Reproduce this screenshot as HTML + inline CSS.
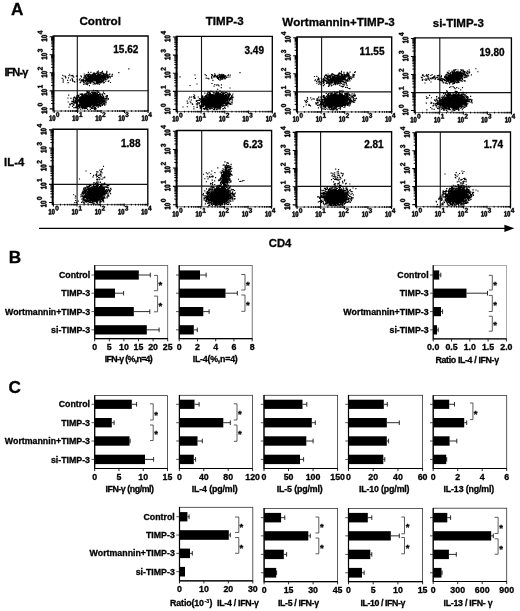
<!DOCTYPE html>
<html>
<head>
<meta charset="utf-8">
<title>Figure</title>
<style>
html,body{margin:0;padding:0;background:#fff;}
body{width:520px;height:611px;overflow:hidden;font-family:"Liberation Sans",sans-serif;}
svg{display:block;filter:blur(0.3px);}
svg text{font-family:"Liberation Sans",sans-serif;font-weight:bold;fill:#000;stroke:#000;stroke-width:0.3px;font-kerning:none;}
</style>
</head>
<body>
<svg width="520" height="611" viewBox="0 0 520 611">
<rect x="0" y="0" width="520" height="611" fill="#fff"/>
<defs>
<g id="T"><path d="M129 0V209H478V1170L140 959V1180L493 1409H759V209H1082V0Z"/><path transform="translate(1139 0)" d="M1055 705Q1055 348 932 164Q810 -20 565 -20Q81 -20 81 705Q81 958 134 1118Q187 1278 293 1354Q399 1430 573 1430Q823 1430 939 1249Q1055 1068 1055 705ZM773 705Q773 900 754 1008Q735 1116 693 1163Q651 1210 571 1210Q486 1210 442 1162Q399 1115 380 1007Q362 900 362 705Q362 512 381 403Q401 295 443 248Q486 201 567 201Q647 201 690 250Q734 300 753 409Q773 518 773 705Z"/></g>
<path id="d0" d="M1055 705Q1055 348 932 164Q810 -20 565 -20Q81 -20 81 705Q81 958 134 1118Q187 1278 293 1354Q399 1430 573 1430Q823 1430 939 1249Q1055 1068 1055 705ZM773 705Q773 900 754 1008Q735 1116 693 1163Q651 1210 571 1210Q486 1210 442 1162Q399 1115 380 1007Q362 900 362 705Q362 512 381 403Q401 295 443 248Q486 201 567 201Q647 201 690 250Q734 300 753 409Q773 518 773 705Z"/>
<path id="d1" d="M129 0V209H478V1170L140 959V1180L493 1409H759V209H1082V0Z"/>
<path id="d2" d="M71 0V195Q126 316 227 431Q329 546 483 671Q631 791 690 869Q750 947 750 1022Q750 1206 565 1206Q475 1206 427 1157Q380 1109 366 1012L83 1028Q107 1224 229 1327Q352 1430 563 1430Q791 1430 913 1326Q1035 1222 1035 1034Q1035 935 996 855Q957 775 896 707Q835 640 760 581Q686 522 616 466Q546 410 488 353Q431 296 403 231H1057V0Z"/>
<path id="d3" d="M1065 391Q1065 193 935 85Q805 -23 565 -23Q338 -23 204 81Q70 186 47 383L333 408Q360 205 564 205Q665 205 721 255Q777 305 777 408Q777 502 709 552Q641 602 507 602H409V829H501Q622 829 683 878Q744 928 744 1020Q744 1107 695 1156Q647 1206 554 1206Q467 1206 413 1158Q360 1110 352 1022L71 1042Q93 1224 222 1327Q351 1430 559 1430Q780 1430 904 1330Q1029 1231 1029 1055Q1029 923 951 838Q874 753 728 725V721Q890 702 977 614Q1065 527 1065 391Z"/>
<path id="d4" d="M940 287V0H672V287H31V498L626 1409H940V496H1128V287ZM672 957Q672 1011 675 1074Q679 1137 681 1155Q655 1099 587 993L260 496H672Z"/>
</defs>
<text x="10.9" y="14.8" font-size="17.2" text-anchor="start" >A</text>
<text x="8.7" y="262.9" font-size="17.2" text-anchor="start" >B</text>
<text x="8.4" y="393" font-size="17.2" text-anchor="start" >C</text>
<text x="100.2" y="25.4" font-size="11.7" text-anchor="middle" >Control</text>
<text x="224.7" y="25.2" font-size="11.5" text-anchor="middle" >TIMP-3</text>
<text x="338.5" y="25.5" font-size="11.6" text-anchor="middle" >Wortmannin+TIMP-3</text>
<text x="458.3" y="26.5" font-size="11.5" text-anchor="middle" >si-TIMP-3</text>
<text x="4.4" y="75.6" font-size="11" text-anchor="start" letter-spacing="-0.9">IFN-γ</text>
<text x="4.1" y="166.4" font-size="11.3" text-anchor="start" >IL-4</text>
<g>
<path d="M53.8 36H148.1V111" fill="none" stroke="#000" stroke-width="1.35"/>
<path d="M53.8 111H148.1" fill="none" stroke="#333" stroke-width="0.8"/>
<path d="M53.4 35.4V111.5" fill="none" stroke="#000" stroke-width="2"/>
<path d="M77.3 36V110.6M54.3 90.7H148.1" fill="none" stroke="#111" stroke-width="1.1"/>
<path d="M54.3 108.9h-4.6M54.1 110v2.9M54.3 90.85h-4.6M77.6 110v2.9M54.3 72.8h-4.6M101.1 110v2.9M54.3 54.75h-4.6M124.6 110v2.9M54.3 36.7h-4.6M148.1 110v2.9" stroke="#000" stroke-width="1.1" fill="none"/>
<path d="M54.3 103.47h-3.2M61.17 110.2v1.7M54.3 100.29h-3.2M65.31 110.2v1.7M54.3 98.03h-3.2M68.25 110.2v1.7M54.3 96.28h-3.2M70.53 110.2v1.7M54.3 94.85h-3.2M72.39 110.2v1.7M54.3 93.65h-3.2M73.96 110.2v1.7M54.3 92.6h-3.2M75.32 110.2v1.7M54.3 91.68h-3.2M76.52 110.2v1.7M54.3 85.42h-3.2M84.67 110.2v1.7M54.3 82.24h-3.2M88.81 110.2v1.7M54.3 79.98h-3.2M91.75 110.2v1.7M54.3 78.23h-3.2M94.03 110.2v1.7M54.3 76.8h-3.2M95.89 110.2v1.7M54.3 75.6h-3.2M97.46 110.2v1.7M54.3 74.55h-3.2M98.82 110.2v1.7M54.3 73.63h-3.2M100.02 110.2v1.7M54.3 67.37h-3.2M108.17 110.2v1.7M54.3 64.19h-3.2M112.31 110.2v1.7M54.3 61.93h-3.2M115.25 110.2v1.7M54.3 60.18h-3.2M117.53 110.2v1.7M54.3 58.75h-3.2M119.39 110.2v1.7M54.3 57.55h-3.2M120.96 110.2v1.7M54.3 56.5h-3.2M122.32 110.2v1.7M54.3 55.58h-3.2M123.52 110.2v1.7M54.3 49.32h-3.2M131.67 110.2v1.7M54.3 46.14h-3.2M135.81 110.2v1.7M54.3 43.88h-3.2M138.75 110.2v1.7M54.3 42.13h-3.2M141.03 110.2v1.7M54.3 40.7h-3.2M142.89 110.2v1.7M54.3 39.5h-3.2M144.46 110.2v1.7M54.3 38.45h-3.2M145.82 110.2v1.7M54.3 37.53h-3.2M147.02 110.2v1.7" stroke="#000" stroke-width="1" fill="none"/>
<use href="#T" transform="translate(49.1 120.8) scale(0.00282 -0.00381)" stroke="#000" stroke-width="150" stroke-linejoin="round"/>
<use href="#d0" transform="translate(55.9 116.9) scale(0.00315 -0.00332)" stroke="#000" stroke-width="130" stroke-linejoin="round"/>
<g transform="translate(47.1 113.6) rotate(-90)">
<use href="#T" transform="translate(-0.2 0) scale(0.00296 -0.00400)" stroke="#000" stroke-width="150" stroke-linejoin="round"/>
<use href="#d0" transform="translate(7.1 -4.6) scale(0.00325 -0.00342)" stroke="#000" stroke-width="130" stroke-linejoin="round"/>
</g>
<use href="#T" transform="translate(72.2 120.8) scale(0.00282 -0.00381)" stroke="#000" stroke-width="150" stroke-linejoin="round"/>
<use href="#d1" transform="translate(79 116.9) scale(0.00315 -0.00332)" stroke="#000" stroke-width="130" stroke-linejoin="round"/>
<g transform="translate(47.1 95.55) rotate(-90)">
<use href="#T" transform="translate(-0.2 0) scale(0.00296 -0.00400)" stroke="#000" stroke-width="150" stroke-linejoin="round"/>
<use href="#d1" transform="translate(7.1 -4.6) scale(0.00325 -0.00342)" stroke="#000" stroke-width="130" stroke-linejoin="round"/>
</g>
<use href="#T" transform="translate(95.3 120.8) scale(0.00282 -0.00381)" stroke="#000" stroke-width="150" stroke-linejoin="round"/>
<use href="#d2" transform="translate(102.1 116.9) scale(0.00315 -0.00332)" stroke="#000" stroke-width="130" stroke-linejoin="round"/>
<g transform="translate(47.1 77.5) rotate(-90)">
<use href="#T" transform="translate(-0.2 0) scale(0.00296 -0.00400)" stroke="#000" stroke-width="150" stroke-linejoin="round"/>
<use href="#d2" transform="translate(7.1 -4.6) scale(0.00325 -0.00342)" stroke="#000" stroke-width="130" stroke-linejoin="round"/>
</g>
<use href="#T" transform="translate(118.4 120.8) scale(0.00282 -0.00381)" stroke="#000" stroke-width="150" stroke-linejoin="round"/>
<use href="#d3" transform="translate(125.2 116.9) scale(0.00315 -0.00332)" stroke="#000" stroke-width="130" stroke-linejoin="round"/>
<g transform="translate(47.1 59.45) rotate(-90)">
<use href="#T" transform="translate(-0.2 0) scale(0.00296 -0.00400)" stroke="#000" stroke-width="150" stroke-linejoin="round"/>
<use href="#d3" transform="translate(7.1 -4.6) scale(0.00325 -0.00342)" stroke="#000" stroke-width="130" stroke-linejoin="round"/>
</g>
<use href="#T" transform="translate(141.5 120.8) scale(0.00282 -0.00381)" stroke="#000" stroke-width="150" stroke-linejoin="round"/>
<use href="#d4" transform="translate(148.3 116.9) scale(0.00315 -0.00332)" stroke="#000" stroke-width="130" stroke-linejoin="round"/>
<g transform="translate(47.1 41.4) rotate(-90)">
<use href="#T" transform="translate(-0.2 0) scale(0.00296 -0.00400)" stroke="#000" stroke-width="150" stroke-linejoin="round"/>
<use href="#d4" transform="translate(7.1 -4.6) scale(0.00325 -0.00342)" stroke="#000" stroke-width="130" stroke-linejoin="round"/>
</g>
<clipPath id="c0"><rect x="54.3" y="36" width="93.8" height="74.3"/></clipPath>
<g clip-path="url(#c0)">
<path d="M78.4 105.3h0M76.9 95.9h0M86.2 107.5h0M92.6 94.6h0M75.3 101.4h0M79.9 105h0M100.9 100.3h0M98.6 91.7h0M79.6 102.9h0M101.1 101.1h0M82.5 105.2h0M102.2 101.1h0M79.4 106.8h0M75.4 100.2h0M95.4 93h0M81.4 107.7h0M100.7 97.4h0M80 101.4h0M100 95.3h0M98.8 94.6h0M98.9 102.5h0M105.1 99.6h0M108.2 99.3h0M97 95.2h0M97.2 105.1h0M77.6 101h0M97.4 94.1h0M94.4 94.3h0M90.3 106.2h0M78.2 96.5h0M81.9 96.2h0M99.9 101.9h0M100.5 95.5h0M96.6 105.5h0M84.5 107.1h0M76.5 107.7h0M100.7 95.2h0M99.3 104.8h0M100.7 98.3h0M100.5 98.1h0M73.2 101.4h0M77 105.4h0M102 104.9h0M75.9 98.5h0M76.4 106.4h0M103.3 98.8h0M77.8 100h0M78.4 99.8h0M78.9 101.6h0M73.1 104.1h0M84.5 94h0M73.4 99.6h0M100.3 101.5h0M92.4 92.4h0M97.4 104.4h0M103.5 92.1h0M94.9 108.9h0M104 98.1h0M93.5 90.3h0M102.8 100.3h0M76.5 106.3h0M100.8 105.8h0M79.6 99.5h0M106.3 102.1h0M80.8 96.8h0M103.2 102.4h0M104 101.6h0M74 100h0M76.3 102.7h0M83.4 107.4h0M86.7 95.9h0M101.4 101.6h0M102.8 102.4h0M97.1 95.5h0M89.5 95.1h0M86 93.6h0M87.8 95.5h0M103.9 100.5h0M97.8 96.1h0M87.9 94h0M76.3 102.3h0M93.9 93.4h0M76.3 98.5h0M84.9 96h0M101.8 103.2h0M80.3 100h0M81.9 97.6h0M93 94.2h0M79.3 102.8h0M90.6 95.3h0M84.2 96.3h0M107.1 96.9h0M97.2 90.6h0M95.8 108.4h0M98.3 95.6h0M93.1 108h0M85.4 107.7h0M102.4 98.9h0M100.2 96.5h0M101.9 103.1h0M87.6 109.4h0M78.3 108.8h0M99.6 94.6h0M78.3 96.1h0M89.6 95.2h0M87.5 106.7h0M95.4 107.6h0M75.9 99.2h0M79.9 101.8h0M103.6 96.5h0M101.6 100.1h0M77.9 107.6h0M95.9 93.2h0M79.1 101.3h0M100.8 96.9h0M82 96.6h0M102.8 100.3h0M93.1 108.4h0M82.2 97.3h0M100.2 97.7h0M101.1 97.5h0M79.2 102.1h0M80.9 94.4h0M92.9 94.3h0M93.3 106.3h0M80.1 94.1h0M101.8 94.2h0M98.1 107.4h0M82.5 107h0M79.6 108h0M79.4 105.7h0M88.8 92.7h0M99.8 97.8h0M90.1 106.4h0M102.5 98.9h0M98.8 96.6h0M107.4 95.6h0M93.3 94.3h0M95 94.1h0M95 105.7h0M81.7 97.9h0M89 93.4h0M99.8 105.5h0M93.3 95h0M77 103.5h0M98 92.4h0M90.3 107h0M81.4 98.8h0M90.6 105.5h0M96.7 104.5h0M106 98.6h0M78.6 105.3h0M78.2 106.5h0M79.1 95.7h0M99.2 102h0M73.5 101.7h0M95.4 90.6h0M98.2 96.4h0M79.1 106.2h0M86.7 93.1h0M80.9 104.3h0M100.4 99.8h0M90.4 94h0M88 94.4h0M87.7 94h0M71.9 103.5h0M93.1 91.7h0M73.7 102.7h0M100.3 106.5h0M82.6 94.4h0M97.3 105.2h0M76.4 98.7h0M82.9 106.4h0M80.5 99h0M74.6 102.1h0M102.5 105.3h0M99.2 102.2h0M98.4 94.6h0M100.8 99.4h0M100.9 96.7h0M91.5 108.4h0M102.4 101.1h0M94 104.8h0M79.7 101.7h0M105.2 100.7h0M91.8 94.5h0M104.4 98.8h0M84.7 106.6h0M84.5 94.5h0M89.9 105.9h0M88.3 91.8h0M92.4 108.3h0M81.9 97.5h0M76.6 103.8h0M84.6 94.3h0M79.7 104.3h0M93.3 105.1h0M105 102.3h0M104.1 103.9h0M85.9 96.2h0M85.5 95.4h0M82.1 106.9h0M95.8 92.6h0M104.1 101.6h0M104.7 93.9h0M97.1 93.9h0M80.4 96.7h0M88.6 106.5h0M95.7 95.6h0M78.9 104.6h0M84.3 106.1h0M77.2 102.7h0M83.1 107.3h0M90.3 109.4h0M98.7 102.7h0M101.9 102.1h0M85.1 95h0M79.9 107.3h0M78 101h0M89.7 95.2h0M98.9 105.2h0M83.2 96.3h0M85.2 94.3h0M101.8 97.9h0M106 104h0M103.1 98h0M94.4 104.9h0M80.3 105.8h0M97 103.5h0M80.7 105.3h0M78.9 99.3h0M86.5 93.4h0M91.1 94.6h0M96.2 95.1h0M86.9 105.8h0M91.7 94.5h0M81.5 94h0M95.2 104.8h0M97.8 105h0M78.7 100.6h0M79.7 101.6h0M75.8 107.4h0M93.7 105.5h0M81 105.7h0M80.6 104.6h0M93 106.2h0M93.7 106.6h0M99.6 103.9h0M93.3 95.1h0M94.4 109.4h0M84.5 105.6h0M95 93.6h0M101.9 99h0M81.1 104.1h0M102.7 95.6h0M103.4 101.1h0M100.3 95.4h0M99.7 104.6h0M108.3 98.6h0M92.4 106.6h0M100.4 95.3h0M98.8 106.1h0M79.7 97.9h0M81.6 94.8h0M92.6 93.2h0M94.6 105.3h0M78.2 101h0M76.5 105.3h0M75.8 100.7h0M104.3 98.8h0M82.2 95.5h0M82.9 97.5h0M100.2 100h0M82.1 93.7h0M87.5 95.8h0M83.4 107.8h0M77.6 101.2h0M82.1 96.2h0M81 96.9h0M101.8 100.4h0M98.7 96.9h0M82.4 96.1h0M98.3 96.6h0M82.1 98.1h0M91.6 92.1h0M95.1 93.9h0M78.5 95.4h0M75.1 97.8h0M101.3 99.1h0M104.9 105.2h0M103.3 102.6h0M102.5 100.8h0M85.9 93.9h0M81.7 97.5h0M74 104.9h0M100.9 99.5h0M86.5 106.6h0M98.4 105.8h0M80.3 104h0M99 104.5h0M83.9 105.5h0M81.1 106.1h0M102 96.6h0M85.3 94.5h0M85.9 105.5h0M103.7 97.6h0M76.8 105.8h0M82.8 105.5h0M77 97.6h0M95.4 92.6h0M103.8 100.4h0M94.8 92.9h0M97.3 94h0M82.7 94h0M77.5 100.1h0M94.8 105.8h0M81.1 98.3h0M90.7 106.7h0M102 102.4h0M76 98.7h0M95.7 105h0M98.8 102.6h0M101.7 96.8h0M96.9 90.8h0M76 99.8h0M73.4 105.2h0M104.6 104.9h0M77.6 95h0M102.6 94.1h0M92 94.5h0M89.5 91.8h0M79.4 98.6h0M106.8 100.1h0M94.5 108.5h0M99.7 93.4h0M104.7 103.4h0M95.2 95.4h0M100.1 105.1h0M84.6 108.6h0M105.2 101.2h0M106.9 98.1h0M96.3 105.4h0M80.9 98h0M97.3 93.2h0M96.5 106.1h0M99.2 103.3h0M95.2 93h0M86 106.4h0M81.8 105.9h0M104.4 101.4h0M91.1 107.3h0M100.1 99.7h0M97.5 95.1h0M77.4 98.2h0M97.1 91.7h0M77.1 107.8h0M94.6 92.1h0M94.9 93.2h0M106.4 95.9h0M102.5 97.5h0M99.5 97.2h0M94.7 92.6h0M73.8 100.6h0M87.3 106h0M95 95.5h0M80.3 99.6h0M94.5 105.5h0M87.5 107h0M79.4 104.3h0M101.6 97.3h0M84.2 105.8h0M78.9 97.2h0M88.5 94.6h0M91.9 94.5h0M71.4 103.3h0M92.3 92.8h0M92.5 93.1h0M97.1 93.6h0M76.3 106.1h0M100.9 95.9h0M80.6 109.2h0M76.2 99h0M80.9 103.7h0M76.8 101.1h0M103.6 97.7h0M98.6 95.8h0M82.9 97.8h0M79.7 105.4h0M87 106.3h0M89.9 105.9h0M76.6 101.4h0M79.5 97.6h0M103.7 103.3h0M105.1 101.1h0M73.4 98.2h0M81 103.7h0M102.8 95.6h0M85 108.6h0M74.5 97h0M72.3 103.3h0M85.7 108.2h0M77.4 103h0M100.7 103.9h0M97.3 104.4h0M77.5 104.8h0M83.8 106.2h0M77.9 108.8h0M96.1 108.5h0M89.5 107h0M82.7 105.2h0M97.4 106h0M86.2 106h0M99 103.5h0M100.4 95.6h0M100.3 94.1h0M101.2 100h0M81.4 104.6h0M103.1 104.2h0M88.2 94.9h0M80.3 104.1h0M95.8 94.1h0M95.7 95.7h0M100.7 103.3h0M95.3 107.8h0M89 93.6h0M100 96.7h0M88.2 93.8h0M101.2 100.9h0M85.4 94.7h0M100.3 98.1h0M86.5 95.6h0M86.6 108.4h0M84.3 107.3h0M78.1 100.3h0M96.1 104.5h0M90.6 93.4h0M94.7 105.4h0M102.4 98.5h0M100.7 102h0M99.1 96.7h0M77.4 96h0M102.8 99.8h0M95 104.7h0M98.7 92.3h0M97.3 105.2h0M95.3 94.4h0M81.5 106.9h0M80.5 99.7h0M94.3 94.6h0M104.1 93.5h0M72.5 106.4h0M97.1 93.3h0M88.7 106.1h0M82.5 95.5h0M105.8 96.8h0M99.9 97.9h0M85.1 96.6h0M82.6 108h0M99.9 101.9h0M102 103.7h0M77 105.1h0M78.9 100.2h0M101.9 98.5h0M101.8 103.1h0M97.5 96.1h0M102.6 95h0M96.9 104.9h0M84.2 106.7h0M83.5 95.1h0M87.5 91.8h0M77.3 100.3h0M103.6 104.2h0M100.9 103.3h0M88.2 106.3h0M84.4 95h0M75.3 102.5h0M96.7 105.9h0M96.7 95.9h0M94.5 107.6h0M71.9 101.4h0M78.2 99.8h0M98.4 94.7h0M82.7 97.6h0M93.4 92.8h0M100.2 97h0M86.9 106.9h0M105.1 98.8h0M83 106.6h0M77.4 105.6h0M77.9 97.7h0M87 91.4h0M94.7 92.8h0M97.1 95.8h0M85.3 106.7h0M100.3 100.6h0M80.8 97.9h0M79.9 100.1h0M86.4 94.9h0M72.8 101.7h0M79.7 102.8h0M87.8 92.4h0M84.1 108.6h0M100 102.9h0M100.2 101.2h0M78.9 106.4h0M76.9 106.9h0M99.6 97.4h0M90.1 95.2h0M99.1 105.5h0M89.4 93.7h0M74.9 103.4h0M96.7 104.4h0M76.4 98.8h0M95 107.3h0M82.7 106.5h0M106.4 98.7h0M97.9 104.4h0M82.4 108.7h0M86 93.5h0M92.4 106.8h0M85.1 108.2h0M95.7 104.9h0M98.1 104.3h0M95.7 109.3h0M98.5 95.3h0M85.5 96.1h0M97.8 95.2h0M73.7 107.7h0M76.4 97.1h0M90.6 105.6h0M101.8 73.2h0M90.3 76h0M89.5 85.6h0M107 76.5h0M100.3 74.8h0M97.3 81.6h0M95.2 75.4h0M93.8 75.6h0M86.6 78.7h0M89.6 76.4h0M97.9 81.4h0M95.2 84h0M85.3 80.2h0M88.2 78.6h0M103 75.5h0M87.6 78.7h0M102.3 81.6h0M86.6 80.3h0M101.8 72.1h0M86.9 82.7h0M101.1 78.8h0M98.1 74.6h0M92.9 75.6h0M84 80.3h0M92.7 76.1h0M91.8 80.4h0M98.9 80.9h0M86.5 75.2h0M98.3 80.4h0M97.8 74.1h0M89.9 79.8h0M87.9 81.3h0M97.8 75.4h0M89.5 81.3h0M106.1 75.8h0M89.3 81.8h0M95.7 75.4h0M87.9 78.6h0M104.7 74.1h0M104.8 77.3h0M88.6 79.7h0M99.2 75.1h0M82 80.9h0M88.7 80.2h0M83.2 79.4h0M90 74.9h0M91.7 75.4h0M96.6 73.3h0M107.1 78.8h0M95.5 74.5h0M105.6 78h0M93.5 75.3h0M105.7 78h0M88.3 80.8h0M108.2 76.2h0M92.1 81.4h0M100.8 74.6h0M88.8 78.8h0M103.4 73.3h0M89.4 78.3h0M88.3 79.8h0M90.1 77.5h0M103.1 75.3h0M89 78.4h0M94.7 83h0M93.6 82.5h0M98.2 74.2h0M80.9 81.9h0M83.1 81.7h0M102.7 78.1h0M103.2 75.3h0M97.9 74.7h0M90.7 75.1h0M98.4 71.1h0M87.6 81.2h0M95.9 83.9h0M105.7 78.1h0M108.4 77.6h0M89.1 81.6h0M97.7 81.1h0M102.3 78.8h0M94.4 75.3h0M103.3 75.7h0M94.6 80.6h0M95.4 74.9h0M82.5 80.4h0M88.7 77h0M94.7 83.9h0M80.9 75.9h0M87.5 84.6h0M92.5 81h0M96.6 82.4h0M101.5 81.5h0M84.3 78.1h0M89.4 77.2h0M103.8 77.6h0M104.1 79.1h0M102.1 79.8h0M92.2 80.6h0M104.3 82.5h0M90.1 83.4h0M100.9 75.1h0M87.5 79.3h0M101.7 79.2h0M100.5 80.2h0M89.4 78.8h0M98.4 80.3h0M97.4 83.3h0M81.6 79.9h0M111.9 76.4h0M84 80h0M86.3 77.6h0M97.9 82.2h0M102.5 77.6h0M85.7 76.7h0M96.6 81.6h0M87.8 76.3h0M97.9 75.4h0M98.2 74.8h0M102.1 76.1h0M96.8 82.3h0M107.7 76.2h0M88 79.5h0M97.7 71.9h0M95.4 74.2h0M99.3 81.1h0M102 73.2h0M105.1 79.1h0M105.5 75.8h0M102.5 71.4h0M104.6 74.2h0M101.2 73h0M89.5 77.3h0M100.6 73.1h0M103.7 76.1h0M107.3 75.4h0M96.4 83.1h0M81.1 80.3h0M91.1 74.7h0M87 82.2h0M98 73.7h0M107.3 74.6h0M87.8 74.9h0M91.4 81.7h0M101.4 73.1h0M103.6 77h0M98.1 75h0M89.7 77h0M88.5 83.2h0M93.2 75.6h0M88.7 74.8h0M103.6 79.7h0M108.1 77.6h0M101.9 76.5h0M98.9 83.2h0M84.3 75.9h0M89.8 80.8h0M103.4 76h0M103.9 82.7h0M84.2 81h0M96.1 80.5h0M103 79h0M100.7 74.8h0M85.3 83.9h0M103.3 74.4h0M104.4 78.5h0M80.2 82.6h0M89.8 81.9h0M91.1 76.7h0M85.7 78.9h0M102.2 75.3h0M108 78.1h0M91.9 75.4h0M85.4 80.9h0M103.8 74.1h0M109.1 74.5h0M101.7 80h0M87.5 82h0M88.9 78.2h0M105.4 76.1h0M98.7 73.7h0M83.8 84.5h0M92.7 74.4h0M84.3 77.3h0M97.2 75.4h0M101.3 79.8h0M94.2 80.8h0M112.5 74.2h0M93 81h0M90.8 80.4h0M100.8 83h0M83.8 81.3h0M87.7 75.5h0M95.7 74.9h0M86.2 77.9h0M86.7 83.9h0M99.4 74.4h0M86.8 84.4h0M103.7 78.4h0M95.5 73.9h0M85.7 82h0M84.2 74h0M88.5 75.9h0M96.5 75.2h0M105.9 74.9h0M92.4 80.8h0M97.6 75.4h0M101.9 82.2h0M87.7 78.5h0M88.1 74h0M100.1 79.2h0M102.3 78.2h0M82.6 79.8h0M91 75.6h0M88.8 81h0M94.6 83.4h0M98.2 72.6h0M102.1 80.4h0M95.6 74.8h0M106.9 73h0M94.6 73.1h0M87 74.7h0M103.4 80.1h0M92.6 74.8h0M85.4 76.4h0M97.5 75.3h0M105.3 76.7h0M102.8 78.1h0M84.1 78h0M108.2 77.5h0M91.3 76.8h0M92 81.6h0M98.9 82.3h0M99.8 82.5h0M98.4 74.5h0M107.4 77.3h0M103.7 77.5h0M88 75.9h0M89.7 77.4h0M86.8 79h0M98.6 83h0M107.9 76.2h0M86.2 80.5h0M93.5 75.4h0M100.2 81.6h0M88.6 78.7h0M99.7 81.5h0M85.9 77.8h0M106.7 75.7h0M109.9 74.1h0M93.4 74.1h0M109.3 76.6h0M93.6 74.5h0M95.6 80.6h0M101.2 80.5h0M87.6 83.8h0M97.9 74.9h0M103 80.9h0M105.6 74.1h0M83.5 80.5h0M88.2 77.8h0M110.5 76.7h0M90.9 72.3h0M102.9 76.6h0M94.7 75.5h0M100 72.6h0M98.3 81.2h0M100.9 73.1h0M101.9 75h0M85.3 75.5h0M86.3 79.7h0M101.1 75.8h0M103.3 79.2h0M87.3 80.2h0M88.4 75.8h0M89.2 79.4h0M90.3 75h0M97 81.8h0M92.7 75.6h0M105.7 81.2h0M97.1 80.5h0M98.1 72.7h0M88 75.8h0M107.7 75.6h0M97.6 84h0M98.3 81.7h0M104.3 75.2h0M106.1 75.8h0M101.1 81.8h0M100.4 80.1h0M105.5 79.6h0M106.8 72.6h0M109 76.2h0M83.8 77.9h0M86.4 79.3h0M85.4 76.7h0M101.1 72.9h0M104.1 76.3h0M93.4 73.1h0M92.1 75.1h0M88.4 78.7h0M88.4 81.1h0M86.2 74.5h0M93.8 73.4h0M106.4 73.8h0M89.6 74.1h0M83.6 82.1h0M103.5 82.8h0M86.2 80.9h0M102.1 78.8h0M105.5 76.2h0M105.9 74.7h0M96.2 80.8h0M106.7 72.4h0M90.9 82.8h0M97.2 72.1h0M97.7 74.5h0M106.2 79.7h0M92.6 82h0M90.5 81.2h0M86.1 78.6h0M80.2 78.7h0M83.8 83h0M88.4 72.4h0M93.2 84.1h0M99.4 80.1h0M91.3 74.8h0M94.9 73.6h0M106.1 77.3h0M105.1 75.8h0M87.2 77h0M87 76.8h0M102 79.2h0M105.8 75.8h0M94.7 82.8h0M93.9 80.9h0M92.7 75.7h0M101.3 76.2h0M102.7 73.1h0M90.5 75.7h0M102.3 76.8h0M90.4 75.9h0M109 76.6h0M108.3 81.3h0M89.2 82.2h0M104 80.5h0M96.1 80.6h0M96.6 82.7h0M94.7 80.8h0M91.2 80.4h0M90.7 76.3h0M88.6 74.6h0M85.7 80.5h0M97.1 80.7h0M91.3 81h0M103.5 75.6h0M95 74.6h0M106.9 71.4h0M103.3 75.8h0M102.3 75.7h0M99.1 81.4h0M103.4 76.6h0M90.8 76h0M103.4 77.4h0M94.8 74.8h0M97 81h0M87.7 76.7h0M103.8 80.8h0M106 75.1h0M99.5 75.4h0M97.6 81.4h0M100.4 81.6h0M81.5 76.8h0M87.8 81.5h0M112.2 76.2h0M97 80.9h0M79.4 79.8h0M103.2 76.9h0M99.3 84.4h0M93.1 80.9h0M90.7 82.1h0M102.3 77.5h0M103 81.3h0M105 76.7h0M95.8 81h0M85.7 77.8h0M108.9 80.9h0M86.9 78.7h0M89.2 77.4h0M84.4 82.7h0M88.1 74.5h0M102.1 76.1h0M110.2 77.9h0M109 75h0M88.8 80.6h0M102.4 73.1h0M90.8 76h0M72.5 79.3h0M74.8 82.1h0M77.4 75.7h0M63.2 82.1h0M71.1 75.6h0M73.1 76.3h0M65.8 77.3h0M70.4 80.1h0M63.2 80.7h0M72 78.2h0M72.8 81.2h0M62.2 78.3h0M72.8 80.4h0M72.4 75.6h0M77.3 81.1h0M65.7 77.9h0M77.3 75.9h0M68.5 82.7h0M76.4 76.1h0M73.8 77.2h0M72.6 80.9h0M64 76h0M65.4 76.4h0M62.6 75.2h0M68.5 77.8h0M63.2 79.2h0M77.1 79.2h0M67.7 80.3h0M69 75.6h0M69.7 74.2h0M72.8 75.4h0M67.9 82.7h0M74.3 81.5h0M72.3 79.7h0M75 107.6h0M70 105h0M71 98.3h0M76.2 102.8h0M76.5 106.4h0M73.9 97.6h0M68.2 102h0M75.3 98.5h0M68.7 95.1h0M69.7 104h0M68 98h0M70.7 104.2h0M77.9 95.3h0M69.1 107.1h0M118.8 72.6h0M128.8 68.8h0M112 75h0M110.5 82.5h0" stroke="#000" stroke-width="1.15" stroke-linecap="square" fill="none"/>
<ellipse cx="90.2" cy="100.5" rx="11.1" ry="5.55" transform="rotate(-8 90.2 100.5)" fill="#000"/>
<ellipse cx="95.8" cy="78" rx="6.8" ry="2.7" transform="rotate(-8 95.8 78)" fill="#000"/>
</g>
<text x="138.3" y="52.8" font-size="10" text-anchor="end" >15.62</text>
</g>
<g>
<path d="M177 36.3H272.3V111.6" fill="none" stroke="#000" stroke-width="1.35"/>
<path d="M177 111.6H272.3" fill="none" stroke="#333" stroke-width="0.8"/>
<path d="M176.6 35.7V112.1" fill="none" stroke="#000" stroke-width="2"/>
<path d="M201.5 36.3V111.2M177.5 91.3H272.3" fill="none" stroke="#111" stroke-width="1.1"/>
<path d="M177.5 109.5h-4.6M177.3 110.6v2.9M177.5 91.38h-4.6M201.05 110.6v2.9M177.5 73.25h-4.6M224.8 110.6v2.9M177.5 55.12h-4.6M248.55 110.6v2.9M177.5 37h-4.6M272.3 110.6v2.9" stroke="#000" stroke-width="1.1" fill="none"/>
<path d="M177.5 104.04h-3.2M184.45 110.8v1.7M177.5 100.85h-3.2M188.63 110.8v1.7M177.5 98.59h-3.2M191.6 110.8v1.7M177.5 96.83h-3.2M193.9 110.8v1.7M177.5 95.4h-3.2M195.78 110.8v1.7M177.5 94.18h-3.2M197.37 110.8v1.7M177.5 93.13h-3.2M198.75 110.8v1.7M177.5 92.2h-3.2M199.96 110.8v1.7M177.5 85.92h-3.2M208.2 110.8v1.7M177.5 82.73h-3.2M212.38 110.8v1.7M177.5 80.46h-3.2M215.35 110.8v1.7M177.5 78.71h-3.2M217.65 110.8v1.7M177.5 77.27h-3.2M219.53 110.8v1.7M177.5 76.06h-3.2M221.12 110.8v1.7M177.5 75.01h-3.2M222.5 110.8v1.7M177.5 74.08h-3.2M223.71 110.8v1.7M177.5 67.79h-3.2M231.95 110.8v1.7M177.5 64.6h-3.2M236.13 110.8v1.7M177.5 62.34h-3.2M239.1 110.8v1.7M177.5 60.58h-3.2M241.4 110.8v1.7M177.5 59.15h-3.2M243.28 110.8v1.7M177.5 57.93h-3.2M244.87 110.8v1.7M177.5 56.88h-3.2M246.25 110.8v1.7M177.5 55.95h-3.2M247.46 110.8v1.7M177.5 49.67h-3.2M255.7 110.8v1.7M177.5 46.48h-3.2M259.88 110.8v1.7M177.5 44.21h-3.2M262.85 110.8v1.7M177.5 42.46h-3.2M265.15 110.8v1.7M177.5 41.02h-3.2M267.03 110.8v1.7M177.5 39.81h-3.2M268.62 110.8v1.7M177.5 38.76h-3.2M270 110.8v1.7M177.5 37.83h-3.2M271.21 110.8v1.7" stroke="#000" stroke-width="1" fill="none"/>
<use href="#T" transform="translate(172.3 121.4) scale(0.00282 -0.00381)" stroke="#000" stroke-width="150" stroke-linejoin="round"/>
<use href="#d0" transform="translate(179.1 117.5) scale(0.00315 -0.00332)" stroke="#000" stroke-width="130" stroke-linejoin="round"/>
<g transform="translate(170.3 114.2) rotate(-90)">
<use href="#T" transform="translate(-0.2 0) scale(0.00296 -0.00400)" stroke="#000" stroke-width="150" stroke-linejoin="round"/>
<use href="#d0" transform="translate(7.1 -4.6) scale(0.00325 -0.00342)" stroke="#000" stroke-width="130" stroke-linejoin="round"/>
</g>
<use href="#T" transform="translate(195.65 121.4) scale(0.00282 -0.00381)" stroke="#000" stroke-width="150" stroke-linejoin="round"/>
<use href="#d1" transform="translate(202.45 117.5) scale(0.00315 -0.00332)" stroke="#000" stroke-width="130" stroke-linejoin="round"/>
<g transform="translate(170.3 96.08) rotate(-90)">
<use href="#T" transform="translate(-0.2 0) scale(0.00296 -0.00400)" stroke="#000" stroke-width="150" stroke-linejoin="round"/>
<use href="#d1" transform="translate(7.1 -4.6) scale(0.00325 -0.00342)" stroke="#000" stroke-width="130" stroke-linejoin="round"/>
</g>
<use href="#T" transform="translate(219 121.4) scale(0.00282 -0.00381)" stroke="#000" stroke-width="150" stroke-linejoin="round"/>
<use href="#d2" transform="translate(225.8 117.5) scale(0.00315 -0.00332)" stroke="#000" stroke-width="130" stroke-linejoin="round"/>
<g transform="translate(170.3 77.95) rotate(-90)">
<use href="#T" transform="translate(-0.2 0) scale(0.00296 -0.00400)" stroke="#000" stroke-width="150" stroke-linejoin="round"/>
<use href="#d2" transform="translate(7.1 -4.6) scale(0.00325 -0.00342)" stroke="#000" stroke-width="130" stroke-linejoin="round"/>
</g>
<use href="#T" transform="translate(242.35 121.4) scale(0.00282 -0.00381)" stroke="#000" stroke-width="150" stroke-linejoin="round"/>
<use href="#d3" transform="translate(249.15 117.5) scale(0.00315 -0.00332)" stroke="#000" stroke-width="130" stroke-linejoin="round"/>
<g transform="translate(170.3 59.83) rotate(-90)">
<use href="#T" transform="translate(-0.2 0) scale(0.00296 -0.00400)" stroke="#000" stroke-width="150" stroke-linejoin="round"/>
<use href="#d3" transform="translate(7.1 -4.6) scale(0.00325 -0.00342)" stroke="#000" stroke-width="130" stroke-linejoin="round"/>
</g>
<use href="#T" transform="translate(265.7 121.4) scale(0.00282 -0.00381)" stroke="#000" stroke-width="150" stroke-linejoin="round"/>
<use href="#d4" transform="translate(272.5 117.5) scale(0.00315 -0.00332)" stroke="#000" stroke-width="130" stroke-linejoin="round"/>
<g transform="translate(170.3 41.7) rotate(-90)">
<use href="#T" transform="translate(-0.2 0) scale(0.00296 -0.00400)" stroke="#000" stroke-width="150" stroke-linejoin="round"/>
<use href="#d4" transform="translate(7.1 -4.6) scale(0.00325 -0.00342)" stroke="#000" stroke-width="130" stroke-linejoin="round"/>
</g>
<clipPath id="c1"><rect x="177.5" y="36.3" width="94.8" height="74.6"/></clipPath>
<g clip-path="url(#c1)">
<path d="M206.6 97.7h0M215.2 107.7h0M218.3 93.5h0M220.3 105.8h0M218.8 93.6h0M203.5 101.1h0M227.2 100.3h0M207.4 97.2h0M202.5 96.9h0M216.2 93.3h0M210 91.7h0M211.3 107h0M225.1 101.2h0M228.7 95.5h0M211.4 94.7h0M230.3 94.6h0M205.3 103.6h0M231.3 97.4h0M226.9 101.8h0M231.9 104h0M222 105.7h0M215.5 107.1h0M227.1 93.7h0M197.2 104.9h0M204 103.6h0M223.1 108.9h0M226.6 103.6h0M221.8 105.5h0M203.8 105.9h0M227.9 99.4h0M202.1 97.3h0M222.4 93.8h0M218.8 108.8h0M206.8 104.9h0M224.2 95.2h0M217.1 109.3h0M212.7 94.5h0M222.4 93.3h0M226.3 96.7h0M209.8 96.3h0M230 101h0M209.2 107.4h0M217.2 92.6h0M220 90.8h0M212.2 106.3h0M224.5 95.6h0M210.6 108.8h0M202.9 98.6h0M202.6 106.6h0M226.2 97.6h0M227.8 105.1h0M204.9 104.7h0M201.5 101.6h0M218.3 106.7h0M209.8 92.7h0M210.3 107h0M204.3 102.2h0M227.9 106.7h0M215.1 92.8h0M205.4 108.9h0M199.4 102.8h0M229.5 93h0M198 102.5h0M205.5 96.9h0M206.7 104.4h0M211.9 94.8h0M201.8 97.5h0M212.2 94.7h0M211.7 95.2h0M214.3 108.3h0M217.8 94.7h0M209.6 107.3h0M197.3 107.1h0M197.6 104h0M208.1 91.9h0M224.7 105.8h0M221.6 94.7h0M209.5 105.9h0M204.7 100.2h0M212.3 91.5h0M222.4 94.1h0M205.4 98.9h0M206.8 109.9h0M225.4 95h0M205.9 108.4h0M224.5 97h0M208.1 105.2h0M205.5 108.7h0M209.4 107.9h0M222.1 104.8h0M228.2 101.5h0M213.2 94.7h0M229.8 93.6h0M199 100.2h0M230.3 103.4h0M214 93.1h0M223.3 94.9h0M211.8 95.8h0M220.3 104.9h0M204.8 93h0M208.8 106.8h0M203.5 104.9h0M222.2 96.1h0M228.7 96.1h0M207.4 105.8h0M228.7 99h0M228.6 99.1h0M206.2 105h0M204.1 99.6h0M200.2 108.2h0M231.4 95.9h0M225.6 95.3h0M217.6 93.3h0M226.6 98.8h0M210.9 107.3h0M215.3 106.1h0M224.2 106h0M226.2 96.4h0M223.5 104.9h0M200.3 99h0M213.2 95.3h0M204.7 108.6h0M218.9 94h0M201.3 104.8h0M201.3 108.3h0M216.4 107.8h0M228.2 102.9h0M212.1 94.9h0M206.8 109.5h0M223.4 96.6h0M227.7 97.7h0M229.4 103.8h0M218.4 94.7h0M202.1 104.2h0M231.4 96.3h0M222 104.8h0M203.1 100.2h0M225.7 97.3h0M204.5 109.5h0M221.9 95.3h0M209.4 105.7h0M220.3 95h0M207.3 93.6h0M226.4 98.8h0M202.1 106.9h0M203 98.5h0M222.3 106.4h0M229.9 104.1h0M214.7 108.8h0M225.3 103.5h0M208.7 106h0M225.6 99h0M206.1 108.5h0M203.5 98.6h0M207.6 95.2h0M223.9 97h0M224.8 102.4h0M197.8 102.5h0M224.7 96.1h0M220.8 95.3h0M221.7 104.4h0M213.9 94.7h0M206.6 105.4h0M231.9 97.8h0M227.4 96.1h0M210 95.8h0M226.8 100.8h0M204.5 99.1h0M209.4 106.5h0M208.1 106.3h0M225.8 102.7h0M221.7 95.6h0M224.6 106h0M207.7 105.8h0M207 108.2h0M225.7 95.5h0M225.6 98.2h0M215.9 94.5h0M216.6 109.5h0M210.8 94.3h0M203.4 103.1h0M208.1 106.8h0M217.6 107.2h0M208.3 96.8h0M207.1 97.3h0M204.8 93.2h0M217.9 94.2h0M210.5 93.2h0M223.1 93.2h0M213.3 109.7h0M223.7 92.9h0M227.8 104.7h0M207.3 106.6h0M210.4 106.5h0M226.4 99.9h0M220.8 107.3h0M211.1 106.3h0M205.7 108.5h0M217.3 108.2h0M218.2 93.4h0M214.7 107.6h0M217.5 105.9h0M216.8 93h0M215.4 107.3h0M205.9 107.7h0M220.2 107.8h0M224 103.3h0M209.4 108.2h0M208.9 96.6h0M217.7 107.3h0M202 104.5h0M207.4 106.3h0M226 97.7h0M221 104.9h0M205.2 102.7h0M205.1 97.6h0M202.6 105.1h0M203.6 99.7h0M228.7 97.4h0M232.9 94h0M230.9 99.3h0M202.7 105.2h0M213.5 109.7h0M227.1 94.6h0M227 95.9h0M230.2 103.5h0M205.4 100.3h0M222.7 109h0M213.8 107.3h0M227.7 100.1h0M213.7 92.9h0M209.1 106.8h0M202.2 102.2h0M219.9 106h0M207.9 107.5h0M228.6 98.9h0M216 108h0M205.5 100.4h0M223.1 94.4h0M208.4 95.2h0M205.4 104.4h0M219.1 107.9h0M201.1 102.5h0M232.5 99.2h0M205.3 99.6h0M225.4 101.5h0M203.6 100.3h0M227.3 103.5h0M206.9 106.9h0M210.2 94.9h0M227.7 100.5h0M201.4 107.5h0M232.1 102.6h0M203.9 104.9h0M205.7 108h0M207.4 97.8h0M211.7 95h0M219 105.6h0M208.6 96.8h0M202.1 100.5h0M224.9 103.6h0M231.7 102.2h0M227.2 100h0M206 96.1h0M206.1 106.1h0M203.9 104.7h0M229.5 95.5h0M200.2 105.8h0M212.4 107h0M202.6 98h0M214.4 106.4h0M227.3 102.6h0M203.4 102.2h0M230.7 97.5h0M233 97.6h0M215.7 107.9h0M226 99.1h0M228.8 102.6h0M204.1 103.7h0M224.7 102.7h0M207.9 96.9h0M210.4 95.3h0M223.4 108.5h0M227.7 97.5h0M213.9 94.7h0M227.9 96.1h0M218.6 93h0M220.8 95.1h0M222.7 104.8h0M218.7 107.8h0M209.3 108.3h0M230.1 99.2h0M225.3 102.9h0M230.7 98h0M226.3 104.6h0M227 99.9h0M218.7 94.6h0M202.1 100.3h0M220.3 105.8h0M203.3 99.3h0M207.8 97.9h0M226.8 95.7h0M209.4 92.7h0M208 97.1h0M226.8 96.5h0M223.7 103h0M207.9 94.1h0M203.2 104.7h0M200.3 107.9h0M203.5 106.3h0M211.5 106.1h0M203.3 105.9h0M207.7 92.1h0M225.5 103.1h0M217.7 95.3h0M223.3 103.1h0M222.7 95.6h0M213.7 109.7h0M221.5 92.4h0M215.3 95.3h0M211 91h0M209 92.4h0M206.6 96.3h0M217.9 106.4h0M205.2 101.2h0M227.4 97.1h0M208.5 107.5h0M216.7 91.4h0M197.9 103.5h0M223.6 106h0M225.6 104.2h0M220.3 93.4h0M220.2 109.1h0M230.2 98.7h0M215.7 93.9h0M205.2 96.6h0M222.7 92h0M211.7 106.7h0M208.5 94.6h0M225.8 105.1h0M210.9 95.7h0M225.2 104h0M226.8 102h0M225 102.5h0M206.6 95.1h0M216.9 107.4h0M211.5 94.5h0M203.8 101.1h0M221.7 95.6h0M230.2 94.2h0M202.6 102.4h0M205.5 107.2h0M223.4 103.5h0M213.1 92.1h0M228.4 94.4h0M224.3 96.8h0M222.4 93.7h0M206.2 107.2h0M219 106.6h0M220.6 106.6h0M200.9 98.9h0M224.9 97.5h0M224.7 107.6h0M208.7 107.3h0M209 96.4h0M204 108.3h0M227.3 100.4h0M226.1 98.2h0M204.8 101h0M218.1 107.8h0M223.4 94.5h0M217.4 106.5h0M212.5 107.1h0M208.7 107h0M202.6 99.3h0M219.6 106.8h0M203.2 100.3h0M215.5 106.5h0M215.5 95.1h0M204.3 104.5h0M221.7 105.5h0M225.1 103.7h0M214.5 108.9h0M214.5 94.7h0M232.5 95.2h0M201.4 106.2h0M229.4 99.8h0M216.2 94.3h0M207.1 109.2h0M226.4 105.3h0M228.6 95.1h0M226.8 100.4h0M204.3 102.3h0M219.7 105.2h0M220.6 105.7h0M204 96.8h0M201.2 108.6h0M198 100.5h0M226.7 104.2h0M216.3 94.1h0M216.9 94.3h0M211.4 106.7h0M205.3 105.6h0M232.3 100.8h0M205.9 106.7h0M202.1 103.8h0M228.7 102.5h0M232.8 96.7h0M211.1 95.2h0M203.5 98.3h0M227.5 98.8h0M223.6 96h0M200.6 107.7h0M230.7 104.5h0M221.1 94.5h0M226.6 100.7h0M205.1 103.6h0M200.7 99.2h0M223 95.4h0M212.8 94.5h0M212.3 107.2h0M204.2 98.4h0M220.5 93.6h0M212.4 94.7h0M206.8 96.4h0M224.4 96.7h0M202.9 102.7h0M227.2 99.7h0M226.7 92.5h0M225.7 94.6h0M210.1 94.8h0M217.6 107.4h0M224.1 93.6h0M226.9 98.5h0M226.8 101.5h0M228 101.9h0M227.9 93.2h0M216.6 109.6h0M203 105.1h0M221 105.6h0M207.8 110h0M206.9 104.8h0M212.4 106.2h0M214.2 107.6h0M200.7 106h0M216.6 92.1h0M200.9 106.7h0M204.1 101.3h0M226.4 105.3h0M208.6 106.3h0M210.2 106.5h0M219.6 107.2h0M217.7 93.6h0M209.3 93.8h0M227.5 98.2h0M207.7 97.1h0M225.3 100.7h0M200 106.4h0M207.3 97.6h0M203.7 100.2h0M229.1 100.7h0M222.2 103.9h0M212.3 108.5h0M209.3 95.1h0M208.1 109.7h0M225.4 92.6h0M228.3 103.5h0M210.7 94.6h0M218.6 92.4h0M215.3 94.7h0M224.1 105.6h0M202.4 104.3h0M203 101.9h0M222.7 94.6h0M214.1 109h0M230 103.4h0M209.6 96.5h0M218.5 94.6h0M202.6 101.2h0M224.8 95.6h0M216.8 94.7h0M212.1 107.2h0M202.1 103.1h0M206.1 108.1h0M202.5 99.8h0M196.5 101.5h0M231.2 98.8h0M209.9 106.8h0M226 99h0M226.7 95h0M212.4 106.1h0M226.6 97.4h0M229.2 98.1h0M213.4 95h0M224.2 93.2h0M222.8 93.9h0M214.6 107.2h0M226.9 104h0M207.8 109.1h0M225.2 108.4h0M203 98.5h0M196.8 101.1h0M199.4 98.6h0M229.3 96.1h0M215.7 107.9h0M217.1 106.6h0M228.6 98.7h0M202.8 104.3h0M231.7 96.7h0M213.1 95.2h0M201.5 99.9h0M220.9 107.3h0M215.8 107.8h0M224.3 93.2h0M214.8 95.4h0M224.1 102.8h0M199.8 105.5h0M225.6 103.3h0M222.9 103.5h0M204.3 103.3h0M199.9 100.3h0M206.3 97.2h0M216.3 106.6h0M205.8 95.6h0M214.2 95.3h0M225 96.8h0M215.2 107.5h0M209.7 108.8h0M212.9 106.2h0M229.2 94.5h0M213.4 94.9h0M220 94.9h0M214.7 109.6h0M225.9 95.1h0M225 103.4h0M219.2 93.7h0M222.1 93.6h0M216.1 93.6h0M216.7 91.6h0M205.3 105.5h0M209.7 93.6h0M211 108.4h0M226.8 101h0M213.4 95.6h0M219.4 106.2h0M219.4 95.3h0M225 105.7h0M202.7 95.7h0M199.3 103.9h0M205.6 99.4h0M203.6 98.8h0M228.3 98h0M218 106h0M229.5 99.6h0M220.1 107h0M206.6 97.9h0M207.6 97.8h0M229.5 99.5h0M225.1 92.9h0M227 102.2h0M220.8 107.4h0M220.3 93.2h0M203.4 108.6h0M208 97.4h0M200.8 101.6h0M223 95.9h0M205.8 99.9h0M226.9 102.3h0M212.4 95.6h0M230.2 75.1h0M221.1 75.5h0M217.4 76.1h0M221.9 79.2h0M222.1 78.9h0M217.2 76.9h0M219.3 74.4h0M221.8 75.4h0M218.9 75.2h0M224.6 75.8h0M220.5 76.9h0M216.7 77.2h0M220.4 77.3h0M219.6 76.7h0M222.9 77.9h0M218.6 78.2h0M217.5 76.5h0M221.5 76.8h0M212.1 75.6h0M220.4 78h0M218.6 79h0M214.6 77h0M222.9 76.5h0M222 77.9h0M218.2 77.6h0M224.8 76.1h0M212.7 75.3h0M217.9 75.2h0M222.5 75.3h0M229.9 77h0M216.3 76.4h0M226.5 77.3h0M217.5 78.3h0M219.5 80h0M219.1 77.6h0M223 75.8h0M220.5 78.3h0M222.8 76.4h0M222.7 79.1h0M224.3 77.1h0M222 74.2h0M221.4 75.9h0M223.6 75.6h0M222.5 75h0M224.1 75.4h0M220.9 77.5h0M219.9 76.7h0M224.9 79h0M214.5 75.6h0M223.5 77.9h0M219.3 76.8h0M220.5 80h0M220.2 74.9h0M215.4 75h0M225.6 75.8h0M228 77.2h0M222.4 77.5h0M223.9 77.8h0M217.5 76h0M219.1 76.9h0M220 74.8h0M218.7 79.4h0M228.5 74.9h0M222.3 76.5h0M218 77.8h0M220.9 79.1h0M222.6 76.1h0M211.6 76.9h0M224 75.4h0M224.2 77.4h0M214.7 76.6h0M222.2 77.7h0M221.5 76.5h0M219.7 76.2h0M220.9 75h0M223.3 76h0M222.8 75.8h0M222.5 76.7h0M224.2 77.1h0M224.3 76.2h0M220.8 76.2h0M216.5 76.6h0M224.9 77.5h0M218 77.2h0M223.6 74.5h0M222.3 77h0M223.7 76.8h0M214.7 73.9h0M228 75.6h0M225.6 78.2h0M221.2 74.9h0M225.9 76.3h0M222.9 77.2h0M224.5 77.9h0M211.9 78.4h0M205.1 74.5h0M215.7 75.7h0M207.9 78.4h0M206.2 78.1h0M214.9 77h0M211.7 74.5h0M211.7 77.3h0M213.5 76.8h0M206.3 75.5h0M212.2 74.9h0M206.2 75.6h0M213.8 77h0M208.9 78.8h0M194 96.8h0M193.8 106.7h0M191.4 100h0M193.9 108.8h0M194.7 95.9h0M194 98.1h0M192.7 104.4h0M187.2 101.1h0M190.8 102.6h0M196.8 100.5h0M194.6 97.6h0M190.1 101.2h0M193.4 96.6h0M196.2 101h0M191.3 97.1h0M197 107.4h0M198.3 97h0M187.9 103.1h0M187.3 106.7h0M195.1 98.4h0M192.3 103.9h0M188.9 98.8h0M196.4 103.9h0M194 94.7h0M189.6 97.1h0M187.4 103.2h0M217.7 89.2h0M217.5 89.2h0M216.7 85.2h0M214.8 84.6h0M221.4 84.9h0M212 83.5h0M214 86.2h0M217.1 84.8h0M221.3 87.6h0M212.9 80.3h0M219 86h0M218.5 85h0M180 76.8h0M195 75h0M190 85.5h0M240 72.6h0M197 84h0M230 88h0M183 107h0M195.5 78.5h0" stroke="#000" stroke-width="1.15" stroke-linecap="square" fill="none"/>
<ellipse cx="215.3" cy="100.7" rx="11.25" ry="5.85" transform="rotate(-8 215.3 100.7)" fill="#000"/>
</g>
<text x="264" y="53.8" font-size="10" text-anchor="end" >3.49</text>
</g>
<g>
<path d="M297.3 37H391.7V111.9" fill="none" stroke="#000" stroke-width="1.35"/>
<path d="M297.3 111.9H391.7" fill="none" stroke="#333" stroke-width="0.8"/>
<path d="M296.9 36.4V112.4" fill="none" stroke="#000" stroke-width="2"/>
<path d="M321.6 37V111.5M297.8 91.9H391.7" fill="none" stroke="#111" stroke-width="1.1"/>
<path d="M297.8 109.8h-4.6M297.6 110.9v2.9M297.8 91.78h-4.6M321.12 110.9v2.9M297.8 73.75h-4.6M344.65 110.9v2.9M297.8 55.73h-4.6M368.18 110.9v2.9M297.8 37.7h-4.6M391.7 110.9v2.9" stroke="#000" stroke-width="1.1" fill="none"/>
<path d="M297.8 104.37h-3.2M304.68 111.1v1.7M297.8 101.2h-3.2M308.82 111.1v1.7M297.8 98.95h-3.2M311.76 111.1v1.7M297.8 97.2h-3.2M314.04 111.1v1.7M297.8 95.77h-3.2M315.91 111.1v1.7M297.8 94.57h-3.2M317.48 111.1v1.7M297.8 93.52h-3.2M318.85 111.1v1.7M297.8 92.6h-3.2M320.05 111.1v1.7M297.8 86.35h-3.2M328.21 111.1v1.7M297.8 83.17h-3.2M332.35 111.1v1.7M297.8 80.92h-3.2M335.29 111.1v1.7M297.8 79.18h-3.2M337.57 111.1v1.7M297.8 77.75h-3.2M339.43 111.1v1.7M297.8 76.54h-3.2M341.01 111.1v1.7M297.8 75.5h-3.2M342.37 111.1v1.7M297.8 74.57h-3.2M343.57 111.1v1.7M297.8 68.32h-3.2M351.73 111.1v1.7M297.8 65.15h-3.2M355.87 111.1v1.7M297.8 62.9h-3.2M358.81 111.1v1.7M297.8 61.15h-3.2M361.09 111.1v1.7M297.8 59.72h-3.2M362.96 111.1v1.7M297.8 58.52h-3.2M364.53 111.1v1.7M297.8 57.47h-3.2M365.9 111.1v1.7M297.8 56.55h-3.2M367.1 111.1v1.7M297.8 50.3h-3.2M375.26 111.1v1.7M297.8 47.12h-3.2M379.4 111.1v1.7M297.8 44.87h-3.2M382.34 111.1v1.7M297.8 43.13h-3.2M384.62 111.1v1.7M297.8 41.7h-3.2M386.48 111.1v1.7M297.8 40.49h-3.2M388.06 111.1v1.7M297.8 39.45h-3.2M389.42 111.1v1.7M297.8 38.52h-3.2M390.62 111.1v1.7" stroke="#000" stroke-width="1" fill="none"/>
<use href="#T" transform="translate(292.6 121.7) scale(0.00282 -0.00381)" stroke="#000" stroke-width="150" stroke-linejoin="round"/>
<use href="#d0" transform="translate(299.4 117.8) scale(0.00315 -0.00332)" stroke="#000" stroke-width="130" stroke-linejoin="round"/>
<g transform="translate(290.6 114.5) rotate(-90)">
<use href="#T" transform="translate(-0.2 0) scale(0.00296 -0.00400)" stroke="#000" stroke-width="150" stroke-linejoin="round"/>
<use href="#d0" transform="translate(7.1 -4.6) scale(0.00325 -0.00342)" stroke="#000" stroke-width="130" stroke-linejoin="round"/>
</g>
<use href="#T" transform="translate(315.73 121.7) scale(0.00282 -0.00381)" stroke="#000" stroke-width="150" stroke-linejoin="round"/>
<use href="#d1" transform="translate(322.53 117.8) scale(0.00315 -0.00332)" stroke="#000" stroke-width="130" stroke-linejoin="round"/>
<g transform="translate(290.6 96.48) rotate(-90)">
<use href="#T" transform="translate(-0.2 0) scale(0.00296 -0.00400)" stroke="#000" stroke-width="150" stroke-linejoin="round"/>
<use href="#d1" transform="translate(7.1 -4.6) scale(0.00325 -0.00342)" stroke="#000" stroke-width="130" stroke-linejoin="round"/>
</g>
<use href="#T" transform="translate(338.85 121.7) scale(0.00282 -0.00381)" stroke="#000" stroke-width="150" stroke-linejoin="round"/>
<use href="#d2" transform="translate(345.65 117.8) scale(0.00315 -0.00332)" stroke="#000" stroke-width="130" stroke-linejoin="round"/>
<g transform="translate(290.6 78.45) rotate(-90)">
<use href="#T" transform="translate(-0.2 0) scale(0.00296 -0.00400)" stroke="#000" stroke-width="150" stroke-linejoin="round"/>
<use href="#d2" transform="translate(7.1 -4.6) scale(0.00325 -0.00342)" stroke="#000" stroke-width="130" stroke-linejoin="round"/>
</g>
<use href="#T" transform="translate(361.97 121.7) scale(0.00282 -0.00381)" stroke="#000" stroke-width="150" stroke-linejoin="round"/>
<use href="#d3" transform="translate(368.77 117.8) scale(0.00315 -0.00332)" stroke="#000" stroke-width="130" stroke-linejoin="round"/>
<g transform="translate(290.6 60.43) rotate(-90)">
<use href="#T" transform="translate(-0.2 0) scale(0.00296 -0.00400)" stroke="#000" stroke-width="150" stroke-linejoin="round"/>
<use href="#d3" transform="translate(7.1 -4.6) scale(0.00325 -0.00342)" stroke="#000" stroke-width="130" stroke-linejoin="round"/>
</g>
<use href="#T" transform="translate(385.1 121.7) scale(0.00282 -0.00381)" stroke="#000" stroke-width="150" stroke-linejoin="round"/>
<use href="#d4" transform="translate(391.9 117.8) scale(0.00315 -0.00332)" stroke="#000" stroke-width="130" stroke-linejoin="round"/>
<g transform="translate(290.6 42.4) rotate(-90)">
<use href="#T" transform="translate(-0.2 0) scale(0.00296 -0.00400)" stroke="#000" stroke-width="150" stroke-linejoin="round"/>
<use href="#d4" transform="translate(7.1 -4.6) scale(0.00325 -0.00342)" stroke="#000" stroke-width="130" stroke-linejoin="round"/>
</g>
<clipPath id="c2"><rect x="297.8" y="37" width="93.9" height="74.2"/></clipPath>
<g clip-path="url(#c2)">
<path d="M340.8 95.6h0M342.9 104.7h0M349.3 95.3h0M326.7 96.5h0M346.4 105h0M346.1 97.7h0M329.2 97.1h0M346.4 95.5h0M350.3 102h0M318.2 100.8h0M331.4 106.1h0M335.5 107.1h0M320.6 103.4h0M332.2 96.2h0M324.7 102.8h0M331.4 108h0M345 96.4h0M345.1 105.5h0M334 107.5h0M329.3 97.4h0M335.7 93.5h0M343.8 95.5h0M329.2 106h0M351 95.4h0M316.6 103.2h0M334.2 109.4h0M350.4 100.9h0M346.4 97.5h0M346.3 93.3h0M337.3 95.1h0M351.2 102.1h0M324 100h0M343.9 104.8h0M350 97.3h0M339.5 91.3h0M341.5 93.8h0M327.5 97.8h0M329.9 108h0M353.3 102.4h0M317.5 105.5h0M353.3 101.3h0M347.2 104.9h0M346.9 100.6h0M325 105.1h0M333.6 110h0M333.1 95.7h0M343.8 104h0M339.6 94.9h0M326.8 104.1h0M337.3 93h0M354.7 95.4h0M348.2 92.5h0M343 95.9h0M348 104.2h0M321.4 99.2h0M334.5 107.8h0M339.6 105.3h0M321.8 101.6h0M332.1 107.5h0M338 105.6h0M344 107.5h0M329.4 97.3h0M347.3 98.7h0M339.1 105.9h0M342.2 104.8h0M326.4 98h0M346.7 94.8h0M336.2 95.5h0M335.9 108.8h0M354.3 96.2h0M329.3 107.4h0M328.7 95.2h0M325.7 106.1h0M348.7 102.9h0M350.1 102.7h0M335.5 95h0M317.8 100.2h0M328.6 93.6h0M346.6 94h0M342 105.4h0M332 108.3h0M355.8 98.5h0M345.5 105.3h0M334.9 95.6h0M344.5 96.7h0M331.1 94.8h0M334.6 94.4h0M334.8 105.9h0M324.6 101.1h0M344.1 105.7h0M324.2 109.1h0M355 100.1h0M329.5 106.6h0M316.1 103.8h0M349.7 94.7h0M344.6 95.2h0M354 98.5h0M344.7 96.6h0M349.2 101.8h0M331.3 94.1h0M339 94.8h0M320 104.6h0M334.1 95.3h0M336 107.8h0M342.1 95h0M325.4 99.6h0M336.5 107.5h0M349.7 100h0M339.6 92.9h0M336.4 109.2h0M347.9 103.2h0M337.3 109.8h0M342 94.1h0M325.3 99.3h0M331 106.8h0M335 94.1h0M346.7 98.8h0M336.1 109.9h0M332.2 106.1h0M344.2 95.6h0M324.4 98.4h0M337.2 94.9h0M335.5 105.8h0M348.1 103.6h0M326.2 108.2h0M347.6 103h0M340.1 93.3h0M354.8 100.6h0M340.2 108.2h0M345.6 102.3h0M343.6 103.9h0M343 95.8h0M331.4 96.4h0M351.3 101.4h0M320.4 101.8h0M324.2 101.9h0M337.7 94.8h0M348.6 98.8h0M328.3 105.9h0M321.6 95.8h0M325.5 107.5h0M345.4 104.6h0M324 103.6h0M348.8 93.7h0M344.2 103.5h0M350.7 99.6h0M335.4 93h0M346.8 97.9h0M348.4 97.7h0M340.1 94.3h0M345 106.8h0M342.5 95h0M343.7 104.5h0M336.3 106.9h0M332.9 95.5h0M327.8 97.3h0M350.8 98.9h0M324.8 101.5h0M345.7 96.8h0M322.8 101.8h0M334.6 93h0M321.9 104.5h0M334.6 94.3h0M346.1 97.9h0M323.2 106.8h0M328.5 96.3h0M323.9 99.6h0M331.8 95.4h0M322.9 103h0M324.4 95.9h0M347.8 102.4h0M346.8 99.5h0M326.4 104.7h0M322.2 102.1h0M348.8 104.1h0M330 93h0M317.7 99.8h0M326.2 104.4h0M345.4 102.9h0M317 100.3h0M347.9 98.1h0M323 102.2h0M340 94.4h0M327.6 105.8h0M340 105h0M353.6 95.3h0M324.2 97.5h0M337.4 95.1h0M326.3 98.4h0M343.2 91h0M348.5 94.1h0M331.4 107.7h0M346.8 100.5h0M354.3 95.6h0M341.3 106.1h0M323 103h0M345.2 96.8h0M346.1 101.1h0M323.6 95.9h0M348.3 99.4h0M328.8 107.7h0M340.3 93.8h0M352.8 95.9h0M346.7 102.9h0M335.5 107.2h0M327.9 109.1h0M331.4 108h0M345.7 102.6h0M352.6 101.7h0M340.6 104.9h0M332.2 106.2h0M341.4 95.1h0M350.6 103.7h0M352.6 101.6h0M346.1 96.9h0M345.8 97.6h0M343.1 96h0M334.9 93.9h0M337.8 92.7h0M333.2 106.6h0M329.9 95.5h0M336 93.4h0M347.7 105.3h0M346.4 101.1h0M332.8 95.4h0M324.5 106.7h0M355.6 100h0M321.4 100.9h0M323.5 95.5h0M327.8 94.2h0M347.3 103.6h0M329.7 109.1h0M339.9 90.7h0M322.5 101.5h0M324.5 99.8h0M330.8 105.6h0M328 94.4h0M321.4 103.4h0M327.7 105.2h0M323.5 102.2h0M330.8 105.9h0M335.3 95.5h0M346.1 101.9h0M323.1 103h0M331.5 96.3h0M323.8 108.8h0M327.7 94.9h0M328.5 106.2h0M326.6 104.5h0M343.7 103.3h0M347.2 93.8h0M345.3 96h0M333.9 94.3h0M330.1 107.4h0M332.1 106.7h0M324.2 105.4h0M348.6 97.7h0M331 94.6h0M352.1 93.8h0M328.1 106.8h0M330 96.5h0M341.6 94.3h0M334.1 94.8h0M330 107h0M328.3 105.6h0M324.9 107.7h0M348.1 96.5h0M326.7 104h0M348.4 98.8h0M332.6 94.9h0M344.8 93.3h0M326.4 96.4h0M332.9 94.1h0M323.8 106.1h0M336.4 93h0M342 95.5h0M325.8 103.8h0M334.5 94.6h0M325.3 99.4h0M319.6 100.5h0M356.4 98.3h0M349.1 94.4h0M322.6 99.3h0M346.8 104.4h0M347.2 100.7h0M352.6 101.7h0M347.4 93.3h0M335.5 95.4h0M324.8 106.4h0M326.2 93.3h0M328.4 106.9h0M328.3 97.2h0M347.6 94.2h0M317.9 105.4h0M342 106.6h0M347.5 100.8h0M322.1 102h0M332.9 95h0M347.1 96.7h0M346 102.5h0M322.7 103.7h0M322.7 104.6h0M331.1 94.7h0M350.2 99.3h0M334.4 94.7h0M322.9 96.7h0M342.3 104.3h0M343.2 104.8h0M354.6 102.2h0M346 101.9h0M331.8 93.2h0M347.4 94.6h0M332.4 109.9h0M318.4 107.9h0M333.9 107.8h0M318.2 99.9h0M330.7 95.7h0M330.2 95.6h0M348.4 103.3h0M323.4 97.7h0M347.4 99.8h0M331 96.3h0M339.7 93.6h0M325.2 97.2h0M350.1 105h0M342.1 104.4h0M330.9 109.6h0M317.7 103h0M331.6 108.7h0M350.8 96h0M325.7 106.6h0M342.2 94.5h0M353.4 97.4h0M344.9 103h0M341.1 105.8h0M343.1 91.7h0M328.2 105.9h0M327.9 97.8h0M340.1 105h0M325.6 100.5h0M340.9 95.5h0M348.3 103.3h0M349.1 102.2h0M344.2 103.6h0M348.1 104.7h0M328 106.2h0M337.6 94.7h0M330.4 105.6h0M321.3 101.4h0M345 102.2h0M331.5 107h0M344.3 104.6h0M334.2 91.7h0M337.2 106.1h0M351.6 97.1h0M344.9 105.5h0M328.2 105.6h0M345.3 94.2h0M355.3 95.8h0M344.4 95.9h0M331.4 93.8h0M326.9 104.1h0M333.3 108.5h0M327.3 104.6h0M343.1 96.1h0M331.4 106.4h0M320 99.4h0M328.9 94h0M322.9 103.8h0M345 102.7h0M331 106.3h0M335.3 106.6h0M330.9 93.3h0M338.7 106.4h0M320.8 104.7h0M351.1 101h0M342.1 104.6h0M326 99.7h0M321.2 105.3h0M327.9 105.1h0M347 100.4h0M323.3 106h0M346.2 96.5h0M346.4 96.7h0M340.8 95.3h0M336.9 94.9h0M341.7 94.9h0M322.4 108.7h0M345.1 96.2h0M351.8 100.6h0M322.6 103.9h0M336.7 105.6h0M330.1 105.5h0M328.7 97.4h0M349.9 99.9h0M334.8 106.9h0M340.5 93.8h0M341.9 95.5h0M328.3 95.4h0M325.6 105.6h0M348.5 97.8h0M331.6 95.7h0M320.9 107.6h0M340.6 105.7h0M334.3 95.2h0M348.6 96h0M327.1 96.1h0M347.5 101.2h0M329.9 96.9h0M349.1 105.8h0M336.1 92.7h0M333.9 107.8h0M338.1 106.3h0M343.1 91.6h0M326.4 105.8h0M319.8 101h0M321.5 105.3h0M325 100.8h0M331.1 105.8h0M323.6 105.7h0M324.1 100.2h0M324.9 99.6h0M349.3 99.3h0M345.2 103.5h0M351.3 100.4h0M315.8 102.9h0M324.5 98.6h0M350.7 100h0M336.2 94.6h0M343 103.7h0M345.8 96.6h0M339.6 106h0M330.6 95.4h0M352.3 96.5h0M320.3 106.2h0M337.8 106.4h0M346.6 99.7h0M326.3 105.2h0M332.1 109.5h0M345.5 94.3h0M342.1 92.2h0M344.2 103.4h0M345.2 104.3h0M342.4 105.8h0M344.2 103.9h0M343.6 105h0M323.2 100h0M353.5 99.8h0M330.8 94.6h0M347.3 94.9h0M323.5 105.7h0M336.1 105.9h0M343.1 105.4h0M332.1 92.9h0M323.9 96.8h0M325.1 98.1h0M348.4 103.9h0M324 103h0M339.4 92.5h0M317.4 102.2h0M348.3 99.8h0M342.4 106.5h0M322.7 101.6h0M340.4 109.2h0M325.9 98.9h0M321.3 97.6h0M333.5 109h0M341 105.3h0M350 100.6h0M318.6 97.1h0M331.9 93h0M325.6 109.5h0M337.2 92.2h0M334.6 108.3h0M335.9 108.5h0M347.3 103.7h0M354.8 95.5h0M333.8 109.5h0M347.5 95.2h0M340.4 107.4h0M340.1 107h0M349.8 97.5h0M354.2 93.9h0M324.8 105.6h0M325.5 101.5h0M320.3 97h0M330.7 105.9h0M333.8 95.3h0M322.2 100.5h0M346.3 103.3h0M325.9 103.6h0M323.9 105.1h0M337 109.1h0M325.7 104.4h0M335.4 105.8h0M335.2 108.5h0M338.9 105.3h0M325.7 98.2h0M330.9 105.8h0M319.1 105.1h0M324.6 102.5h0M349.8 97.6h0M328.7 96.7h0M326.7 99.2h0M318.4 102.7h0M327.3 96.8h0M334.7 106.5h0M344.8 95.6h0M353.4 99.5h0M346.9 96.6h0M345.1 93.4h0M350.5 101.6h0M320.8 104.2h0M343.3 103.7h0M338.9 108.3h0M340.7 91.3h0M355.2 95.1h0M352.8 97.9h0M324.7 102.5h0M347.6 95.7h0M349.9 103.7h0M350.3 98.5h0M323.2 102.2h0M329.5 105.8h0M344.9 94.7h0M347.9 96.3h0M342.2 93.9h0M337.4 106.6h0M334.4 94.4h0M324.2 104.8h0M340.8 94.9h0M341.9 90.7h0M354.2 100.3h0M323.5 104.3h0M339.4 95.2h0M333 106.9h0M342.3 105.9h0M325 98.3h0M339.4 93.5h0M347.3 97.8h0M332.2 95.9h0M347.7 96.8h0M349.2 100.6h0M334.6 94.5h0M336.8 106.1h0M317.9 98.2h0M344.6 96.5h0M330.5 105.9h0M348 97.9h0M325.2 103h0M343.9 79.4h0M342.2 81.1h0M331.4 83h0M338.1 76h0M340.1 81.8h0M353 75.1h0M331.3 82.3h0M329.7 83.2h0M329.2 80.5h0M342 80.7h0M333.8 76.3h0M326 80.8h0M326.4 79h0M331.8 81.5h0M339.9 73.2h0M335.8 82.4h0M335.5 75.8h0M353.1 75.6h0M347.9 79.9h0M346.2 79.7h0M342.8 81.5h0M342.6 75.5h0M318.6 84.2h0M334.6 76.7h0M341.7 76.1h0M324.2 79.3h0M353.1 74.2h0M341.6 74.7h0M344.1 78h0M333.5 76.3h0M349.1 75.2h0M328.9 85h0M350.2 76.5h0M344.7 79.1h0M327.9 76.9h0M337.6 75.5h0M335.5 81.9h0M346.6 74h0M329.2 82.8h0M330.2 82.7h0M327.2 78.7h0M335.5 82.2h0M332.7 82.6h0M345.4 79.7h0M353.7 75.9h0M339.9 81.5h0M340.5 80.8h0M336.7 82.6h0M338.8 73.5h0M345 76.9h0M330.3 79.2h0M335.4 82.1h0M334.8 76.2h0M334.5 81.9h0M328.6 82.6h0M353.9 77.2h0M343.2 84.2h0M328.3 81.8h0M324.7 80.8h0M339.2 74.2h0M329.9 81.8h0M349.4 77.8h0M345 79.4h0M346.6 76h0M335.3 75.5h0M322.9 79.2h0M343.8 78.6h0M339.5 81.8h0M324.5 84.7h0M346.9 75h0M330.7 81h0M349.1 74h0M348.3 74.3h0M334.3 83.9h0M333.7 76.9h0M346.7 81.1h0M327.3 82.3h0M319 80.9h0M343.8 77.1h0M345.6 74.9h0M351.6 78.8h0M348.4 81h0M328.1 80.1h0M341 80.9h0M337 75.4h0M346 76.8h0M335.6 75.5h0M341.7 76.4h0M324 82.2h0M337.2 81.3h0M342.5 74.7h0M337.2 76h0M338 81.2h0M346.9 80.9h0M341.5 71.4h0M343.8 77.6h0M336 82.6h0M350.9 78.5h0M344.6 79.4h0M332.3 82.1h0M342.7 79.4h0M322.8 81.3h0M330.2 75.8h0M327.9 81.5h0M330.9 84.1h0M326.3 81.1h0M344.8 78.4h0M344.7 75.7h0M327.3 77.4h0M324.5 76.1h0M348.4 75.6h0M336.6 83h0M323.7 78.6h0M342.7 81.2h0M344 79.6h0M336.2 81.6h0M330.5 76.9h0M345.6 74.7h0M345.1 75.4h0M326.9 76.2h0M336.1 75.2h0M333.2 74.5h0M324.1 82.9h0M342.5 76.1h0M340.1 80.8h0M347.4 81.1h0M344.7 77.8h0M341.5 75.9h0M347.6 72.8h0M343.9 74.3h0M328.7 79h0M334.3 75.8h0M346.5 74.5h0M323.9 82.9h0M335.8 81.6h0M319.1 78.7h0M338.5 83.6h0M327 75.6h0M334.3 83h0M348.1 73.3h0M331.7 75h0M330.3 77.5h0M340.7 81.1h0M354.5 74.8h0M338.8 83.5h0M342.9 81.8h0M339.6 80.6h0M346.5 75.7h0M347.1 74.8h0M348.6 78.4h0M345 74.9h0M343.4 81.5h0M335.4 83.7h0M335.4 75.3h0M344 72.3h0M335.8 82.2h0M349.9 77.5h0M352.7 77.1h0M340.9 73.9h0M342.6 84.2h0M348.3 76.3h0M344.1 82.6h0M328 78.2h0M338.3 75.8h0M339.3 72.7h0M329 83.7h0M329.3 85.6h0M332.2 82.8h0M337.3 83h0M335.9 81.7h0M333.8 74.5h0M340.7 82.5h0M331 76.1h0M331.5 82.6h0M336.9 83.5h0M339.3 81.2h0M332.8 77.3h0M328.4 76.3h0M329.9 75.3h0M329.8 76.1h0M341.7 74.9h0M342.9 79.4h0M335.1 82.4h0M347.5 73.9h0M341.1 81.4h0M341.4 73.1h0M351.6 77h0M332.5 81.3h0M333.7 76.3h0M346.2 79.9h0M339 81.6h0M336.6 81.9h0M343 79.6h0M323.7 80h0M330.7 78.9h0M348.3 74.8h0M329 80.5h0M342 74.8h0M328.4 79.3h0M342.1 76.3h0M346.2 76.7h0M338.9 75.7h0M342.7 76.1h0M327.3 82.9h0M329.4 80.5h0M340.2 75.8h0M340 81.2h0M337.6 76.3h0M347.2 80h0M338.1 74.5h0M323 81.2h0M338.5 75.1h0M350.7 78.1h0M328.1 82.8h0M331.3 74.8h0M346.2 76.3h0M326.1 78.9h0M329.5 79.9h0M330.5 80.8h0M334.9 75.5h0M332.4 76.1h0M344.5 75.8h0M326.4 83.3h0M344.5 80h0M335 81.7h0M332 77.6h0M341.5 75.8h0M338.5 76h0M337.2 84.4h0M328.7 77.1h0M325.4 80.3h0M348.5 75.6h0M343.6 77.2h0M333.4 84.7h0M344 72.8h0M330.2 81.1h0M334.9 81.8h0M331.3 81.8h0M343.7 78.2h0M321.2 82.3h0M325.9 75.5h0M342.1 75.5h0M324 78.8h0M337 75.5h0M327.7 79.3h0M332.1 74.1h0M349.8 78.8h0M334.1 81.8h0M330.2 84h0M331.4 81.8h0M344.2 75.6h0M346.1 76.8h0M347.7 75.8h0M345.5 81h0M343 81h0M346.1 77.1h0M331.9 73.8h0M338.6 81.2h0M338.5 82.4h0M348.1 77h0M345.2 78.3h0M344.4 75.2h0M334.8 81.7h0M325.6 80.5h0M324.9 81h0M338 75.8h0M334.1 76.9h0M344.5 82.5h0M323.1 82.2h0M340.2 83.7h0M338.4 82.1h0M344.4 76.3h0M321 84.6h0M347.2 72.4h0M344.9 75.9h0M350 72.1h0M339.8 85.3h0M343.2 76.8h0M323.4 81.7h0M341.3 72.7h0M319.7 81.3h0M325.1 77.4h0M340.4 81.2h0M345 75.7h0M339.9 73.7h0M326.7 82h0M333.7 76.7h0M323.5 80.6h0M330 83h0M323 79.6h0M338 81.6h0M337.3 83.5h0M325.9 78.3h0M327.9 78.5h0M339.4 76h0M334.3 76h0M329.1 75.6h0M340.1 80.7h0M332.7 73.8h0M335.8 82.4h0M335.4 84.6h0M329.7 77.5h0M325.6 75.4h0M349.8 77.5h0M340.5 80.7h0M330 76.8h0M335 83h0M343.8 76.1h0M328.5 82.7h0M344.4 74.6h0M348.2 74.8h0M342.3 79.5h0M331.9 85.3h0M349.3 76.1h0M329.4 84.1h0M343.3 78.6h0M338.7 83.7h0M323.7 82.8h0M329.9 80.2h0M319.9 83.6h0M353.7 74.8h0M343.8 79.2h0M347.8 79.1h0M348.1 78.1h0M341.8 81.5h0M341.2 80.5h0M327.9 80.7h0M328.5 86.4h0M330 76.9h0M328.1 74h0M349.4 79.3h0M328.2 76.1h0M344.8 77.9h0M321.2 78.2h0M327.8 81.1h0M331.6 74.8h0M343.4 77.2h0M345.2 82.6h0M324.4 77.7h0M345.5 81h0M342.4 79.6h0M328 82.3h0M344.1 76.5h0M330.1 78.7h0M334 74.7h0M333.4 76.8h0M330.4 78.6h0M328.5 79.6h0M335.4 81.7h0M323.1 83.6h0M329.2 80.9h0M328.6 80.3h0M334.3 81.5h0M345.3 79.5h0M339.3 81.6h0M326.5 80.7h0M345.5 74.8h0M342.1 74.6h0M340 83h0M336.8 75.8h0M342.6 76.5h0M324.1 79.8h0M341.8 80.6h0M344.8 76.1h0M326.8 78.4h0M328 78.8h0M331.3 85.9h0M326.1 74.6h0M344.5 76.5h0M327.1 78.9h0M325.1 77.2h0M347.9 76.7h0M323.4 85.6h0M346.7 80h0M330.5 77.5h0M349.9 80.9h0M327.6 78.8h0M340.1 81.2h0M327.8 83.2h0M325.8 80.2h0M307.7 99.1h0M304.9 100.6h0M308.7 105h0M306.6 100.4h0M314.2 99.1h0M303.6 106.7h0M316.7 100.2h0M307.3 101.6h0M306.2 104.9h0M316.3 104.1h0M309 105.4h0M317 98.8h0M313 98.7h0M317.8 105h0M309.1 104.4h0M307.4 97.6h0M310.7 97.8h0M309.9 105.5h0M311.7 99.7h0M306.2 102.6h0M310.6 106h0M305.6 101.7h0M317.6 79.8h0M315.5 79.8h0M318.3 77.9h0M316.6 81.3h0M321.5 80.8h0M316.8 76.3h0M318.1 79.4h0M314.9 80.7h0M318.9 79.5h0M319.9 82.3h0M314.5 76.5h0M318.2 82.1h0M318.5 78.3h0M316.8 83.2h0M344 85.7h0M342.3 86.4h0M344.8 82h0M347.5 87.6h0M349.9 88.6h0M347 85.3h0M342.7 86.9h0M344.2 84.3h0M341.2 86.2h0M347.1 87.4h0M341.5 83.4h0M346.4 82.9h0M348.9 88.5h0M346.3 83.8h0M345.6 87.4h0M343.4 86.5h0M354.5 72.3h0M355.5 71.8h0" stroke="#000" stroke-width="1.15" stroke-linecap="square" fill="none"/>
<ellipse cx="336" cy="100.6" rx="11.7" ry="5.55" transform="rotate(-8 336 100.6)" fill="#000"/>
<ellipse cx="337" cy="78.8" rx="7.5" ry="2.6" transform="rotate(-10 337 78.8)" fill="#000"/>
</g>
<text x="384.5" y="54.6" font-size="10" text-anchor="end" >11.55</text>
</g>
<g>
<path d="M415 37.8H511.4V112.6" fill="none" stroke="#000" stroke-width="1.35"/>
<path d="M415 112.6H511.4" fill="none" stroke="#333" stroke-width="0.8"/>
<path d="M414.6 37.2V113.1" fill="none" stroke="#000" stroke-width="2"/>
<path d="M439.8 37.8V112.2M415.5 92.6H511.4" fill="none" stroke="#111" stroke-width="1.1"/>
<path d="M415.5 110.5h-4.6M415.3 111.6v2.9M415.5 92.5h-4.6M439.32 111.6v2.9M415.5 74.5h-4.6M463.35 111.6v2.9M415.5 56.5h-4.6M487.38 111.6v2.9M415.5 38.5h-4.6M511.4 111.6v2.9" stroke="#000" stroke-width="1.1" fill="none"/>
<path d="M415.5 105.08h-3.2M422.53 111.8v1.7M415.5 101.91h-3.2M426.76 111.8v1.7M415.5 99.66h-3.2M429.76 111.8v1.7M415.5 97.92h-3.2M432.09 111.8v1.7M415.5 96.49h-3.2M434 111.8v1.7M415.5 95.29h-3.2M435.6 111.8v1.7M415.5 94.24h-3.2M437 111.8v1.7M415.5 93.32h-3.2M438.23 111.8v1.7M415.5 87.08h-3.2M446.56 111.8v1.7M415.5 83.91h-3.2M450.79 111.8v1.7M415.5 81.66h-3.2M453.79 111.8v1.7M415.5 79.92h-3.2M456.12 111.8v1.7M415.5 78.49h-3.2M458.02 111.8v1.7M415.5 77.29h-3.2M459.63 111.8v1.7M415.5 76.24h-3.2M461.02 111.8v1.7M415.5 75.32h-3.2M462.25 111.8v1.7M415.5 69.08h-3.2M470.58 111.8v1.7M415.5 65.91h-3.2M474.81 111.8v1.7M415.5 63.66h-3.2M477.81 111.8v1.7M415.5 61.92h-3.2M480.14 111.8v1.7M415.5 60.49h-3.2M482.05 111.8v1.7M415.5 59.29h-3.2M483.65 111.8v1.7M415.5 58.24h-3.2M485.05 111.8v1.7M415.5 57.32h-3.2M486.28 111.8v1.7M415.5 51.08h-3.2M494.61 111.8v1.7M415.5 47.91h-3.2M498.84 111.8v1.7M415.5 45.66h-3.2M501.84 111.8v1.7M415.5 43.92h-3.2M504.17 111.8v1.7M415.5 42.49h-3.2M506.07 111.8v1.7M415.5 41.29h-3.2M507.68 111.8v1.7M415.5 40.24h-3.2M509.07 111.8v1.7M415.5 39.32h-3.2M510.3 111.8v1.7" stroke="#000" stroke-width="1" fill="none"/>
<use href="#T" transform="translate(410.3 122.4) scale(0.00282 -0.00381)" stroke="#000" stroke-width="150" stroke-linejoin="round"/>
<use href="#d0" transform="translate(417.1 118.5) scale(0.00315 -0.00332)" stroke="#000" stroke-width="130" stroke-linejoin="round"/>
<g transform="translate(408.3 115.2) rotate(-90)">
<use href="#T" transform="translate(-0.2 0) scale(0.00296 -0.00400)" stroke="#000" stroke-width="150" stroke-linejoin="round"/>
<use href="#d0" transform="translate(7.1 -4.6) scale(0.00325 -0.00342)" stroke="#000" stroke-width="130" stroke-linejoin="round"/>
</g>
<use href="#T" transform="translate(433.93 122.4) scale(0.00282 -0.00381)" stroke="#000" stroke-width="150" stroke-linejoin="round"/>
<use href="#d1" transform="translate(440.73 118.5) scale(0.00315 -0.00332)" stroke="#000" stroke-width="130" stroke-linejoin="round"/>
<g transform="translate(408.3 97.2) rotate(-90)">
<use href="#T" transform="translate(-0.2 0) scale(0.00296 -0.00400)" stroke="#000" stroke-width="150" stroke-linejoin="round"/>
<use href="#d1" transform="translate(7.1 -4.6) scale(0.00325 -0.00342)" stroke="#000" stroke-width="130" stroke-linejoin="round"/>
</g>
<use href="#T" transform="translate(457.55 122.4) scale(0.00282 -0.00381)" stroke="#000" stroke-width="150" stroke-linejoin="round"/>
<use href="#d2" transform="translate(464.35 118.5) scale(0.00315 -0.00332)" stroke="#000" stroke-width="130" stroke-linejoin="round"/>
<g transform="translate(408.3 79.2) rotate(-90)">
<use href="#T" transform="translate(-0.2 0) scale(0.00296 -0.00400)" stroke="#000" stroke-width="150" stroke-linejoin="round"/>
<use href="#d2" transform="translate(7.1 -4.6) scale(0.00325 -0.00342)" stroke="#000" stroke-width="130" stroke-linejoin="round"/>
</g>
<use href="#T" transform="translate(481.18 122.4) scale(0.00282 -0.00381)" stroke="#000" stroke-width="150" stroke-linejoin="round"/>
<use href="#d3" transform="translate(487.98 118.5) scale(0.00315 -0.00332)" stroke="#000" stroke-width="130" stroke-linejoin="round"/>
<g transform="translate(408.3 61.2) rotate(-90)">
<use href="#T" transform="translate(-0.2 0) scale(0.00296 -0.00400)" stroke="#000" stroke-width="150" stroke-linejoin="round"/>
<use href="#d3" transform="translate(7.1 -4.6) scale(0.00325 -0.00342)" stroke="#000" stroke-width="130" stroke-linejoin="round"/>
</g>
<use href="#T" transform="translate(504.8 122.4) scale(0.00282 -0.00381)" stroke="#000" stroke-width="150" stroke-linejoin="round"/>
<use href="#d4" transform="translate(511.6 118.5) scale(0.00315 -0.00332)" stroke="#000" stroke-width="130" stroke-linejoin="round"/>
<g transform="translate(408.3 43.2) rotate(-90)">
<use href="#T" transform="translate(-0.2 0) scale(0.00296 -0.00400)" stroke="#000" stroke-width="150" stroke-linejoin="round"/>
<use href="#d4" transform="translate(7.1 -4.6) scale(0.00325 -0.00342)" stroke="#000" stroke-width="130" stroke-linejoin="round"/>
</g>
<clipPath id="c3"><rect x="415.5" y="37.8" width="95.9" height="74.1"/></clipPath>
<g clip-path="url(#c3)">
<path d="M439.5 98.1h0M454.2 95.9h0M437.9 101.1h0M443.6 99.2h0M449.1 107.6h0M440.4 105.6h0M466.7 104.9h0M464.4 101.4h0M462.2 96.6h0M467.6 96.6h0M464 99.6h0M464.7 97.9h0M447.5 108.7h0M462.1 98.1h0M463.5 100.5h0M437.6 104.7h0M443 100.8h0M464.9 102.7h0M464.4 100.4h0M450.4 95.2h0M463.6 100.1h0M464.6 94.8h0M462.5 103h0M436.9 99.7h0M460.5 97.6h0M440.8 102.2h0M442.1 104.7h0M447.2 107h0M441.8 97.3h0M457.2 106.7h0M442.6 101.8h0M442.6 102.2h0M462.4 98.3h0M442.4 104.7h0M464.8 99.6h0M468.1 98.9h0M465.7 104.9h0M454.9 109.7h0M456.3 109.5h0M447 108.6h0M448.2 93.4h0M448.1 109h0M466.1 104.6h0M458.5 107.1h0M444.4 106.9h0M471.7 101.9h0M444.6 98.9h0M466.6 101h0M460 94.7h0M440.7 102.6h0M464.3 102.1h0M466 95.9h0M450.9 94.3h0M453.4 95.4h0M463.6 97.2h0M463.3 94.5h0M440.5 101.5h0M436.3 107h0M439.6 99.3h0M460.9 108.5h0M452 111.2h0M461.9 92.7h0M463.1 103h0M472.1 102.8h0M457 107.1h0M463.9 103h0M461 106h0M441.5 101.9h0M466.6 97.4h0M460.3 106.1h0M436.4 105.7h0M464.4 101.3h0M438.1 101.2h0M438.7 98.2h0M440.6 100.1h0M456.9 109.3h0M461.7 96.5h0M458.1 95.8h0M453.4 95.1h0M452.9 108.2h0M458.6 95.6h0M460 95.1h0M454.9 108.1h0M456.1 96.4h0M459.7 96.9h0M458.8 96.7h0M447 97.5h0M463.2 101.3h0M446.2 98.1h0M456.2 107.5h0M465.2 94.7h0M470.6 96.4h0M458.2 93h0M439.6 101.5h0M463.1 108.3h0M463.7 102.6h0M460.2 105.4h0M442.6 100.8h0M444.4 97.9h0M445.7 107.8h0M460.7 104.9h0M462.5 92.9h0M457.9 94.6h0M449.6 109.6h0M456 94.9h0M460.9 96.4h0M463.7 104.5h0M466.5 103.5h0M442.6 105.5h0M462.9 103.3h0M443.7 93.6h0M464.4 103.3h0M450.2 93.6h0M447 97.2h0M463.8 97.3h0M436.3 99.9h0M451.2 107.7h0M439.9 98.4h0M436.7 103.6h0M441.2 104.4h0M463.1 108.4h0M460.7 97.6h0M457.9 106.3h0M458.5 94.3h0M455.2 107.3h0M462 94.4h0M464.2 97.2h0M441.2 102h0M458.1 96.3h0M461.6 104.5h0M443.8 105.3h0M461.6 104.7h0M446.2 106.4h0M443.4 100.9h0M444.8 95.7h0M448 97.1h0M440.4 99.8h0M439.4 102.7h0M461.9 97.2h0M445.1 105.8h0M449.5 109.4h0M438.8 103.6h0M465.9 103.7h0M441.2 103.5h0M467.6 97.5h0M465.3 95h0M454.9 94.9h0M454.7 94.3h0M444.9 107h0M464.3 101.1h0M447.4 94h0M443.9 98h0M466.7 106.1h0M465 100.9h0M443.9 110.3h0M457 96.1h0M443.1 104.9h0M457.2 106.7h0M452.4 95.4h0M463 100.5h0M457.1 95.1h0M465.3 102.2h0M467.6 100.6h0M449.3 108.8h0M468.1 97.3h0M460.7 94.8h0M449.7 109.5h0M468.4 101.7h0M464.4 101.8h0M461.8 105h0M461.9 104.8h0M447.3 108.7h0M459.7 106.8h0M456.9 96.6h0M457.5 92.2h0M448 97h0M444.1 107.8h0M463.5 99.9h0M457 106.7h0M438.1 104.7h0M458.4 95.5h0M449 96.9h0M466.1 101h0M465.2 105.5h0M442.1 108.7h0M456.7 108.1h0M457.8 108.3h0M441.6 99.3h0M468.8 99.6h0M465.3 103.6h0M465 99.8h0M444.8 98.3h0M455.8 95.5h0M441.8 97.7h0M453.1 95.7h0M449.1 107.4h0M463.7 101.8h0M448.5 93h0M462.9 97.7h0M450.6 109.7h0M471.8 99.8h0M442.3 108.2h0M464.1 98.5h0M446.7 106.7h0M460.9 106.8h0M449.5 107.9h0M442.8 105.5h0M437.5 103.6h0M443.9 104.7h0M438.6 97.7h0M465.7 99h0M465.3 101.9h0M456.5 108.6h0M449.7 95.5h0M467.1 97.1h0M453.5 107.4h0M471.5 101.1h0M436.9 98.7h0M443.5 108.3h0M446.8 97h0M458.8 94h0M459.9 94.7h0M441.5 104.3h0M467.3 97.5h0M446.4 98.2h0M446.5 107.1h0M458.7 110.4h0M465.4 100.2h0M466.2 95.8h0M463 104h0M446.2 107.5h0M464.4 102.4h0M443.4 106.5h0M448.9 109.4h0M464.6 99.5h0M466.4 100h0M444.2 109.9h0M452.8 109.9h0M441.1 105.1h0M466.2 102.4h0M448.2 96.2h0M460.2 97.2h0M467.2 103.9h0M467.3 103.9h0M454.9 107.7h0M461.7 105h0M449 94h0M445.3 107.3h0M442.4 101.3h0M468.1 101.6h0M455.8 107.2h0M470.2 99.4h0M440 104.4h0M458.1 107.4h0M455.2 91.4h0M433.8 105.1h0M464.2 102.6h0M438.2 106.9h0M449 96.4h0M464.6 107.5h0M463.7 93.8h0M465.1 104h0M442.2 103.6h0M465.3 103.3h0M462 95.6h0M467.6 98.3h0M459.6 105.4h0M442.8 103.9h0M448.7 96.4h0M444.2 99.7h0M442.7 100.2h0M463.9 103.5h0M463.6 106h0M442.6 98h0M464.3 104.7h0M465.3 102.2h0M469.5 99.4h0M445.1 106.5h0M445.3 93.1h0M446 106.2h0M469.2 101.3h0M461.2 106.3h0M463.5 97.6h0M445.2 97h0M449.6 94.9h0M454.1 96.1h0M459.7 97h0M439.4 100.2h0M439.5 103.8h0M458.7 107.5h0M441.8 104.4h0M438.7 102.2h0M453.7 108.9h0M439.7 107.2h0M445.8 94.3h0M466.6 97.6h0M457.2 109.1h0M461.3 104.5h0M460.9 96.3h0M457.2 94.9h0M450.4 94.2h0M437.8 101.4h0M457.9 95h0M442.1 105.4h0M453.2 95.7h0M446 107.3h0M464.1 96.1h0M466.5 104.7h0M453.1 95.4h0M443.3 106.8h0M442.7 101h0M447.1 108.5h0M464.7 100.2h0M465.1 106.9h0M457.6 106.6h0M462.6 99.7h0M442.8 102.4h0M446.9 98h0M439.1 97.7h0M456 91.4h0M443.1 103.5h0M445 106.9h0M464.5 103.5h0M447.3 96.3h0M463.3 96.1h0M438.7 103.4h0M467.6 98.6h0M442 97.5h0M458.1 106.3h0M464.7 104.8h0M466.3 101.2h0M448.3 97.4h0M438.9 104.7h0M469.2 100.8h0M467 96.8h0M437.6 108.4h0M456.5 93.4h0M463.8 98.2h0M465.1 97.9h0M445.8 97.7h0M449.5 107h0M456.9 95.5h0M460.1 106h0M443.5 104.9h0M442.1 102.3h0M457.1 91.5h0M447.8 95.5h0M447.1 94.7h0M442.3 104.7h0M461.4 107.4h0M434.8 100.5h0M465 106.3h0M441.4 101.9h0M454.6 95.9h0M446.3 110.4h0M440.5 103.3h0M452.8 95.9h0M449 96.5h0M467.4 101.6h0M458.5 109.1h0M438.8 108.6h0M445.3 108.8h0M442.6 99.1h0M461 95.8h0M443.1 107h0M442.5 101.4h0M454.6 108.4h0M453.6 94.1h0M459.5 106.6h0M445.9 108h0M446.8 95.9h0M458.7 108.6h0M442.6 102.2h0M441.8 104.2h0M439 103.1h0M462.3 104.9h0M443.8 104.6h0M459 92.8h0M463.6 99.4h0M442.4 96h0M442.2 99.7h0M440.2 104.4h0M462.9 106.5h0M454.1 110.1h0M441.5 105.2h0M451.6 107.8h0M463.3 99.8h0M466.1 104.5h0M453 96.4h0M439.6 100.8h0M464.5 97.9h0M441.8 100.6h0M462.2 99.1h0M441.8 101.3h0M460.7 96h0M465.6 101.2h0M436.5 105.2h0M464.3 98.5h0M462.5 103.6h0M439.7 99.5h0M443.5 97.3h0M455.9 109.2h0M465.1 105.3h0M455.8 108.1h0M448.5 94.9h0M452.8 108.6h0M453.4 94.5h0M463.1 102h0M462.1 105.9h0M464.3 101.4h0M467.9 103.7h0M454.4 95.3h0M446.6 95.4h0M459.1 109.7h0M439.5 104.5h0M453.4 107.1h0M464.5 100.1h0M457.1 108.7h0M455.5 96.3h0M437.7 100.6h0M447.4 97.4h0M466.3 93h0M457.3 107h0M453 94.4h0M441 101.2h0M455.8 95.4h0M465.1 106h0M442.5 103.5h0M456.2 92.6h0M443 108.7h0M443.8 100.4h0M472 100.1h0M450 93h0M448.4 108.4h0M458.7 96.8h0M444.5 98.1h0M442.1 102.5h0M442.2 105.4h0M452.3 95.3h0M445.9 107.6h0M466.9 97.5h0M457.5 106.9h0M463.1 102.8h0M454.3 96.3h0M448.7 107.4h0M445.8 97.7h0M449.3 96.8h0M446.2 108.4h0M459.3 95.3h0M443.3 109.1h0M448.3 95.5h0M440.4 105.6h0M453 93.9h0M458.3 107.5h0M439.4 99.4h0M461.6 94.2h0M452.8 107.1h0M458.4 94.9h0M462 106.2h0M444.7 95.4h0M452.1 96.4h0M448.4 107.8h0M461.2 105.1h0M448.5 97.3h0M457.8 95.5h0M458.9 107.9h0M455.2 95.7h0M467.8 100.3h0M446.9 108.8h0M461.2 94.8h0M451.1 95.7h0M459.6 92.6h0M465.8 96.5h0M446.6 110.4h0M462.4 96h0M443.6 105.3h0M470.1 102.1h0M441.4 103.5h0M458.9 107.6h0M462.2 97h0M450.5 95.2h0M438.7 102.2h0M458.8 106.6h0M435.7 105.1h0M447.9 93.8h0M451.3 95.5h0M442.4 101.2h0M465.2 103.7h0M447.7 111.2h0M443.9 105.7h0M448.3 107.2h0M448.4 95.2h0M463.6 102.4h0M447.3 106.6h0M454 107.6h0M442.5 102.8h0M452.4 107.5h0M464.1 96h0M454.8 108.4h0M455.9 93.9h0M457.8 95.3h0M464.5 102.4h0M441.4 109.2h0M448 96.3h0M462.4 95.9h0M437.5 103.1h0M454.4 95.9h0M447.2 97h0M444.1 108.6h0M471.3 100.5h0M442.1 106.6h0M452.5 95.6h0M455.3 95.1h0M454 110.7h0M440.8 107h0M466.5 105.8h0M436.3 103.4h0M441.9 107.5h0M463.8 103.2h0M466.5 104.5h0M462.8 96.4h0M437.3 102.4h0M470.8 99.2h0M450.1 96.8h0M446.9 96.4h0M454.9 107h0M445.5 98.1h0M454.9 110.5h0M462.3 109.6h0M467 101.8h0M442.6 104h0M446.4 97.8h0M463.1 107.5h0M439.7 99.1h0M442.7 102.7h0M443.5 97.7h0M466.9 99.4h0M463.6 102.7h0M455.5 107.6h0M443.9 96.4h0M453.1 109.2h0M447.6 79.1h0M461.2 78.1h0M461.1 75.4h0M454.1 71.1h0M449.6 78.7h0M456.4 82.6h0M450 75.1h0M444.5 79.9h0M453 79.8h0M461.2 76.7h0M462.4 78.2h0M457.6 82h0M447.7 79.1h0M449.6 83.9h0M465.2 74.9h0M457 79.3h0M463.6 72.7h0M456.2 73.1h0M458.6 79.9h0M462.3 76.7h0M463.7 71.3h0M452.6 81.4h0M454.1 74.1h0M459 72.1h0M456.9 80.5h0M446.9 78h0M448.4 79.7h0M446.5 74.6h0M456.7 80.1h0M454.1 80.2h0M458.2 79.7h0M450.5 74.1h0M460.2 75.1h0M455.8 72.9h0M453.1 79.8h0M448.8 77.4h0M454.8 79.8h0M453.5 83.6h0M453.8 72.3h0M461.4 74.1h0M454 72.1h0M457.8 72.9h0M462.6 72.7h0M450.9 79.3h0M461.7 70.3h0M445.7 82.8h0M456.9 72.4h0M453.3 81.1h0M462.5 79.4h0M459.5 73.3h0M448.1 78.1h0M467 75.3h0M444.7 76.7h0M463 69.7h0M465.1 71.8h0M463.8 74.9h0M452.6 74.3h0M447 78.5h0M448.5 80h0M449 79.5h0M443.2 79.4h0M461.1 73.5h0M462.4 79.1h0M462.4 73.5h0M455.5 73.2h0M454.1 69.9h0M465.7 74.4h0M467.9 71.7h0M458.4 78.3h0M446.2 77.4h0M456 69.5h0M440.9 80.3h0M463.7 71.1h0M457.7 78.8h0M448.4 73.7h0M451.2 75.1h0M461.6 77.2h0M443 78.8h0M455.7 79.6h0M458.3 72.6h0M456 79.3h0M455.3 73.3h0M459.8 77.6h0M461.8 76.1h0M449.2 82.5h0M459.8 78.1h0M442.3 81.6h0M460.7 78.3h0M455.1 74.2h0M469.6 72.4h0M460.9 80.2h0M449.6 76.3h0M441.5 78.5h0M447.1 78.6h0M450.9 74h0M453.9 71.9h0M456.4 79.7h0M460.4 74.6h0M457.5 79.6h0M456.9 73.6h0M458.4 73.7h0M449.4 78.8h0M448 77.8h0M468.6 75.9h0M463.4 74.8h0M450.3 82.3h0M455 72.4h0M457 74h0M452.6 73.1h0M446.9 76.7h0M448.7 78.6h0M446.7 78.8h0M457.8 74.3h0M449.1 76.9h0M460.2 79.6h0M467.8 74.8h0M454.3 74h0M453.3 80.1h0M462.8 73.8h0M446.2 83.5h0M453 72.2h0M456.3 73.9h0M454.5 83.4h0M463 70.1h0M445.5 77.1h0M451.3 79.6h0M463.9 73.2h0M443.7 82h0M464.9 72.8h0M447.6 80.3h0M448.4 72.9h0M452.2 79.8h0M455.6 82h0M456.8 72.6h0M454 81.5h0M454.9 70.8h0M464.1 80.6h0M449.2 74.7h0M461.2 70.4h0M460.5 72.7h0M452.5 71.8h0M458.3 73.5h0M469.3 71.7h0M448.7 75.6h0M448.8 79.4h0M457.1 79.2h0M445.9 75.9h0M457.3 79.4h0M451.9 82.4h0M459.8 80.9h0M447.5 78.8h0M459.6 77.9h0M448.1 78.3h0M460.2 74.6h0M445.7 76.2h0M462.6 75.2h0M458.5 82.2h0M456.8 72.2h0M446.4 74.3h0M453.5 72.8h0M461.6 76.8h0M453.6 80.3h0M450.3 74.4h0M454.1 79.8h0M456.8 79.6h0M463.7 74.3h0M464.7 71.6h0M454.2 70.8h0M458.7 79.8h0M454.3 80.8h0M460.8 71.6h0M462.7 75.5h0M448.9 76.5h0M453.3 73.5h0M465.7 74.3h0M458.3 71.8h0M445.3 82.8h0M449.6 75.3h0M462 76.4h0M450.5 79.6h0M449 82.3h0M455.8 81.9h0M449.2 77.5h0M461.3 72.6h0M451.7 81h0M458.6 78.9h0M450.6 75.2h0M448.2 77.5h0M448.5 79.9h0M446.1 80.8h0M459.4 78.6h0M457.7 82.6h0M460.8 75.9h0M464.4 74.2h0M456.7 81h0M454.1 79.7h0M467.6 73.5h0M446 77.1h0M446.2 74.9h0M449.3 80.7h0M454.8 79.6h0M453.2 80.7h0M445.8 75.4h0M456.1 73.8h0M462.9 73.6h0M460.1 72h0M464.9 81.1h0M448.6 76.8h0M462.8 73h0M459 73.2h0M449.1 74.8h0M456.7 71.5h0M469.3 72.8h0M447.6 83.7h0M444.4 80.4h0M451.8 79.4h0M463.3 77h0M446.5 78.5h0M449.8 83h0M455.6 73.2h0M446.6 81.9h0M449.3 78.9h0M464.2 72.8h0M450.5 74.6h0M450 79.2h0M456.5 79.3h0M450.4 80.5h0M464.6 74.9h0M457.8 73.1h0M455 72.9h0M460.9 75.9h0M462 78.6h0M451 79.7h0M465.2 81h0M459.3 80h0M444.6 77.3h0M456.8 72.4h0M465.1 77.2h0M451 75.5h0M448.1 76.7h0M455 80.2h0M464.9 75.3h0M447.6 79.6h0M450 73.4h0M450.7 81.6h0M448.8 81.6h0M446.9 78.1h0M449.3 77.8h0M465.3 76.8h0M462.7 79h0M449.2 78h0M452.5 84h0M451.6 81.3h0M449.6 75.7h0M447.6 75.2h0M444.9 76.4h0M444.6 79.8h0M442.4 80.3h0M459.6 79.1h0M453.9 80.3h0M458.6 78.8h0M444.4 79.5h0M447.1 76.8h0M456.8 79.8h0M471.4 74.8h0M438.9 79.4h0M450.4 76h0M462.3 81.2h0M455 73.2h0M448.2 78.5h0M457.7 79.5h0M466.8 73.1h0M456.3 79.7h0M466.2 77.2h0M462.4 75.7h0M463 75h0M454.3 72.8h0M461.2 77.3h0M443.3 82.9h0M449.8 82.8h0M462 76h0M453.3 81.2h0M452.9 72.9h0M460.7 72.6h0M464.6 77.7h0M466.9 73.1h0M459.4 73.6h0M452 71.1h0M466.7 72.5h0M461.2 77.3h0M459.9 73h0M461 76.2h0M464.8 80.9h0M463.5 70.8h0M440 80.2h0M457.8 80.4h0M450.8 72.6h0M442.6 78.8h0M452.2 82.7h0M454.9 79.9h0M448.3 73.7h0M460.3 74.9h0M447.4 81.1h0M457.3 71.7h0M454.6 82.3h0M455.1 73.1h0M450.6 81.4h0M464.6 77h0M446.2 80.6h0M449.8 76.4h0M452.5 80.2h0M461.4 74h0M454.4 79.6h0M469 72.9h0M467.3 71.1h0M449.1 71h0M450.6 75.4h0M460 79.4h0M469 72.9h0M461.5 75.2h0M452 72h0M460 73.4h0M458.8 74.3h0M457.6 73.7h0M458.4 81.2h0M456.7 72.7h0M459.5 72.6h0M448.7 73.5h0M466 75.7h0M467.1 76.3h0M455 80.2h0M462.9 71.5h0M445.2 80.4h0M462.3 79.6h0M457.9 72.2h0M448.1 73.6h0M445.6 78.7h0M447.3 79.2h0M460 73.4h0M451.6 80.2h0M459.2 78.6h0M451.8 79.6h0M453.7 70.4h0M451.1 79.2h0M447.4 72.3h0M446.1 77.5h0M446.5 79.4h0M448.1 81.1h0M452.1 80.6h0M457.2 72.6h0M455.7 72.6h0M459.6 74.3h0M458 80.9h0M449.3 82.4h0M453.8 82.3h0M450.5 80.5h0M452.2 80.8h0M460.7 76.7h0M450.5 80.5h0M456.8 73.5h0M453.9 74.3h0M456.7 78.9h0M450.3 79.9h0M444.1 79h0M456.2 73.9h0M455.4 73.1h0M466.6 75.9h0M461.2 73.1h0M441.4 79h0M463.1 74.9h0M462.2 76.6h0M457.5 79.3h0M461.9 76.9h0M451.3 74.4h0M460.5 75.4h0M447.5 79.3h0M459 82.5h0M455.6 69.7h0M449.8 79.8h0M455.2 80.8h0M451.7 80.2h0M467.1 76.8h0M450.1 75.1h0M451.5 81.1h0M449.3 82.2h0M449.1 77.6h0M462.8 74.1h0M453.7 73.9h0M452.7 74.4h0M446 77.8h0M458 70h0M446.9 74.3h0M461 69.6h0M446.2 81.1h0M461.3 80.9h0M442.5 78.7h0M449.2 78h0M448.8 77.7h0M461.6 78.2h0M460.4 73.5h0M451.6 80.1h0M453.4 79.6h0M437.2 77h0M439.3 75.2h0M427.2 75.6h0M437.4 75.5h0M432.6 77.5h0M436.3 77.7h0M426.7 80.2h0M430.9 75.5h0M432.2 77.6h0M422.6 74.7h0M431.2 78.8h0M428.2 78.4h0M426.1 78.9h0M437.6 77.7h0M440.3 77h0M428.6 74.6h0M428.6 79.1h0M437.1 77.1h0M430.1 78.1h0M421.7 77.6h0M438.7 75.3h0M422.2 77.5h0M433.6 76.8h0M429.5 80.1h0M441.9 80.4h0M424.2 76.4h0M426.2 79.9h0M433.8 77.8h0M422.4 79.3h0M441.5 75.9h0M426.8 74.6h0M438.6 75.9h0M424.1 79.7h0M435 77.2h0M425.7 80.2h0M427.9 78.9h0M434.3 76.8h0M441.4 77h0M426.1 75.9h0M421.3 77.2h0M440.5 78.9h0M428 76.3h0M437.8 79.4h0M427.2 76h0M426.1 79.4h0M430.8 78.5h0M435.1 79.3h0M432.1 74.6h0M434.7 75.9h0M438.9 78h0M435.3 78.6h0M438.8 79.4h0M440.2 79.5h0M426 79h0M428.1 79h0M432.5 77.9h0M422.5 75.6h0M423.3 75.1h0M439.2 80h0M428 77.2h0M432.8 78.7h0M422.3 80.3h0M426.4 96.7h0M434.7 99.9h0M433.7 103.4h0M431.8 102.8h0M435.8 101.1h0M435.2 103.8h0M436.6 96.6h0M429.6 95.4h0M426.3 103.1h0M431.5 97.7h0M427.9 98h0M436.7 103.4h0M431 103.5h0M431.2 102.4h0M426.9 109.8h0M433 105.9h0M436.8 96.5h0M426.7 98.4h0M428 97.9h0M430.7 107.5h0M433.1 105.8h0M432 108.9h0M436.6 96.9h0M434.1 109.3h0M460.7 89.9h0M453.1 86.6h0M450.9 86.6h0M447.3 91.4h0M455.1 88.6h0M458.8 88.2h0M462.5 87.6h0M449.6 87.5h0M463.2 92.2h0M449.6 92.5h0M446.6 90.9h0M454.3 87.6h0M456.7 87.6h0M455.5 91.2h0M469.2 69.8h0M475.9 68.7h0M477.9 71.7h0M425 83h0M431 82h0" stroke="#000" stroke-width="1.15" stroke-linecap="square" fill="none"/>
<ellipse cx="453" cy="101.8" rx="11.1" ry="5.85" transform="rotate(-6 453 101.8)" fill="#000"/>
<ellipse cx="455" cy="76.8" rx="6.3" ry="2.7" transform="rotate(-10 455 76.8)" fill="#000"/>
</g>
<text x="504.6" y="55.6" font-size="10" text-anchor="end" >19.80</text>
</g>
<g>
<path d="M53.1 129.2H147.8V204.6" fill="none" stroke="#000" stroke-width="1.35"/>
<path d="M53.1 204.6H147.8" fill="none" stroke="#333" stroke-width="0.8"/>
<path d="M52.7 128.6V205.1" fill="none" stroke="#000" stroke-width="2"/>
<path d="M77.1 129.2V204.2M53.6 184.4H147.8" fill="none" stroke="#111" stroke-width="1.1"/>
<path d="M53.6 202.5h-4.6M53.4 203.6v2.9M53.6 184.35h-4.6M77 203.6v2.9M53.6 166.2h-4.6M100.6 203.6v2.9M53.6 148.05h-4.6M124.2 203.6v2.9M53.6 129.9h-4.6M147.8 203.6v2.9" stroke="#000" stroke-width="1.1" fill="none"/>
<path d="M53.6 197.04h-3.2M60.5 203.8v1.7M53.6 193.84h-3.2M64.66 203.8v1.7M53.6 191.57h-3.2M67.61 203.8v1.7M53.6 189.81h-3.2M69.9 203.8v1.7M53.6 188.38h-3.2M71.76 203.8v1.7M53.6 187.16h-3.2M73.34 203.8v1.7M53.6 186.11h-3.2M74.71 203.8v1.7M53.6 185.18h-3.2M75.92 203.8v1.7M53.6 178.89h-3.2M84.1 203.8v1.7M53.6 175.69h-3.2M88.26 203.8v1.7M53.6 173.42h-3.2M91.21 203.8v1.7M53.6 171.66h-3.2M93.5 203.8v1.7M53.6 170.23h-3.2M95.36 203.8v1.7M53.6 169.01h-3.2M96.94 203.8v1.7M53.6 167.96h-3.2M98.31 203.8v1.7M53.6 167.03h-3.2M99.52 203.8v1.7M53.6 160.74h-3.2M107.7 203.8v1.7M53.6 157.54h-3.2M111.86 203.8v1.7M53.6 155.27h-3.2M114.81 203.8v1.7M53.6 153.51h-3.2M117.1 203.8v1.7M53.6 152.08h-3.2M118.96 203.8v1.7M53.6 150.86h-3.2M120.54 203.8v1.7M53.6 149.81h-3.2M121.91 203.8v1.7M53.6 148.88h-3.2M123.12 203.8v1.7M53.6 142.59h-3.2M131.3 203.8v1.7M53.6 139.39h-3.2M135.46 203.8v1.7M53.6 137.12h-3.2M138.41 203.8v1.7M53.6 135.36h-3.2M140.7 203.8v1.7M53.6 133.93h-3.2M142.56 203.8v1.7M53.6 132.71h-3.2M144.14 203.8v1.7M53.6 131.66h-3.2M145.51 203.8v1.7M53.6 130.73h-3.2M146.72 203.8v1.7" stroke="#000" stroke-width="1" fill="none"/>
<use href="#T" transform="translate(48.4 214.4) scale(0.00282 -0.00381)" stroke="#000" stroke-width="150" stroke-linejoin="round"/>
<use href="#d0" transform="translate(55.2 210.5) scale(0.00315 -0.00332)" stroke="#000" stroke-width="130" stroke-linejoin="round"/>
<g transform="translate(46.4 207.2) rotate(-90)">
<use href="#T" transform="translate(-0.2 0) scale(0.00296 -0.00400)" stroke="#000" stroke-width="150" stroke-linejoin="round"/>
<use href="#d0" transform="translate(7.1 -4.6) scale(0.00325 -0.00342)" stroke="#000" stroke-width="130" stroke-linejoin="round"/>
</g>
<use href="#T" transform="translate(71.6 214.4) scale(0.00282 -0.00381)" stroke="#000" stroke-width="150" stroke-linejoin="round"/>
<use href="#d1" transform="translate(78.4 210.5) scale(0.00315 -0.00332)" stroke="#000" stroke-width="130" stroke-linejoin="round"/>
<g transform="translate(46.4 189.05) rotate(-90)">
<use href="#T" transform="translate(-0.2 0) scale(0.00296 -0.00400)" stroke="#000" stroke-width="150" stroke-linejoin="round"/>
<use href="#d1" transform="translate(7.1 -4.6) scale(0.00325 -0.00342)" stroke="#000" stroke-width="130" stroke-linejoin="round"/>
</g>
<use href="#T" transform="translate(94.8 214.4) scale(0.00282 -0.00381)" stroke="#000" stroke-width="150" stroke-linejoin="round"/>
<use href="#d2" transform="translate(101.6 210.5) scale(0.00315 -0.00332)" stroke="#000" stroke-width="130" stroke-linejoin="round"/>
<g transform="translate(46.4 170.9) rotate(-90)">
<use href="#T" transform="translate(-0.2 0) scale(0.00296 -0.00400)" stroke="#000" stroke-width="150" stroke-linejoin="round"/>
<use href="#d2" transform="translate(7.1 -4.6) scale(0.00325 -0.00342)" stroke="#000" stroke-width="130" stroke-linejoin="round"/>
</g>
<use href="#T" transform="translate(118 214.4) scale(0.00282 -0.00381)" stroke="#000" stroke-width="150" stroke-linejoin="round"/>
<use href="#d3" transform="translate(124.8 210.5) scale(0.00315 -0.00332)" stroke="#000" stroke-width="130" stroke-linejoin="round"/>
<g transform="translate(46.4 152.75) rotate(-90)">
<use href="#T" transform="translate(-0.2 0) scale(0.00296 -0.00400)" stroke="#000" stroke-width="150" stroke-linejoin="round"/>
<use href="#d3" transform="translate(7.1 -4.6) scale(0.00325 -0.00342)" stroke="#000" stroke-width="130" stroke-linejoin="round"/>
</g>
<use href="#T" transform="translate(141.2 214.4) scale(0.00282 -0.00381)" stroke="#000" stroke-width="150" stroke-linejoin="round"/>
<use href="#d4" transform="translate(148 210.5) scale(0.00315 -0.00332)" stroke="#000" stroke-width="130" stroke-linejoin="round"/>
<g transform="translate(46.4 134.6) rotate(-90)">
<use href="#T" transform="translate(-0.2 0) scale(0.00296 -0.00400)" stroke="#000" stroke-width="150" stroke-linejoin="round"/>
<use href="#d4" transform="translate(7.1 -4.6) scale(0.00325 -0.00342)" stroke="#000" stroke-width="130" stroke-linejoin="round"/>
</g>
<clipPath id="c4"><rect x="53.6" y="129.2" width="94.2" height="74.7"/></clipPath>
<g clip-path="url(#c4)">
<path d="M86.4 201.5h0M103.5 187.2h0M101.3 201.7h0M98.2 199.1h0M99.8 202.4h0M103.4 188.4h0M100.2 182.3h0M86.8 201.4h0M93.7 186.6h0M96.1 199.9h0M96.3 202.6h0M95.3 200h0M101.8 186h0M109.5 191.8h0M97.1 186.2h0M95.8 187h0M87.5 196.9h0M99.9 187h0M86.6 200.7h0M97.6 199.4h0M90.6 199.9h0M92.5 187.1h0M102.2 197.3h0M85.3 200.2h0M101.8 199.4h0M101.3 188.4h0M89.9 202.5h0M87.6 196.8h0M95.4 186.7h0M88.5 191.5h0M90.4 199.8h0M104 195h0M103.7 187h0M95.8 200.5h0M108.1 189.7h0M97.7 186.4h0M95.5 184.7h0M97.9 198.9h0M87.7 199.4h0M100.7 186h0M103.1 198.9h0M96.8 199.9h0M89.7 190.3h0M104.8 191.8h0M94 182.6h0M94.1 200.4h0M104.9 186.9h0M82.8 200.9h0M82.6 192.4h0M100.5 199.7h0M97.6 203.1h0M92.1 187.6h0M95.3 200.6h0M95.9 200.4h0M90.2 201.3h0M83.4 194.2h0M85.8 190.3h0M99.5 198.1h0M104.1 194.2h0M85.6 196.4h0M101.2 197.9h0M83.2 199.5h0M99.5 199.1h0M86.7 189.9h0M97.4 201h0M100.3 186.5h0M101.5 196.8h0M84.9 202.1h0M88.7 200.6h0M102.3 199.6h0M93.9 182.8h0M87.4 199.3h0M84.4 200.6h0M87.8 193.7h0M91 200h0M104.8 184.6h0M104.6 191.4h0M95.1 201.5h0M83.8 199h0M87.2 197.2h0M82.1 196.5h0M103.8 198.4h0M87.2 192.3h0M97.9 201.1h0M88.9 189.9h0M87 193.8h0M86.7 200.1h0M99.7 199.8h0M97.8 186.3h0M89.6 187.9h0M94 188h0M99.4 187.2h0M98.3 187.3h0M87.6 194.5h0M103.7 201.4h0M92 186.8h0M108.9 189.5h0M88.6 188.5h0M86.7 195.6h0M102.3 199.2h0M106.5 190.8h0M97.1 200h0M101.5 197.6h0M98.8 198.6h0M99.2 198.5h0M95.5 183.4h0M94.9 201.3h0M94.1 203.1h0M103.5 188.8h0M103 199.4h0M102.7 188.1h0M98.1 187.2h0M107.1 186.9h0M87.4 192h0M93.8 200h0M89.3 200h0M99.8 202.8h0M96.6 185.5h0M87.8 193.4h0M107.2 197.9h0M89.2 184.7h0M93.4 184.4h0M90.4 188.7h0M104.6 184.7h0M88.7 197.7h0M91.2 200.3h0M93.3 201.4h0M84.6 198h0M84.1 190.4h0M98 199.3h0M110.7 188.2h0M98.3 187.3h0M102.6 188.9h0M85.8 188.6h0M107.5 190.9h0M100.2 186.4h0M97.1 199.2h0M86.9 195.7h0M107.2 196.4h0M104.5 194.3h0M101 187.3h0M102.8 194.9h0M95.1 201.4h0M104.1 194.9h0M98 200.7h0M108.2 185.2h0M107.6 191.5h0M104.8 192h0M104.9 187.2h0M106.4 187h0M87.1 194.4h0M101.7 184h0M105.9 190.6h0M99 198.4h0M82.1 195.8h0M89.9 199.1h0M103.7 195h0M108.9 190.2h0M88.7 198.5h0M85.6 195.3h0M85.5 191.8h0M100.8 197.3h0M90.8 189.1h0M88.9 189.2h0M86.9 192.9h0M104.5 192.7h0M109.8 191.4h0M103.6 190.9h0M88.8 201.8h0M104.1 197.1h0M91.8 199.6h0M90.8 202.1h0M104.7 189.2h0M92.3 188.2h0M86.5 190.1h0M84.7 197.9h0M88.5 198.7h0M105.2 190.2h0M102.2 187.7h0M84.5 195.9h0M95.3 184.7h0M85.6 193h0M92.1 200.4h0M92.4 188h0M84.5 192.1h0M101.5 198.9h0M94.9 200.4h0M83.3 196.2h0M89.7 185.8h0M91.7 189h0M103.1 189.9h0M87.2 186.9h0M101.5 187h0M106.2 192.4h0M103.8 197.1h0M94.6 187.2h0M103.3 187.9h0M98 199.9h0M99.2 187h0M85.4 191.5h0M101.2 199.7h0M106.1 186.9h0M87.4 191.4h0M92.3 199.8h0M89.7 186.3h0M92.8 188.6h0M108.8 185.6h0M106.4 193.2h0M97.2 201.7h0M101.9 187.3h0M94.8 200.4h0M105.1 195.2h0M90.9 202.7h0M98.8 200.1h0M85.7 194.2h0M103 185.1h0M88.6 197.8h0M82.8 193.7h0M94.2 203.3h0M87.5 197.2h0M87.9 191.8h0M110.6 193.6h0M102.7 198h0M103.6 193.9h0M91.1 187.6h0M96.7 185.5h0M102.9 189.2h0M107 197.1h0M87.1 192.3h0M94.2 186.7h0M86.7 201h0M84.4 191.5h0M86.7 202.2h0M93.7 200.3h0M88.5 201.3h0M85.8 193h0M85.4 200.2h0M106.1 190.4h0M83.8 196.8h0M96.5 201.8h0M87.9 193.6h0M94.1 184.7h0M86.1 187.8h0M97.1 202.9h0M95.2 187.1h0M87.3 198.3h0M103.9 191.7h0M107.9 192.9h0M104.6 193h0M102 184h0M90.8 188.7h0M88.2 201.3h0M92.7 187.6h0M85.2 197.3h0M83.5 189.2h0M94.9 186.8h0M94.2 186.3h0M105.3 191.6h0M92.9 200.5h0M89.1 188.7h0M88.3 189.4h0M91.5 189.3h0M95.3 201h0M83.8 193h0M99.6 186.6h0M93.1 188.2h0M83.4 198.1h0M89.5 185.8h0M88.4 201.3h0M95.1 199.5h0M88.7 197.9h0M84.4 200h0M102.8 187.9h0M93.3 200.3h0M86.7 193.4h0M85.2 199.6h0M86.3 197.8h0M97.5 183.4h0M104.5 191h0M89.7 188.5h0M104 192.1h0M87.9 198.2h0M90.6 189.4h0M102.8 196.2h0M95 186.5h0M88.4 190h0M103.5 190h0M102.8 195.4h0M100 202h0M99.4 187h0M87.5 188.1h0M88.9 200.9h0M107.3 185.3h0M86.1 191.4h0M104.6 193.5h0M87.5 194.4h0M83.6 189.2h0M101.2 187.3h0M83.9 199.3h0M104.7 191.7h0M104.5 196.9h0M93.5 186.1h0M83.9 188.1h0M103.6 192.7h0M84.9 195.7h0M97.8 183.7h0M97.5 186.1h0M100.3 200.7h0M107.9 195.5h0M102.1 186.9h0M90.1 189.4h0M93.9 201.3h0M88.6 191h0M92.3 187.4h0M106.1 193.4h0M88.4 186.4h0M97.1 200h0M92.7 202.2h0M96.4 202.6h0M105.9 191.6h0M101.8 196.7h0M91.4 202.5h0M99.9 197.9h0M87.1 197h0M96.9 186.9h0M101.8 197.7h0M98.3 185.5h0M87.7 192.4h0M107.8 194.2h0M107.4 187.3h0M84.3 193h0M92.5 202h0M88.1 192.2h0M81.8 199.1h0M86.8 199.3h0M88.4 189.3h0M105 194.2h0M87 199.7h0M95.8 186.8h0M90.2 188.2h0M103.7 201.9h0M105.3 190.9h0M100.8 188.1h0M87.4 191.3h0M103.4 193.1h0M111.2 189.2h0M88.2 200.8h0M95.1 200.5h0M88.6 200.3h0M104.1 194.3h0M92.6 200.8h0M88.5 187.8h0M97.6 184.8h0M105.9 193.6h0M84.9 193.7h0M109.1 190.5h0M94.3 200h0M92.2 201.1h0M96.8 183.9h0M88.3 188.8h0M94.6 186.3h0M88.3 201.4h0M104.7 191.9h0M87.4 198.5h0M90 190.2h0M82 193.9h0M104.3 190.8h0M110.5 190.4h0M103.7 188.6h0M91.4 187.4h0M110.5 193.4h0M89.8 200.2h0M98.1 199.6h0M84.6 203.2h0M87.8 187.6h0M86.8 186.1h0M105.3 187h0M89.6 189.3h0M86.3 198h0M100.3 202.2h0M100.1 187.9h0M107.9 193.4h0M83.9 197h0M87 195.1h0M108.8 196.2h0M88.4 200.3h0M95.2 200.2h0M95.2 187.2h0M93.8 188.1h0M102.4 198.8h0M92.4 201.4h0M84.8 190.3h0M104.2 192.8h0M89.7 189.8h0M100.6 184.9h0M92.6 203.2h0M100.5 185h0M102.7 188.8h0M83.9 200.1h0M108.5 195.6h0M100.1 198.8h0M103.1 196.2h0M100.8 201.3h0M85.3 195.1h0M86.2 196.5h0M105.9 190.7h0M88 203.2h0M110.5 188.3h0M107.3 187.5h0M85.2 197.3h0M102.4 198.6h0M103.5 198.5h0M94.4 187.3h0M97.2 183.6h0M88.4 191h0M88.2 200.4h0M87.4 193.8h0M82.9 191h0M90.5 187.9h0M94.7 199.8h0M84.9 189.1h0M85.1 195.6h0M99.9 201.4h0M103.3 197.9h0M87.7 196.9h0M108.5 187.9h0M83 202h0M93.6 200.8h0M82.6 192.9h0M85.2 187.6h0M83.1 195.7h0M103.1 190.3h0M85.6 191.8h0M89.9 185h0M84.2 193.1h0M103.5 193.4h0M103.5 200.1h0M102.4 200.9h0M102.2 196.3h0M105.8 191.2h0M107.9 188h0M104.4 188.2h0M96.6 185.9h0M89.6 202.3h0M89.1 199h0M85.2 194.2h0M88.7 189.9h0M82.9 198.1h0M102.7 196.1h0M89 198.7h0M98.8 184.4h0M93 200.5h0M87.4 189.6h0M94.9 184.4h0M104.7 191.2h0M102.6 184.4h0M100.5 182.1h0M102.6 184.3h0M87.8 201.3h0M87.2 198.9h0M93.5 185.2h0M89.6 199.4h0M85.2 190h0M87.2 199h0M103.6 194h0M87.5 197.5h0M109.4 191.5h0M110.1 190.9h0M101.1 185.9h0M103.5 189.4h0M85.5 201.4h0M96.1 186h0M105.5 191.5h0M83.2 194.1h0M107 187.4h0M106.5 184.7h0M92.1 201.5h0M83.9 198.5h0M87 200.9h0M93.6 203.1h0M101.9 183.7h0M104.4 191.6h0M98.2 199.9h0M96.2 200.8h0M83.5 202.9h0M103.9 189.5h0M95.2 187.6h0M84.3 191.3h0M83.7 199.5h0M101.3 197.5h0M87 196.7h0M85.5 196.9h0M87.3 194.2h0M89 189.3h0M96.6 199.5h0M101.5 187.1h0M104.6 183.1h0M93.8 200.5h0M85.5 192.7h0M106.4 192.3h0M96.7 186.8h0M93.1 200.4h0M97.1 184.7h0M86.7 193.1h0M100.4 202.2h0M87.7 194.1h0M99.6 198.9h0M105.1 198.1h0M85 197.1h0M91 185.4h0M90.1 188.6h0M103.3 194.8h0M101.8 196.3h0M86.2 198.2h0M102.9 186.7h0M86.8 201.1h0M105.7 193.2h0M96.7 182.3h0M98.8 199.7h0M106.3 187.4h0M103.9 183.9h0M87.6 198.9h0M83.1 191.6h0M102.9 187.1h0M104.5 189.4h0M86.7 201.2h0M86.6 197.4h0M83.2 197.6h0M106.7 189.5h0M96.1 187h0M85.5 190.7h0M90.8 200.1h0M83.8 192.4h0M101.5 185.6h0M84.6 197.6h0M84.3 193h0M86.2 193.8h0M108.2 194.1h0M97.5 171.9h0M93.6 175.4h0M100.2 173.8h0M98.6 177.5h0M96.6 175.1h0M98.2 182.1h0M101 174.9h0M95.9 174.7h0M96.6 173.8h0M100 179h0M102 172.8h0M99.5 175.2h0M101.5 185.1h0M102 179.4h0M99.7 177.7h0M93 176.9h0M98.5 175.2h0M99.8 170.1h0M97.8 179.1h0M101.1 176.2h0M100.6 171.9h0M103.5 166.3h0M98 172h0M97.6 176.4h0M99.3 179.7h0M104.7 177.7h0M96.2 175.5h0M96.7 171.9h0M97.8 179.6h0M96.6 176.9h0M96.7 179.3h0M102.5 169.1h0M101.2 171.6h0M100 175h0M101.5 169.9h0M104.7 177h0M97.1 181h0M103.1 177.8h0M97.5 171.9h0M75.7 200.5h0M82 193h0M75.3 198h0M75.5 196.1h0M78.2 201.1h0M80.8 196.7h0M81.6 202.3h0M73.6 194.7h0M82.7 193.9h0M74.8 202.5h0M81 194.9h0M76.5 202.4h0M86 171h0M79.5 179h0M105 184h0M90.5 173.5h0" stroke="#000" stroke-width="1.15" stroke-linecap="square" fill="none"/>
<ellipse cx="95.6" cy="193.6" rx="9" ry="6.3" transform="rotate(-20 95.6 193.6)" fill="#000"/>
</g>
<text x="140.5" y="147.3" font-size="10" text-anchor="end" >1.88</text>
</g>
<g>
<path d="M177 130.5H271.6V206.8" fill="none" stroke="#000" stroke-width="1.35"/>
<path d="M177 206.8H271.6" fill="none" stroke="#333" stroke-width="0.8"/>
<path d="M176.6 129.9V207.3" fill="none" stroke="#000" stroke-width="2"/>
<path d="M201.7 130.5V206.4M177.5 186.1H271.6" fill="none" stroke="#111" stroke-width="1.1"/>
<path d="M177.5 204.7h-4.6M177.3 205.8v2.9M177.5 186.33h-4.6M200.88 205.8v2.9M177.5 167.95h-4.6M224.45 205.8v2.9M177.5 149.57h-4.6M248.03 205.8v2.9M177.5 131.2h-4.6M271.6 205.8v2.9" stroke="#000" stroke-width="1.1" fill="none"/>
<path d="M177.5 199.17h-3.2M184.4 206v1.7M177.5 195.93h-3.2M188.55 206v1.7M177.5 193.64h-3.2M191.49 206v1.7M177.5 191.86h-3.2M193.78 206v1.7M177.5 190.4h-3.2M195.64 206v1.7M177.5 189.17h-3.2M197.22 206v1.7M177.5 188.11h-3.2M198.59 206v1.7M177.5 187.17h-3.2M199.8 206v1.7M177.5 180.79h-3.2M207.97 206v1.7M177.5 177.56h-3.2M212.12 206v1.7M177.5 175.26h-3.2M215.07 206v1.7M177.5 173.48h-3.2M217.35 206v1.7M177.5 172.03h-3.2M219.22 206v1.7M177.5 170.8h-3.2M220.8 206v1.7M177.5 169.73h-3.2M222.17 206v1.7M177.5 168.79h-3.2M223.37 206v1.7M177.5 162.42h-3.2M231.55 206v1.7M177.5 159.18h-3.2M235.7 206v1.7M177.5 156.89h-3.2M238.64 206v1.7M177.5 155.11h-3.2M240.93 206v1.7M177.5 153.65h-3.2M242.79 206v1.7M177.5 152.42h-3.2M244.37 206v1.7M177.5 151.36h-3.2M245.74 206v1.7M177.5 150.42h-3.2M246.95 206v1.7M177.5 144.04h-3.2M255.12 206v1.7M177.5 140.81h-3.2M259.27 206v1.7M177.5 138.51h-3.2M262.22 206v1.7M177.5 136.73h-3.2M264.5 206v1.7M177.5 135.28h-3.2M266.37 206v1.7M177.5 134.05h-3.2M267.95 206v1.7M177.5 132.98h-3.2M269.32 206v1.7M177.5 132.04h-3.2M270.52 206v1.7" stroke="#000" stroke-width="1" fill="none"/>
<use href="#T" transform="translate(172.3 216.6) scale(0.00282 -0.00381)" stroke="#000" stroke-width="150" stroke-linejoin="round"/>
<use href="#d0" transform="translate(179.1 212.7) scale(0.00315 -0.00332)" stroke="#000" stroke-width="130" stroke-linejoin="round"/>
<g transform="translate(170.3 209.4) rotate(-90)">
<use href="#T" transform="translate(-0.2 0) scale(0.00296 -0.00400)" stroke="#000" stroke-width="150" stroke-linejoin="round"/>
<use href="#d0" transform="translate(7.1 -4.6) scale(0.00325 -0.00342)" stroke="#000" stroke-width="130" stroke-linejoin="round"/>
</g>
<use href="#T" transform="translate(195.48 216.6) scale(0.00282 -0.00381)" stroke="#000" stroke-width="150" stroke-linejoin="round"/>
<use href="#d1" transform="translate(202.28 212.7) scale(0.00315 -0.00332)" stroke="#000" stroke-width="130" stroke-linejoin="round"/>
<g transform="translate(170.3 191.03) rotate(-90)">
<use href="#T" transform="translate(-0.2 0) scale(0.00296 -0.00400)" stroke="#000" stroke-width="150" stroke-linejoin="round"/>
<use href="#d1" transform="translate(7.1 -4.6) scale(0.00325 -0.00342)" stroke="#000" stroke-width="130" stroke-linejoin="round"/>
</g>
<use href="#T" transform="translate(218.65 216.6) scale(0.00282 -0.00381)" stroke="#000" stroke-width="150" stroke-linejoin="round"/>
<use href="#d2" transform="translate(225.45 212.7) scale(0.00315 -0.00332)" stroke="#000" stroke-width="130" stroke-linejoin="round"/>
<g transform="translate(170.3 172.65) rotate(-90)">
<use href="#T" transform="translate(-0.2 0) scale(0.00296 -0.00400)" stroke="#000" stroke-width="150" stroke-linejoin="round"/>
<use href="#d2" transform="translate(7.1 -4.6) scale(0.00325 -0.00342)" stroke="#000" stroke-width="130" stroke-linejoin="round"/>
</g>
<use href="#T" transform="translate(241.83 216.6) scale(0.00282 -0.00381)" stroke="#000" stroke-width="150" stroke-linejoin="round"/>
<use href="#d3" transform="translate(248.63 212.7) scale(0.00315 -0.00332)" stroke="#000" stroke-width="130" stroke-linejoin="round"/>
<g transform="translate(170.3 154.27) rotate(-90)">
<use href="#T" transform="translate(-0.2 0) scale(0.00296 -0.00400)" stroke="#000" stroke-width="150" stroke-linejoin="round"/>
<use href="#d3" transform="translate(7.1 -4.6) scale(0.00325 -0.00342)" stroke="#000" stroke-width="130" stroke-linejoin="round"/>
</g>
<use href="#T" transform="translate(265 216.6) scale(0.00282 -0.00381)" stroke="#000" stroke-width="150" stroke-linejoin="round"/>
<use href="#d4" transform="translate(271.8 212.7) scale(0.00315 -0.00332)" stroke="#000" stroke-width="130" stroke-linejoin="round"/>
<g transform="translate(170.3 135.9) rotate(-90)">
<use href="#T" transform="translate(-0.2 0) scale(0.00296 -0.00400)" stroke="#000" stroke-width="150" stroke-linejoin="round"/>
<use href="#d4" transform="translate(7.1 -4.6) scale(0.00325 -0.00342)" stroke="#000" stroke-width="130" stroke-linejoin="round"/>
</g>
<clipPath id="c5"><rect x="177.5" y="130.5" width="94.1" height="75.6"/></clipPath>
<g clip-path="url(#c5)">
<path d="M220.2 204.1h0M227.1 192.2h0M205.4 203.9h0M230 187.5h0M212.6 190.2h0M230.7 195.3h0M226.7 201.1h0M222.5 189h0M222.3 202.5h0M209.6 197.7h0M232.5 192.9h0M215.8 204h0M229.9 197.2h0M222.5 204.2h0M208.7 192.9h0M216.5 188.1h0M209.4 201.1h0M224.6 189.2h0M218.9 187.9h0M218.1 189.5h0M221.4 190h0M211.2 193.5h0M225.3 188.5h0M232.3 197h0M213.1 192.1h0M230.6 200.7h0M210.3 197.9h0M217.9 189h0M217.6 205.2h0M227.3 191.1h0M211.1 194.4h0M210.6 198.8h0M227.3 192.7h0M228.6 201.9h0M210.3 189.5h0M215.2 202.3h0M210.3 194.9h0M210.6 199.1h0M232 196.7h0M210.4 195.6h0M231.9 197.7h0M227.7 192.5h0M215.8 204h0M207.5 196.9h0M214.4 202.5h0M218.8 202.9h0M234.3 198.8h0M233.3 189.6h0M209.6 192.1h0M217.7 203.5h0M227 198.1h0M229.9 196.7h0M224.5 189.2h0M226.8 199.5h0M221.1 202.2h0M219.7 189.7h0M217.6 202.7h0M210.3 197.2h0M229.2 195.5h0M210.2 195.8h0M220.7 202.5h0M232.4 193.8h0M213.2 203.3h0M212.2 200.8h0M222.4 203.2h0M208.9 192.4h0M224 188.8h0M219.1 203.9h0M224 201.1h0M228.3 196.9h0M219.7 188.7h0M208 196.4h0M231.2 189.2h0M215.8 203.6h0M208.9 196.8h0M208 195.1h0M227.2 185.9h0M208.6 198.2h0M225.8 189.9h0M210 198h0M204.1 199.9h0M228.7 198.8h0M234.6 190.5h0M211.2 201.8h0M211.3 201.1h0M228 188h0M209.2 200.7h0M217.7 189.8h0M211 194.5h0M227.5 197.7h0M207.7 192.3h0M222 203.1h0M211 200.7h0M228.4 189.7h0M222.9 190.2h0M232.9 200.8h0M223.4 201.8h0M219 187.9h0M227.9 197.3h0M228.4 192.6h0M228.4 195.3h0M211.8 201.7h0M218.5 204h0M217.9 203h0M209 189.1h0M221.5 184.2h0M204.4 198.3h0M215.5 202.5h0M214.5 202.9h0M210.4 196.2h0M222.3 202.8h0M231 195.3h0M217.5 188.6h0M219.5 188.6h0M208.4 190.9h0M230.7 196.1h0M221 184.8h0M229.4 196.2h0M223.1 186.6h0M219.1 204.9h0M224 188.3h0M226.4 199.3h0M225.3 200.7h0M212.6 191.9h0M226.7 190.1h0M228.5 195.8h0M210.1 188.2h0M215.4 203.8h0M216.8 187.3h0M225.7 191.3h0M227.6 191.8h0M220.8 205h0M227.9 197.8h0M207.8 203.2h0M206.3 195.7h0M213.8 202.4h0M208.7 195.1h0M224.7 203.5h0M206.3 201.4h0M208.6 193.7h0M226.8 199.2h0M232.7 198.3h0M230.9 197.7h0M219.7 188.4h0M229.1 190.3h0M225.8 199.6h0M210.8 193.1h0M212.1 201.2h0M228.6 199.2h0M219.6 189.8h0M229.3 194.2h0M219.9 188.7h0M228.6 192.4h0M210.3 197.2h0M211.8 189.8h0M234.4 196.4h0M209.8 200.2h0M216.9 188.2h0M222.9 186.8h0M212.6 189.6h0M230.5 193.1h0M230.4 191.1h0M228.6 192.6h0M207.3 199.9h0M206.4 200.4h0M228.2 194.1h0M209.2 193h0M218.8 204.4h0M232.5 195h0M220.2 188.5h0M228 191.1h0M210.1 195.9h0M216.9 186h0M203.9 198h0M226.9 189.6h0M226 201.5h0M212.7 202h0M223.9 186.3h0M220.1 189.6h0M207.9 193.9h0M211 193.3h0M216 205.2h0M211.9 193.2h0M221.6 203h0M222.6 202.7h0M208.5 190.4h0M210.4 196.3h0M232.1 189.6h0M229.3 192.2h0M233.7 193.7h0M207.7 203.3h0M222.7 204.2h0M216.3 202.5h0M217.9 186.7h0M228.9 194.7h0M216 203.5h0M206.8 197.5h0M219.5 188.5h0M207.3 191.6h0M215.7 204.1h0M214.4 189.7h0M211.5 189.8h0M230.7 197.3h0M208.4 197.9h0M224.9 202.3h0M213.8 190.1h0M217.6 188.7h0M231.2 193.6h0M228 193.3h0M227.1 190.7h0M230.6 194.9h0M210.1 193.6h0M209.8 199.3h0M228.4 197.4h0M219.7 188.5h0M212.4 204h0M222 202.4h0M212.3 205.5h0M227.6 195.2h0M217.9 203.7h0M212.7 192h0M211.5 200.3h0M224.4 185.9h0M230.1 196.5h0M206.1 197.5h0M206.1 196.2h0M224.2 190h0M218.8 188.2h0M229.7 195.2h0M209.3 192.4h0M230.6 196.9h0M213.2 204.5h0M212.9 201.3h0M229.1 195.8h0M214.1 202h0M205.9 201.6h0M216.6 202.5h0M228.2 198.6h0M209.8 205.4h0M213.7 187.1h0M234.8 193.7h0M218.1 186.8h0M222.1 188.4h0M219.7 203.3h0M208 198.9h0M210.9 190h0M221.9 189.7h0M209.7 196.3h0M218 203.5h0M227.1 204.4h0M218.7 188.6h0M210.4 199.7h0M208.9 203.1h0M230.7 198.9h0M233.4 189.9h0M226.5 201.7h0M227.7 200.3h0M206.1 193h0M211.6 186.5h0M210.9 199h0M227.2 188h0M225.5 188.3h0M234.8 198.9h0M224.9 189.4h0M223.3 186.9h0M208.8 198.9h0M214.5 203.3h0M230.3 186.3h0M214.8 190.1h0M211.5 200.7h0M229.3 194.9h0M216.4 189.1h0M218.9 186.9h0M232.2 199.4h0M210.6 192.7h0M222.6 203.3h0M222.7 188.9h0M216.3 189.9h0M213.2 201.4h0M216.7 189.2h0M229.1 199.9h0M207.2 192.1h0M207.1 198.9h0M212.1 201h0M228.2 198h0M219.2 202.9h0M232.5 193.4h0M222.2 203.6h0M227.6 189.4h0M227.4 202.3h0M223.4 202.5h0M227.9 204.3h0M230.8 190.7h0M225.2 190.8h0M228.8 202.9h0M209.3 203.1h0M233.8 194.2h0M220.4 205.4h0M226.9 191.3h0M229.1 194.1h0M208.3 192.8h0M221.1 188.4h0M227.1 191h0M227.3 200h0M234.9 196.5h0M208.9 192.9h0M207.9 197.1h0M218.3 185.2h0M206.8 196.3h0M204.4 196h0M221 203.3h0M211.5 204.5h0M228.2 197.1h0M224.4 202.9h0M204.2 198.2h0M215.3 188.8h0M209.3 196.5h0M206.2 198.6h0M220 202.4h0M212.7 190.2h0M210.2 191.3h0M222.1 202.3h0M211 187.7h0M212.1 188.6h0M226.2 186.1h0M224.8 201.4h0M217.5 188.4h0M227.4 191.8h0M215.2 203h0M206.7 193.7h0M218.8 188.3h0M229.8 187.8h0M221.3 202.3h0M209.4 202.7h0M230.2 192.9h0M207.4 192.8h0M203.5 193.6h0M222.1 205h0M224.8 185.6h0M208.5 195.8h0M206.1 197.8h0M207.5 199.6h0M208.7 202h0M227.9 198.1h0M230.1 197.6h0M218.7 189.5h0M222.9 203.2h0M227.1 192.8h0M227.8 193.5h0M208.4 203.1h0M209.8 189.3h0M219.4 185.9h0M202.8 194.8h0M215.8 202.5h0M223.7 190.2h0M223.9 190.6h0M228.4 204.5h0M226.1 186.9h0M225.7 203.9h0M225.7 190.9h0M225 190.1h0M212.1 186.7h0M223.3 188.7h0M225.4 202h0M216.9 189.4h0M210.5 194.4h0M227.8 194.1h0M221.1 186.3h0M226 201.2h0M214.7 189.3h0M213.9 204.4h0M211.1 199.4h0M224.2 201.4h0M217.1 186.9h0M227 187.7h0M224.1 201.5h0M221.1 188.1h0M223.4 189.3h0M225.7 191.2h0M208.7 205.3h0M231.5 193.7h0M224.7 201.1h0M229.4 200.2h0M208.9 192.2h0M228.8 188.3h0M221.4 189.8h0M206.5 188.9h0M227.5 200.5h0M220 188.7h0M214.8 189.1h0M218.4 204.5h0M215.2 204.1h0M227.9 193.3h0M227.3 193.3h0M228.9 190.1h0M230.8 201.3h0M213 190h0M225.5 190.4h0M226.4 199.9h0M217.3 189.6h0M209.6 199.9h0M222.8 189.4h0M212 192.2h0M229 192.2h0M229.9 193.7h0M209.4 190.1h0M208.4 195.8h0M215.8 189.7h0M221.4 188.9h0M211.1 199.6h0M206.6 196.5h0M229.3 187.5h0M218.9 187.5h0M227.6 196h0M228.6 197.5h0M211.9 191.5h0M215.1 205h0M225.7 190.7h0M207.3 199.8h0M217.2 205.1h0M226.2 202.1h0M217.4 189h0M232.7 194.2h0M217 204.1h0M218.4 187.4h0M214 187.9h0M218.2 203.3h0M211.5 193.2h0M210.1 200.5h0M227.2 192.7h0M226.6 203.5h0M226.8 186h0M233 196.7h0M232.7 194.4h0M228.6 199.6h0M229.4 190.8h0M205.2 195.8h0M207.5 193.8h0M212.9 201.5h0M208.6 198.9h0M213.5 187.5h0M223.6 201.9h0M235.3 193h0M221.1 187.9h0M213.6 201.7h0M226.8 191h0M214.3 202.2h0M216.7 203h0M223.1 202h0M210.9 194.3h0M230.3 204.3h0M221.4 189.9h0M222.3 189.3h0M208.7 199.4h0M215.4 205.4h0M204.4 197.7h0M211.3 192.7h0M226.4 190.8h0M210.1 202.7h0M209.6 194.5h0M209.6 196.8h0M230.9 192.9h0M218.7 189.6h0M222.7 188.1h0M212 186.2h0M216 190h0M234 199.2h0M228.3 197.8h0M208.4 192.7h0M222.8 189.4h0M227.7 198.5h0M212.4 187.6h0M211.5 203.5h0M224.3 202.4h0M215.9 204.6h0M211.7 191.9h0M224.8 189.7h0M234.3 195h0M209.7 204.8h0M209.2 201h0M222.8 203.7h0M206.6 199.2h0M211.1 202.9h0M228.2 197.1h0M207 199.6h0M229.4 198.4h0M218.2 189.4h0M217.3 186.9h0M208.3 193.2h0M211.5 186.7h0M208.4 200.1h0M229.2 201.9h0M226.6 190.3h0M228.4 190.8h0M214.7 184.5h0M215.6 188.7h0M233.7 195.4h0M215.3 190.7h0M204.8 190.9h0M224.4 204.6h0M216.1 190.3h0M225.3 190.7h0M222.8 188h0M203.3 195.2h0M231.9 197.5h0M205.5 197.6h0M211.7 191.4h0M228 199.8h0M225.5 188.7h0M218.6 203.4h0M227 201.3h0M206.7 198h0M226.7 201.8h0M214.5 191.2h0M220.4 202.9h0M226.1 192.1h0M213.8 201.7h0M229.6 194.6h0M212.4 189.6h0M207.2 198h0M235 198.5h0M210 189.5h0M207.7 194.9h0M222.9 188.1h0M209.5 200.9h0M231 197.1h0M230.5 199h0M228.1 191h0M221.7 187.1h0M224.5 190.3h0M209.9 195.7h0M228.7 191.7h0M224.2 188.4h0M218.8 203.7h0M211.9 203.2h0M228.8 199.9h0M207.1 201.6h0M205.3 200.2h0M205.1 195.9h0M215.8 205.4h0M211.1 203.6h0M208.4 200.6h0M225.5 190.9h0M221.1 204.6h0M224.9 190.8h0M225.3 191.1h0M210.9 201.7h0M221.4 202.6h0M227.4 197.9h0M232.1 197.8h0M210 202.6h0M232.7 191.9h0M225.9 181.2h0M224.3 181.8h0M228.4 171.7h0M230 179.1h0M226.8 185.5h0M223.8 190.4h0M224.2 171.7h0M223.4 187.3h0M229.1 182.6h0M223.5 175.2h0M222.7 177.4h0M223.6 174.4h0M225.5 181.2h0M225.2 172.8h0M225.9 173h0M228.4 176.1h0M227.5 176.4h0M224.9 167.1h0M229.5 171.3h0M225 170.8h0M227.4 179.2h0M224.2 180.6h0M226.6 187.1h0M226.5 173.2h0M222 180.2h0M228.3 177.9h0M226.4 189.7h0M227.9 179.5h0M225.6 171h0M228.3 176.8h0M227.4 175h0M222.2 180.2h0M229.7 169.3h0M220.5 186.1h0M224 180.1h0M224.3 187.4h0M223.7 175.2h0M225.8 181.4h0M224.8 183.5h0M228.2 180.1h0M222.9 172.1h0M221.9 174.5h0M226.7 186.3h0M225.5 182.2h0M228.6 169.2h0M225.8 172.9h0M225.1 184.8h0M224.9 184.2h0M227.7 167h0M226.2 172.9h0M226.5 164.9h0M223 175.9h0M227.6 178.2h0M228 173.1h0M230.5 173.3h0M222.4 178.1h0M226.1 184.5h0M226.8 182.8h0M221.7 178h0M225.7 166.1h0M230.2 171.9h0M226.6 182.2h0M225.6 172.2h0M228.9 178h0M226 180.9h0M225.3 182.7h0M226.5 170.5h0M223.2 180.2h0M223.2 178.4h0M228 174.4h0M226.5 170.9h0M222.2 179.6h0M227 171.9h0M225.1 173.8h0M225.3 174.1h0M222.7 189h0M225.3 170.4h0M223.7 183.8h0M229 179.4h0M223.7 181h0M223.3 169.2h0M226.7 171.1h0M224 182.8h0M223.2 178.8h0M226.9 165.5h0M223.5 174.5h0M227.6 170.9h0M224.5 174.7h0M222.4 174.2h0M227.3 182.7h0M223.6 173.1h0M225.4 166.1h0M231.6 174.3h0M226 169.4h0M223.1 176.2h0M223.4 180.7h0M227.7 171.3h0M228.7 176.8h0M232 175.4h0M227.6 181.5h0M223 168.7h0M221.3 181.2h0M224.9 182.3h0M222.3 181h0M229.9 170.6h0M223.9 182.6h0M222.5 180.9h0M220.3 172h0M228.1 171.5h0M227 181.4h0M223.5 171.5h0M221.4 178.4h0M229.5 175.5h0M220.7 182.4h0M227.4 178h0M223 170.7h0M223.8 185.2h0M230 173h0M221.3 176.2h0M228.1 173.7h0M225.1 182.2h0M220 186.4h0M229 178.3h0M223.2 181.1h0M226.3 173.5h0M223.8 181h0M226.8 182.7h0M223.9 180.8h0M223.6 186.2h0M222.1 182.5h0M225.5 168.3h0M228.3 170.8h0M223.4 176.8h0M220.5 183.4h0M229.5 174.9h0M227.5 176.2h0M223.7 175.7h0M221.2 173.5h0M226.4 183h0M223.2 182.3h0M230 180h0M229.7 178.7h0M224.3 182.1h0M226.6 169.1h0M225.5 186.6h0M226.2 182.3h0M227.7 176.1h0M222.4 179.5h0M229.8 175h0M223.3 177.1h0M224 174.7h0M222.4 183.3h0M226.4 182.2h0M222.8 180.2h0M225.1 169.6h0M229.3 176.7h0M225.5 173h0M227.7 173.8h0M224.6 171.8h0M224.2 175.2h0M228.3 174.1h0M227.7 182.3h0M229.5 173.7h0M228.1 180.2h0M230.5 173.6h0M227.1 170.7h0M229.5 172.7h0M220.6 182.2h0M222.1 175.4h0M230.7 182.1h0M224.6 182.3h0M223 181.1h0M225.1 173.9h0M223.6 174.2h0M224.9 186.9h0M227.2 182.7h0M224 186.3h0M224.3 184.9h0M222.2 180.3h0M223.2 175.6h0M226.4 168.2h0M221.5 176.4h0M226.4 169.4h0M223.2 182.6h0M223 176.4h0M220.7 177.7h0M225.8 170.6h0M221.8 178.1h0M224.9 174.2h0M228.4 175.7h0M221.6 172.4h0M223 179.4h0M228 179.7h0M222.8 182.1h0M225.3 171.4h0M223.6 187.9h0M227.9 173.8h0M227.8 181.6h0M222.7 175h0M225.2 173.3h0M229.5 179.5h0M227.1 182.8h0M226 181.9h0M223.2 182.4h0M227.2 183.3h0M224.6 174.5h0M228.4 177.6h0M231.3 181h0M222.3 180.4h0M227.5 168h0M225.7 166.2h0M223.8 175.6h0M222.8 183.5h0M226 170.3h0M227.2 179.5h0M221.5 181.8h0M223 172.5h0M229.5 175.5h0M226.3 173.3h0M226.3 167.1h0M225.4 173.4h0M228.1 175.6h0M223.9 174.8h0M220.7 178.9h0M222.2 170.6h0M231.5 171.1h0M225.1 186.7h0M225 170.7h0M226.7 187.3h0M223.1 181.5h0M227.7 176.4h0M225.9 171.9h0M223.9 173.5h0M223.6 184.5h0M226.2 181.1h0M228.2 181.5h0M228.6 185.3h0M224.9 169.4h0M227.5 170.8h0M226 186.6h0M226.5 172.8h0M223.6 180.4h0M227.1 171.7h0M222.8 179.2h0M223.4 180.4h0M224.3 183.9h0M222.8 177.9h0M220.3 180h0M225.8 182.8h0M223.6 174.5h0M227.2 170.1h0M226.1 185.3h0M230.6 174.6h0M226.3 173.7h0M222.2 177.7h0M225 171h0M222.7 178.1h0M224.6 172.7h0M219.6 180.3h0M228.6 173.4h0M223.2 171h0M229.1 177h0M228.6 172.3h0M224.3 189.6h0M226.7 181.5h0M227.6 184.1h0M223.5 178.1h0M227.2 172.2h0M227.7 178h0M230 180.9h0M226.4 173.6h0M227.5 170.7h0M230.2 174.8h0M227.4 178.1h0M228.9 174.5h0M222.1 180.6h0M227.6 181.2h0M229.1 178.2h0M223.1 179.8h0M221.7 175.4h0M226.1 184.6h0M222.4 176.4h0M223.5 179.5h0M226.6 180.3h0M227.2 180.3h0M223.8 187.2h0M225.3 170.9h0M220.1 186.4h0M228.5 173.1h0M227.4 171.3h0M230.6 168.8h0M225.7 168h0M224.9 182.7h0M223.8 174.5h0M229.1 178.2h0M223.3 177.3h0M223.6 172.8h0M225.4 169.8h0M230.2 176.2h0M225.9 173.5h0M222.9 181.8h0M228.9 180.2h0M224.7 184.1h0M228.8 179.2h0M226.7 173.5h0M225 174.1h0M225.4 173h0M224.1 185.5h0M228 173.3h0M224.1 187.3h0M227 172.4h0M222.1 182.8h0M220 185.1h0M229.1 175.7h0M223 179.3h0M223.5 180.3h0M227.6 165.8h0M231.1 164.3h0M228.4 169.7h0M229 165.3h0M225.1 165.7h0M223.1 165.2h0M227.9 170.5h0M229.6 169.7h0M229.1 167.2h0M224 164.8h0M227.4 166.2h0M224.9 161.8h0M228.4 165.7h0M228 165.8h0M227.4 163h0M230.2 167.7h0M227.9 171.7h0M226.2 169h0M227.8 166.6h0M230.2 166.5h0M227.9 162.9h0M228.7 167.7h0M226.9 162.9h0M230.4 166.9h0M230.9 166.3h0M229.8 166.9h0M228.6 165.9h0M229.4 169.1h0M228.2 163.4h0M230.4 169.5h0M225.1 167.2h0M231.8 168.4h0M226.7 167.4h0M214.9 172.6h0M212.4 176.1h0M212.1 183.5h0M206.3 172.9h0M210.6 183.2h0M213.1 176.4h0M212.6 184.6h0M221.3 178.6h0M209.6 176.3h0M206.4 181.7h0M212.7 182.5h0M211.1 174.2h0M204.8 178.7h0M217.8 167.8h0M209.2 177.1h0M217.7 186h0M220.1 178.8h0M207.7 173.8h0M215.6 177.6h0M210.2 177.1h0M214.1 187.7h0M212.2 180.1h0M214.7 180.9h0M210.7 184.2h0M218.9 179.8h0M209.1 172.7h0M212.7 177h0M209.9 177h0M207.2 176.7h0M208 178.8h0M203.5 174.2h0M211.7 171h0M211.7 176.6h0M218.7 180.6h0M239.8 181.5h0M241 181.3h0M242.6 180.8h0M238.5 179.2h0M244 180.5h0" stroke="#000" stroke-width="1.15" stroke-linecap="square" fill="none"/>
<ellipse cx="219" cy="196.2" rx="9.6" ry="6.9" transform="rotate(-10 219 196.2)" fill="#000"/>
<ellipse cx="225.6" cy="177.5" rx="2" ry="4.16" transform="rotate(8 225.6 177.5)" fill="#000"/>
</g>
<text x="262.8" y="147.7" font-size="10" text-anchor="end" >6.23</text>
</g>
<g>
<path d="M296.8 131.7H391.6V207" fill="none" stroke="#000" stroke-width="1.35"/>
<path d="M296.8 207H391.6" fill="none" stroke="#333" stroke-width="0.8"/>
<path d="M296.4 131.1V207.5" fill="none" stroke="#000" stroke-width="2"/>
<path d="M320.6 131.7V206.6M297.3 186.4H391.6" fill="none" stroke="#111" stroke-width="1.1"/>
<path d="M297.3 204.9h-4.6M297.1 206v2.9M297.3 186.78h-4.6M320.73 206v2.9M297.3 168.65h-4.6M344.35 206v2.9M297.3 150.52h-4.6M367.98 206v2.9M297.3 132.4h-4.6M391.6 206v2.9" stroke="#000" stroke-width="1.1" fill="none"/>
<path d="M297.3 199.44h-3.2M304.21 206.2v1.7M297.3 196.25h-3.2M308.37 206.2v1.7M297.3 193.99h-3.2M311.32 206.2v1.7M297.3 192.23h-3.2M313.61 206.2v1.7M297.3 190.8h-3.2M315.48 206.2v1.7M297.3 189.58h-3.2M317.07 206.2v1.7M297.3 188.53h-3.2M318.44 206.2v1.7M297.3 187.6h-3.2M319.64 206.2v1.7M297.3 181.32h-3.2M327.84 206.2v1.7M297.3 178.13h-3.2M332 206.2v1.7M297.3 175.86h-3.2M334.95 206.2v1.7M297.3 174.11h-3.2M337.24 206.2v1.7M297.3 172.67h-3.2M339.11 206.2v1.7M297.3 171.46h-3.2M340.69 206.2v1.7M297.3 170.41h-3.2M342.06 206.2v1.7M297.3 169.48h-3.2M343.27 206.2v1.7M297.3 163.19h-3.2M351.46 206.2v1.7M297.3 160h-3.2M355.62 206.2v1.7M297.3 157.74h-3.2M358.57 206.2v1.7M297.3 155.98h-3.2M360.86 206.2v1.7M297.3 154.55h-3.2M362.73 206.2v1.7M297.3 153.33h-3.2M364.32 206.2v1.7M297.3 152.28h-3.2M365.69 206.2v1.7M297.3 151.35h-3.2M366.89 206.2v1.7M297.3 145.07h-3.2M375.09 206.2v1.7M297.3 141.88h-3.2M379.25 206.2v1.7M297.3 139.61h-3.2M382.2 206.2v1.7M297.3 137.86h-3.2M384.49 206.2v1.7M297.3 136.42h-3.2M386.36 206.2v1.7M297.3 135.21h-3.2M387.94 206.2v1.7M297.3 134.16h-3.2M389.31 206.2v1.7M297.3 133.23h-3.2M390.52 206.2v1.7" stroke="#000" stroke-width="1" fill="none"/>
<use href="#T" transform="translate(292.1 216.8) scale(0.00282 -0.00381)" stroke="#000" stroke-width="150" stroke-linejoin="round"/>
<use href="#d0" transform="translate(298.9 212.9) scale(0.00315 -0.00332)" stroke="#000" stroke-width="130" stroke-linejoin="round"/>
<g transform="translate(290.1 209.6) rotate(-90)">
<use href="#T" transform="translate(-0.2 0) scale(0.00296 -0.00400)" stroke="#000" stroke-width="150" stroke-linejoin="round"/>
<use href="#d0" transform="translate(7.1 -4.6) scale(0.00325 -0.00342)" stroke="#000" stroke-width="130" stroke-linejoin="round"/>
</g>
<use href="#T" transform="translate(315.33 216.8) scale(0.00282 -0.00381)" stroke="#000" stroke-width="150" stroke-linejoin="round"/>
<use href="#d1" transform="translate(322.13 212.9) scale(0.00315 -0.00332)" stroke="#000" stroke-width="130" stroke-linejoin="round"/>
<g transform="translate(290.1 191.47) rotate(-90)">
<use href="#T" transform="translate(-0.2 0) scale(0.00296 -0.00400)" stroke="#000" stroke-width="150" stroke-linejoin="round"/>
<use href="#d1" transform="translate(7.1 -4.6) scale(0.00325 -0.00342)" stroke="#000" stroke-width="130" stroke-linejoin="round"/>
</g>
<use href="#T" transform="translate(338.55 216.8) scale(0.00282 -0.00381)" stroke="#000" stroke-width="150" stroke-linejoin="round"/>
<use href="#d2" transform="translate(345.35 212.9) scale(0.00315 -0.00332)" stroke="#000" stroke-width="130" stroke-linejoin="round"/>
<g transform="translate(290.1 173.35) rotate(-90)">
<use href="#T" transform="translate(-0.2 0) scale(0.00296 -0.00400)" stroke="#000" stroke-width="150" stroke-linejoin="round"/>
<use href="#d2" transform="translate(7.1 -4.6) scale(0.00325 -0.00342)" stroke="#000" stroke-width="130" stroke-linejoin="round"/>
</g>
<use href="#T" transform="translate(361.78 216.8) scale(0.00282 -0.00381)" stroke="#000" stroke-width="150" stroke-linejoin="round"/>
<use href="#d3" transform="translate(368.58 212.9) scale(0.00315 -0.00332)" stroke="#000" stroke-width="130" stroke-linejoin="round"/>
<g transform="translate(290.1 155.22) rotate(-90)">
<use href="#T" transform="translate(-0.2 0) scale(0.00296 -0.00400)" stroke="#000" stroke-width="150" stroke-linejoin="round"/>
<use href="#d3" transform="translate(7.1 -4.6) scale(0.00325 -0.00342)" stroke="#000" stroke-width="130" stroke-linejoin="round"/>
</g>
<use href="#T" transform="translate(385 216.8) scale(0.00282 -0.00381)" stroke="#000" stroke-width="150" stroke-linejoin="round"/>
<use href="#d4" transform="translate(391.8 212.9) scale(0.00315 -0.00332)" stroke="#000" stroke-width="130" stroke-linejoin="round"/>
<g transform="translate(290.1 137.1) rotate(-90)">
<use href="#T" transform="translate(-0.2 0) scale(0.00296 -0.00400)" stroke="#000" stroke-width="150" stroke-linejoin="round"/>
<use href="#d4" transform="translate(7.1 -4.6) scale(0.00325 -0.00342)" stroke="#000" stroke-width="130" stroke-linejoin="round"/>
</g>
<clipPath id="c6"><rect x="297.3" y="131.7" width="94.3" height="74.6"/></clipPath>
<g clip-path="url(#c6)">
<path d="M347.1 202.5h0M344.3 195.5h0M345.4 194.8h0M340.7 189.7h0M337.9 202.5h0M348.4 191.7h0M324 194.8h0M326.3 194.1h0M347.9 191h0M327.5 202.1h0M335.9 203.9h0M344.2 193.4h0M342.9 190h0M327.4 193.8h0M345.4 197.8h0M327.5 202.7h0M331.1 188.2h0M325.2 192.9h0M328.6 201.6h0M341.6 192.1h0M336.4 205.5h0M337.1 190.2h0M348.5 201.8h0M330.4 203.3h0M347.2 196.4h0M347.4 199.6h0M341 189h0M334.5 188.9h0M337.7 204.2h0M344.3 197.2h0M321.4 200.3h0M340.9 190.4h0M350.7 198.8h0M339.1 202.5h0M325.8 201.7h0M321.8 196.7h0M324.4 188.3h0M325.4 197.1h0M325.7 189.6h0M322.7 193.4h0M323 199h0M343.6 198.9h0M339.5 205h0M323 194.1h0M326.6 194.9h0M336.2 189.6h0M328.3 190.6h0M339 204.1h0M330 204.3h0M348 199.6h0M349.2 193.1h0M343.9 198.3h0M323.7 196.3h0M341.4 191.3h0M342.7 203h0M349.6 196h0M333.8 189.4h0M324.8 198.4h0M345.9 201.6h0M335.8 204.7h0M333.4 205.6h0M337.1 188.4h0M346.8 189.6h0M342.3 192.2h0M346.6 194.1h0M325 196.6h0M338.4 203.3h0M324.7 197.7h0M324.4 193.1h0M348.3 198.7h0M343.1 187.7h0M350 202.2h0M345.3 202.9h0M326.8 203.9h0M342.4 200.7h0M342.7 192.6h0M337.4 190.7h0M337.2 203h0M334.9 190.3h0M326.6 194.6h0M353.2 197.8h0M341.9 201.3h0M325.3 200.8h0M329.8 191.4h0M342.6 200.8h0M321.9 197.5h0M325 195.7h0M349.3 198.5h0M338.7 190.2h0M347.5 190.7h0M343.4 190.9h0M346.7 199.6h0M325.1 197h0M329.6 188.4h0M342.5 192.3h0M343.7 192.2h0M351.2 200.5h0M343.4 201.5h0M345.4 197.9h0M327.8 200.8h0M339.1 187.3h0M338.2 202.6h0M339.4 185.5h0M326 202.1h0M341.3 188.9h0M337.7 190.9h0M326.3 193.3h0M352.1 191.6h0M348.7 201.4h0M328.7 191.3h0M335.3 202.9h0M345.7 194h0M345.2 193.4h0M339.2 204.2h0M345.2 193.1h0M345.5 202.2h0M333.6 204.7h0M329.8 202.3h0M344.2 192.8h0M349.9 196.4h0M334.2 190.1h0M328.6 189.6h0M338.6 189.5h0M322.8 201.3h0M325.1 196.5h0M328.1 202.7h0M346.4 199.8h0M325.5 200.4h0M337.4 202.7h0M346.5 195.8h0M325.7 188.4h0M344.4 198.2h0M326.8 189.3h0M345.7 200.6h0M342.7 202.7h0M332.9 187.3h0M321.7 193.1h0M321.2 197.2h0M328.1 202.8h0M328.3 202.2h0M318.3 201.8h0M347.4 192.9h0M344.3 201.4h0M321.1 190.2h0M331 204.6h0M326.6 194h0M327.2 201.1h0M335.4 190.8h0M339 187.3h0M329.7 204.5h0M331.2 187h0M345.6 202.1h0M330 189.5h0M347.2 192.1h0M327.7 201.8h0M347.8 192.8h0M344.9 193.6h0M341 203.1h0M324.3 193.1h0M334.3 190h0M323.1 196.6h0M349.5 196.7h0M330.6 186.7h0M339.8 202h0M325.2 188.6h0M325.5 200.6h0M344.3 198.3h0M325.6 198.4h0M328.9 201.6h0M328.8 204.9h0M329.5 203.5h0M344.8 190.4h0M350 201.9h0M332.6 190.1h0M323.3 196.5h0M333.1 186.9h0M328.8 191.6h0M344.8 197.1h0M331 203.9h0M327.3 202.9h0M348.4 195.4h0M331.5 191h0M343.1 203.1h0M323.9 193.5h0M319.7 197.3h0M321.6 196.1h0M339.9 191.2h0M326 197.6h0M323.8 197.7h0M341.9 192.1h0M338.1 191h0M338.9 190.4h0M325.2 193.3h0M342.4 202.2h0M328.5 192.1h0M350.6 191h0M325.9 197.1h0M340.4 190.9h0M327.7 200.7h0M326.1 202.7h0M340.3 187.5h0M325 198.1h0M343.2 202.9h0M335.9 205.3h0M348.3 199.2h0M319.7 201.4h0M347.3 194h0M335.8 188.8h0M344.1 191.6h0M326.8 193.2h0M346.5 197h0M339 205.5h0M331.2 202.6h0M324 190.5h0M331.5 203h0M334.1 203.9h0M323.4 196.5h0M346 199.5h0M331.9 190.2h0M332.9 203.2h0M317.6 196.8h0M324.5 197.7h0M328.5 192h0M325.1 193.6h0M351 196.9h0M326.8 194.9h0M324.8 199.7h0M325.5 196.2h0M341.8 189.3h0M324 193.3h0M327.2 205.2h0M346.1 187.8h0M334.8 203h0M333.9 190.8h0M326.7 192h0M326 199.6h0M340.6 189.2h0M342.1 204.2h0M334.9 189.5h0M324.9 197.2h0M342.9 205.4h0M334.3 190.2h0M347.8 197.5h0M326.8 192.6h0M340.9 204.5h0M324.3 196h0M341.5 189.3h0M345.5 193h0M329.5 203.8h0M352.1 199h0M347.4 192.1h0M320.3 201.5h0M341.3 201.3h0M325.4 193.6h0M343.8 190.5h0M329.9 191.9h0M343.7 190.4h0M346.1 194.7h0M332.8 191h0M322.4 190.7h0M346 188h0M343.4 202.2h0M339.6 190.3h0M326 198.4h0M328.3 189.6h0M325 198.1h0M329.9 191.7h0M341.7 201.6h0M326.2 194.9h0M327.8 186.5h0M322.8 196.2h0M350.4 189.7h0M331.5 191.4h0M343.3 202.3h0M336.4 190.1h0M342.9 192h0M346.3 197.4h0M342.1 203.2h0M340.5 202.7h0M337.3 186.1h0M326.3 194.3h0M351.6 197.5h0M338.6 204.1h0M335.2 187.4h0M327.1 187.5h0M341.6 190.2h0M325.7 191.3h0M337.3 203.1h0M338.4 190.3h0M336 203.3h0M334 190.7h0M324.7 199.9h0M334.6 187h0M340.8 205.1h0M345.3 193.7h0M347.3 194.7h0M327.1 193.4h0M321.8 195.4h0M334.8 204.6h0M342.5 191.5h0M345.9 190.9h0M332.3 191.2h0M342.2 205.1h0M331.1 205.3h0M325.5 195.8h0M346.3 192.7h0M336.4 203.4h0M328.7 201.7h0M327.4 191.8h0M342.8 190.8h0M323.6 204h0M331.2 204.5h0M324.2 194.5h0M344.6 194.7h0M346 201.7h0M344.6 190.7h0M326.4 201h0M321.2 201h0M346.4 195.6h0M323.6 192.5h0M340.5 203.2h0M330.9 190.4h0M344.8 194.5h0M333.7 191h0M351 194.3h0M345.4 194.9h0M337.2 204.1h0M329.6 192.2h0M345.6 194h0M325.7 198.8h0M323.5 196.6h0M349.5 190.2h0M343.4 189.7h0M330.4 191.8h0M343 200.5h0M345.4 190.5h0M341.4 201.3h0M345.5 202.9h0M328.6 192.3h0M319.7 198.3h0M324.7 199h0M345.9 196h0M334.8 205.5h0M328.9 192.1h0M333.6 189.4h0M344.7 198.9h0M325.9 203.8h0M325.9 203.5h0M336.9 205.5h0M341.7 201.4h0M333.8 202.9h0M345.7 199.6h0M344.9 196.6h0M344.6 200.8h0M336.3 202.9h0M334.9 203.8h0M328.7 190.1h0M324 195.4h0M323.4 194.7h0M326 194.3h0M331.4 190.5h0M341.5 190.6h0M325.7 191.1h0M328.3 190h0M329.5 189.7h0M323 201.1h0M330.3 205.6h0M332.2 190.8h0M328.4 202.4h0M340.9 202.7h0M347.6 202.1h0M330.4 203.1h0M346 201.4h0M328.2 191.8h0M332.9 203.6h0M344.3 200.8h0M343.2 192h0M346.3 197.6h0M334.3 189.1h0M346.6 202.2h0M340.3 201.9h0M345.7 195.5h0M328.1 201.6h0M325.4 196.9h0M321.3 193.6h0M334.8 190.3h0M335.4 203.6h0M322.7 197.1h0M329.9 188.4h0M342.6 203.9h0M323.1 201.9h0M347.1 198.9h0M344.4 195.5h0M353.3 194.8h0M334.1 204.2h0M323.9 195.8h0M340 204.3h0M326.1 198.8h0M324.3 197.3h0M342.1 203.1h0M336.2 190.5h0M331.3 188.2h0M330.8 189.8h0M338.9 190.3h0M344.6 203.1h0M344.6 199.3h0M331.6 203.2h0M346.6 198h0M346.1 188.8h0M326 200.6h0M342.5 203.5h0M320.1 197.6h0M328.4 201.9h0M323 197.3h0M318.7 196.8h0M329.4 192.3h0M343.5 199.4h0M331.5 190.7h0M344.2 204.3h0M343.2 200.3h0M340.4 187.4h0M323.4 203.1h0M345.2 194h0M321.5 196.9h0M341.2 191.2h0M333.7 186.4h0M349.1 200.1h0M329.2 191.3h0M345.2 198.1h0M329 192.3h0M343.5 200.4h0M337.9 204.5h0M329 203.1h0M323.4 192.7h0M338.3 205h0M339.6 190.4h0M332 205.3h0M343.2 202.2h0M347.7 194.7h0M329.2 201.9h0M331.4 190.4h0M340.8 201.4h0M351.3 191.7h0M328.9 205.4h0M345.9 192.4h0M330 191.1h0M348.2 195.2h0M339.4 204.3h0M337.4 188.3h0M339.6 202.4h0M345.1 194.6h0M336.1 187h0M332.1 203h0M321.4 202.4h0M339.7 190.1h0M335.5 190.5h0M347.5 189.4h0M339.1 204.5h0M328.3 202.8h0M324.9 198.1h0M351.9 197.5h0M348.7 198.4h0M343.7 188.5h0M336.6 188.4h0M342.3 191.2h0M326.5 194.8h0M324.4 198.5h0M332.4 203.5h0M345.3 200h0M338.2 191h0M338.9 204.3h0M337.3 186.2h0M340.7 190.5h0M345.7 197.2h0M351 199.4h0M327.6 188.4h0M345.7 197.5h0M345.8 193.2h0M338 204h0M345.1 199.3h0M323.4 203.3h0M345.9 202h0M343.1 192.3h0M346.5 198.3h0M345.8 193.9h0M343.1 201.7h0M332.1 188.4h0M345.1 196.5h0M324.7 204.8h0M325.5 193.8h0M325.3 203.6h0M329.4 192.3h0M324.3 192h0M324.2 192.2h0M352.2 193.5h0M342.3 192.2h0M329.7 202.5h0M325.9 191.5h0M323.2 190.2h0M345.5 192.8h0M341.2 202.2h0M339.7 186.5h0M337.6 203.9h0M335.8 190.9h0M330.7 190.2h0M342.5 203.4h0M326.4 203.3h0M329.9 189h0M324.4 200.2h0M344.6 200.2h0M322.5 193h0M350.3 202.4h0M322.1 197.2h0M332.1 204.6h0M331.5 191.5h0M329.8 189.1h0M337.6 190.9h0M325 196.4h0M327.6 203.1h0M339.5 202.1h0M341.6 202.2h0M328.4 190.2h0M351.6 198.3h0M322.3 201.3h0M330.3 189.9h0M345.1 203h0M326.2 199.9h0M346.1 193.4h0M346.8 188.1h0M326.6 193.7h0M323.7 192.8h0M326.5 194.8h0M334.9 189.3h0M339.6 189.1h0M348.4 194.9h0M340.2 190.5h0M325.3 193.8h0M321 201.1h0M336 202.8h0M344.9 203.3h0M329.1 192.5h0M335.8 189.7h0M327.4 193.1h0M351.4 200.6h0M346 196h0M332.1 189.5h0M345.7 196.4h0M322 195.6h0M342.6 200.8h0M339.8 187.5h0M340.4 177.5h0M343.3 173.8h0M342.4 175.9h0M337.6 183.8h0M337.1 179.6h0M339.2 175.3h0M338.6 169.6h0M335.9 178.1h0M341 178.2h0M333.3 178.4h0M344.7 179.8h0M340 179.4h0M338 175.5h0M338.4 179.9h0M334.7 183.7h0M339.1 186.2h0M338.7 183.4h0M333.6 181.8h0M337.8 178h0M334.2 184.4h0M339.3 184.1h0M342.6 175.3h0M331.5 179.6h0M337.3 174h0M337.6 177.4h0M335.2 179.4h0M336.2 179.4h0M343 182.9h0M339.9 185.5h0M338.8 180.1h0M338.5 171.9h0M338.6 173.7h0M344.4 180.8h0M335.5 183.8h0M338.7 175.4h0M342.6 182.7h0M340.9 185.4h0M333.1 174.7h0M337.3 180h0M334.8 176.9h0M340.5 190.3h0M341 173h0M342.5 181.3h0M339.7 176.8h0M334.7 175.1h0M345.6 183.8h0M334.5 179.3h0M333.8 176.5h0M339.3 188h0M332.6 186.6h0M341.9 173.4h0M335 185.3h0M346.2 183.3h0M339.5 182.1h0M335.9 176.7h0M337.2 171.8h0M335.7 169.1h0M332.9 173.4h0M334.6 174.8h0M331.2 173.1h0M331.9 175.8h0M332.5 176h0M334.7 172.8h0M349.8 184h0M355.9 188.6h0M353 188h0" stroke="#000" stroke-width="1.15" stroke-linecap="square" fill="none"/>
<ellipse cx="335.2" cy="196.9" rx="10.2" ry="6.6" transform="rotate(-5 335.2 196.9)" fill="#000"/>
</g>
<text x="383.7" y="148.2" font-size="10" text-anchor="end" >2.81</text>
</g>
<g>
<path d="M416.4 132H510.5V206.7" fill="none" stroke="#000" stroke-width="1.35"/>
<path d="M416.4 206.7H510.5" fill="none" stroke="#333" stroke-width="0.8"/>
<path d="M416 131.4V207.2" fill="none" stroke="#000" stroke-width="2"/>
<path d="M440.3 132V206.3M416.9 186.2H510.5" fill="none" stroke="#111" stroke-width="1.1"/>
<path d="M416.9 204.6h-4.6M416.7 205.7v2.9M416.9 186.62h-4.6M440.15 205.7v2.9M416.9 168.65h-4.6M463.6 205.7v2.9M416.9 150.68h-4.6M487.05 205.7v2.9M416.9 132.7h-4.6M510.5 205.7v2.9" stroke="#000" stroke-width="1.1" fill="none"/>
<path d="M416.9 199.19h-3.2M423.76 205.9v1.7M416.9 196.02h-3.2M427.89 205.9v1.7M416.9 193.78h-3.2M430.82 205.9v1.7M416.9 192.04h-3.2M433.09 205.9v1.7M416.9 190.61h-3.2M434.95 205.9v1.7M416.9 189.41h-3.2M436.52 205.9v1.7M416.9 188.37h-3.2M437.88 205.9v1.7M416.9 187.45h-3.2M439.08 205.9v1.7M416.9 181.21h-3.2M447.21 205.9v1.7M416.9 178.05h-3.2M451.34 205.9v1.7M416.9 175.8h-3.2M454.27 205.9v1.7M416.9 174.06h-3.2M456.54 205.9v1.7M416.9 172.64h-3.2M458.4 205.9v1.7M416.9 171.43h-3.2M459.97 205.9v1.7M416.9 170.39h-3.2M461.33 205.9v1.7M416.9 169.47h-3.2M462.53 205.9v1.7M416.9 163.24h-3.2M470.66 205.9v1.7M416.9 160.07h-3.2M474.79 205.9v1.7M416.9 157.83h-3.2M477.72 205.9v1.7M416.9 156.09h-3.2M479.99 205.9v1.7M416.9 154.66h-3.2M481.85 205.9v1.7M416.9 153.46h-3.2M483.42 205.9v1.7M416.9 152.42h-3.2M484.78 205.9v1.7M416.9 151.5h-3.2M485.98 205.9v1.7M416.9 145.26h-3.2M494.11 205.9v1.7M416.9 142.1h-3.2M498.24 205.9v1.7M416.9 139.85h-3.2M501.17 205.9v1.7M416.9 138.11h-3.2M503.44 205.9v1.7M416.9 136.69h-3.2M505.3 205.9v1.7M416.9 135.48h-3.2M506.87 205.9v1.7M416.9 134.44h-3.2M508.23 205.9v1.7M416.9 133.52h-3.2M509.43 205.9v1.7" stroke="#000" stroke-width="1" fill="none"/>
<use href="#T" transform="translate(411.7 216.5) scale(0.00282 -0.00381)" stroke="#000" stroke-width="150" stroke-linejoin="round"/>
<use href="#d0" transform="translate(418.5 212.6) scale(0.00315 -0.00332)" stroke="#000" stroke-width="130" stroke-linejoin="round"/>
<g transform="translate(409.7 209.3) rotate(-90)">
<use href="#T" transform="translate(-0.2 0) scale(0.00296 -0.00400)" stroke="#000" stroke-width="150" stroke-linejoin="round"/>
<use href="#d0" transform="translate(7.1 -4.6) scale(0.00325 -0.00342)" stroke="#000" stroke-width="130" stroke-linejoin="round"/>
</g>
<use href="#T" transform="translate(434.75 216.5) scale(0.00282 -0.00381)" stroke="#000" stroke-width="150" stroke-linejoin="round"/>
<use href="#d1" transform="translate(441.55 212.6) scale(0.00315 -0.00332)" stroke="#000" stroke-width="130" stroke-linejoin="round"/>
<g transform="translate(409.7 191.32) rotate(-90)">
<use href="#T" transform="translate(-0.2 0) scale(0.00296 -0.00400)" stroke="#000" stroke-width="150" stroke-linejoin="round"/>
<use href="#d1" transform="translate(7.1 -4.6) scale(0.00325 -0.00342)" stroke="#000" stroke-width="130" stroke-linejoin="round"/>
</g>
<use href="#T" transform="translate(457.8 216.5) scale(0.00282 -0.00381)" stroke="#000" stroke-width="150" stroke-linejoin="round"/>
<use href="#d2" transform="translate(464.6 212.6) scale(0.00315 -0.00332)" stroke="#000" stroke-width="130" stroke-linejoin="round"/>
<g transform="translate(409.7 173.35) rotate(-90)">
<use href="#T" transform="translate(-0.2 0) scale(0.00296 -0.00400)" stroke="#000" stroke-width="150" stroke-linejoin="round"/>
<use href="#d2" transform="translate(7.1 -4.6) scale(0.00325 -0.00342)" stroke="#000" stroke-width="130" stroke-linejoin="round"/>
</g>
<use href="#T" transform="translate(480.85 216.5) scale(0.00282 -0.00381)" stroke="#000" stroke-width="150" stroke-linejoin="round"/>
<use href="#d3" transform="translate(487.65 212.6) scale(0.00315 -0.00332)" stroke="#000" stroke-width="130" stroke-linejoin="round"/>
<g transform="translate(409.7 155.38) rotate(-90)">
<use href="#T" transform="translate(-0.2 0) scale(0.00296 -0.00400)" stroke="#000" stroke-width="150" stroke-linejoin="round"/>
<use href="#d3" transform="translate(7.1 -4.6) scale(0.00325 -0.00342)" stroke="#000" stroke-width="130" stroke-linejoin="round"/>
</g>
<use href="#T" transform="translate(503.9 216.5) scale(0.00282 -0.00381)" stroke="#000" stroke-width="150" stroke-linejoin="round"/>
<use href="#d4" transform="translate(510.7 212.6) scale(0.00315 -0.00332)" stroke="#000" stroke-width="130" stroke-linejoin="round"/>
<g transform="translate(409.7 137.4) rotate(-90)">
<use href="#T" transform="translate(-0.2 0) scale(0.00296 -0.00400)" stroke="#000" stroke-width="150" stroke-linejoin="round"/>
<use href="#d4" transform="translate(7.1 -4.6) scale(0.00325 -0.00342)" stroke="#000" stroke-width="130" stroke-linejoin="round"/>
</g>
<clipPath id="c7"><rect x="416.9" y="132" width="93.6" height="74"/></clipPath>
<g clip-path="url(#c7)">
<path d="M450.6 203h0M451.4 201.5h0M462 200.3h0M441.5 200.5h0M460.9 187.5h0M442.8 194.5h0M469.1 197.2h0M445.9 196.1h0M470.3 186.6h0M448.6 190.7h0M461.2 202.5h0M469.6 193h0M462.5 200.2h0M448.5 201.6h0M454.3 189.7h0M450.5 201.1h0M473 189.8h0M452.8 202.6h0M459.5 188.4h0M445.7 196.5h0M463.1 204.9h0M469.9 200h0M450.6 202.9h0M452.6 189.6h0M452.1 204.7h0M467.1 197.3h0M458.8 189.6h0M463.1 201.8h0M451 189.4h0M448.1 199.6h0M462.9 201.7h0M469.1 193.7h0M449.3 189.3h0M462.7 187.7h0M464.1 204.9h0M449.5 191.2h0M450.3 203.5h0M469.8 191.1h0M449.4 191.5h0M468.2 194.1h0M466.8 194.6h0M466.2 194.5h0M473.1 194h0M473 192.2h0M460.5 188h0M445.8 199.9h0M454.1 188.3h0M466.6 202.7h0M466.3 193.5h0M461.8 189.9h0M466.6 195.9h0M464.3 190.5h0M454.6 188h0M452.7 202.9h0M463.2 202.8h0M439.8 198.8h0M458.6 201.4h0M455.7 189.2h0M465.2 197.2h0M447.2 196.6h0M463.2 199.5h0M465.6 197.9h0M451.8 189.3h0M456.3 202.5h0M451.3 201.6h0M449 190h0M449.8 202.7h0M459.6 201.6h0M450.2 202.1h0M463.9 190.7h0M462.6 183.7h0M452.3 203.7h0M461.8 185.9h0M459 202.9h0M453 202.3h0M450.9 205h0M452.1 187.2h0M448.1 200.5h0M452.3 205.1h0M466.2 196.2h0M463.1 185.4h0M447.4 195.4h0M466.5 194.8h0M445.5 200.9h0M463.8 201.9h0M449.5 202.7h0M447.2 199.1h0M469.2 198.4h0M445.7 191.5h0M456 188.1h0M459.4 187.7h0M458.5 204.2h0M450.3 202.2h0M454.6 204.9h0M446.9 188.6h0M453.5 203.7h0M462.5 188h0M458.4 202.7h0M459.8 188.7h0M440.8 197.2h0M452.8 187.3h0M455.8 201.9h0M444 201.1h0M459.1 201.5h0M448.5 191.6h0M457.2 188h0M468.2 197.5h0M455.6 201.9h0M451.4 190.2h0M455.7 205.1h0M443.1 192.1h0M449.6 200.4h0M468.4 196.4h0M464.6 189.9h0M451.4 188.7h0M446.8 201.7h0M447.5 200.6h0M459.7 186.3h0M460 187.8h0M457.4 188.7h0M465.6 200.3h0M448.1 204.9h0M461 203.1h0M465.7 193.7h0M465.2 186.8h0M451.3 201.4h0M467.8 192.7h0M456.2 188.3h0M469.1 192.1h0M443 195.2h0M471.7 194.8h0M447.5 199.3h0M456.8 186.5h0M466.8 194.6h0M448.6 199h0M465.7 192.7h0M447.9 200h0M458.1 203.1h0M451.9 188.3h0M468.4 186.4h0M448.6 193.3h0M466.8 193.4h0M448.4 200.9h0M448.3 195.7h0M458.6 187.3h0M470 196h0M453.2 203.6h0M450.7 190.2h0M449.1 205.4h0M446.8 197.5h0M457.1 186.2h0M463.1 201h0M457.8 201.7h0M471.7 196.4h0M456.1 202.8h0M459.5 188.6h0M456.7 202h0M445.8 194.9h0M465.5 198.1h0M462.7 201h0M446.4 198.9h0M468.3 197h0M462.4 187.8h0M448.6 199.4h0M458.2 186.2h0M464.1 203.5h0M463.7 189.4h0M467.2 192.5h0M449.2 191.8h0M464.5 201.1h0M458.5 189.6h0M467.2 188.2h0M453.4 202.3h0M441.5 198.4h0M468.4 190.9h0M447 197.6h0M458.6 203.6h0M466.7 195.6h0M465 197.5h0M452.7 202.8h0M466 191h0M453.6 203.9h0M448.6 202.5h0M450.5 190.6h0M453.4 185.2h0M471.1 195.3h0M459.1 203.3h0M449.4 200.2h0M444.5 202.5h0M473.6 192.3h0M460.8 188.5h0M446.5 194.1h0M466.2 195.3h0M442.6 204.3h0M467 196.9h0M448.1 199h0M463.6 199.3h0M454 203.6h0M453 202.9h0M456.1 203.5h0M458.8 202.1h0M463.8 191h0M449.5 193.8h0M449.8 188.2h0M465.3 202.9h0M448.9 193.6h0M464.9 198.6h0M451.5 188.5h0M465.1 190.9h0M452 203.4h0M443.9 203h0M456.3 202.1h0M468.7 189.8h0M468.1 196.8h0M446.6 196.5h0M443 195.1h0M463.7 201.8h0M466.9 201.8h0M447.8 197.6h0M450.6 203.9h0M459.7 201.5h0M449.1 200.3h0M467.9 198.5h0M468.8 200.3h0M461.9 200.2h0M442.9 192.3h0M441.3 198.7h0M471.1 195.2h0M468.5 200h0M455.6 190.1h0M464.8 189.1h0M452.4 204.6h0M469 187.3h0M466 197.3h0M467.6 198.3h0M464.9 197.4h0M451 192.1h0M452.8 205.3h0M447.7 200.1h0M451.4 186.7h0M459 201.8h0M462.4 188.5h0M441.5 200.1h0M451.2 191.1h0M471.6 194.5h0M443 204.9h0M454.2 203.6h0M462.9 189.9h0M445.6 199.5h0M464.8 191h0M451.7 189.2h0M459.2 188.2h0M457.3 188h0M468.9 200.5h0M452.8 187.6h0M468.8 195.9h0M470.8 196h0M441.9 195.1h0M449.6 191h0M445.5 196.1h0M459.5 188.9h0M462.4 187.7h0M466.1 191.4h0M447.4 196.9h0M467.7 195h0M446.1 195.8h0M463.2 201.4h0M447.5 194.2h0M454.3 190.5h0M448.1 199.9h0M465.6 197.2h0M443.5 196.9h0M447.4 196.1h0M468.1 189.8h0M461.4 189.8h0M445.4 194.2h0M441.2 196.7h0M447 191.3h0M466.5 203.5h0M448.1 197.8h0M464 189.4h0M473.5 195.5h0M466.6 186.7h0M451 204.7h0M450.1 192.2h0M448.8 205.2h0M466.9 193.3h0M446.6 200.5h0M465.3 201.3h0M457.7 202.7h0M465.2 199.2h0M449.2 200.5h0M452.8 189.3h0M464.8 187h0M446.8 188.5h0M467.6 197.4h0M463.9 187.1h0M445.3 193.1h0M445.7 194.4h0M443 204.3h0M449.3 201.2h0M459 186.4h0M473.1 194.8h0M469 193.7h0M443.2 190.9h0M465.4 196.2h0M459.9 201.3h0M461.5 200.4h0M451.5 189.6h0M462.3 184h0M465.5 193h0M464.2 200.4h0M461.6 203.4h0M466.3 189.2h0M468.3 198.4h0M451 188.5h0M448.1 196.6h0M468.9 190.3h0M469.2 192.5h0M470.3 193.6h0M445.3 197.7h0M463.4 190.7h0M471 197.5h0M463.8 188.9h0M448.5 190.9h0M446.8 194.1h0M466.2 190.5h0M456.2 204.2h0M447.9 195.7h0M448.9 190.2h0M464.1 189.7h0M443.9 193h0M457.3 203.6h0M448.8 191.5h0M448.3 200.5h0M465.6 192.7h0M464.6 187.5h0M463.1 199.8h0M462.3 189.8h0M456.2 188.7h0M468 202h0M448 199.5h0M452 186.4h0M463.6 204.7h0M456.1 203.7h0M467.2 195.4h0M460.2 202.9h0M445.4 198h0M462.7 203.9h0M466.7 193.7h0M457 201.8h0M447.3 203.7h0M460.5 200.7h0M470.6 197.2h0M459.2 188.5h0M445.6 191h0M457.4 202.1h0M468.5 197.9h0M470 197.2h0M466.8 188.5h0M447.2 199.9h0M467.7 191.4h0M455.9 188.8h0M455.8 203.4h0M449.8 202.2h0M450.3 204.7h0M452.8 191.2h0M465.7 193h0M467.9 194.8h0M452.4 191.1h0M440.1 196.8h0M466.1 192.4h0M453 188.8h0M455.7 202.5h0M466.7 199.1h0M448.8 193h0M464.2 200.6h0M448.8 202.1h0M461 187.4h0M465.4 202.7h0M463.9 190.3h0M452.5 204.1h0M461.9 200.2h0M445 191.5h0M466 196.2h0M466.6 200.7h0M458.7 204.1h0M461 201.1h0M467 187.4h0M464.2 189.4h0M462.8 202h0M467.6 195h0M465.6 202.5h0M461.5 201.7h0M460.5 200.8h0M455.7 189.7h0M449.2 194h0M447.4 198.4h0M449.9 192h0M458.6 188.4h0M445.4 196.6h0M460 186.6h0M455.9 205.2h0M448.2 200.3h0M467.6 196h0M463.4 188.7h0M460.3 185.9h0M456.5 203.6h0M450 191.7h0M456.9 188.6h0M454.2 188.4h0M449.1 199.6h0M467.8 194.7h0M464 188h0M452.5 203.3h0M446.8 195.3h0M465.4 198.1h0M465.7 203.3h0M460.7 204.9h0M447.5 198.5h0M445.6 199.7h0M457.5 202.5h0M446.5 200.9h0M460.4 201.6h0M470.3 192.2h0M452.1 201.6h0M467.2 189.3h0M466.9 191h0M464.8 191.8h0M457.3 204.1h0M462.3 188.4h0M459.8 189.1h0M469 192.5h0M463.1 199.6h0M443.1 193.6h0M447.6 196.2h0M459.3 186.6h0M461.6 204.8h0M453.8 203h0M447.8 194h0M463.1 189.2h0M464.2 186.1h0M467.7 196.5h0M468.7 190.2h0M462 187.5h0M469.4 196.7h0M462.3 189.6h0M463.4 187.4h0M451.6 187.9h0M465.9 195.9h0M463.2 203h0M465 190.2h0M462.2 199.9h0M472.8 192.5h0M461.5 189.6h0M466.6 195.3h0M463.9 188.3h0M464 201.8h0M448.6 192.1h0M466.5 189.5h0M466.7 188h0M466.3 184.8h0M448.2 196.7h0M459.5 189.5h0M470.1 195.7h0M452.6 191h0M461.8 201.3h0M464.4 190.4h0M473.1 189.7h0M467.7 189.5h0M466.5 196.6h0M450.4 201.6h0M462.4 189.9h0M447.7 197.2h0M456 202.7h0M445.1 199.2h0M446.3 190.2h0M446.7 198.6h0M458.4 186.2h0M458 202.9h0M463.4 199.6h0M467.7 196.6h0M462.9 199.5h0M465.1 203.2h0M446.7 202.2h0M470.6 194.8h0M453.5 203.7h0M448.5 202.7h0M447.9 204.6h0M451.8 204.3h0M454.5 205.2h0M457.7 204h0M445.9 194.9h0M449.4 201.6h0M467 199.9h0M460 188.7h0M467.6 189.5h0M444.6 196.8h0M457.5 203.6h0M446.7 195.3h0M469.1 187.7h0M446 191.8h0M454.7 204.7h0M471.1 199.2h0M461.2 186.3h0M465.7 191.6h0M456.1 188.8h0M470.5 199.1h0M455.7 189.5h0M466.5 196.9h0M455.6 186.4h0M448.8 200.5h0M457.3 202.6h0M453.1 189.7h0M448.7 201.2h0M457.1 202.4h0M441.9 200.2h0M468.5 198.9h0M448.2 199.7h0M447.1 195h0M461.9 189.6h0M465.3 202.9h0M468.6 194h0M469.4 198h0M462 199.9h0M449.8 203.3h0M442.8 196.9h0M458.9 201.8h0M457.4 186.2h0M445.6 193.8h0M457.1 188.6h0M468.9 189.5h0M444.1 191.5h0M461.6 187.4h0M457.5 202.7h0M465.4 196.2h0M460.9 204.1h0M459.7 202.9h0M449.3 193.9h0M466.9 190.2h0M464.7 189.8h0M467 195.2h0M449.3 191.3h0M447.8 198.3h0M448.1 199.2h0M448.1 196.5h0M446 195.3h0M449.7 202.1h0M460.7 189.3h0M467.2 192.6h0M467.9 203h0M448.2 195.8h0M465.6 196.8h0M452.2 190.7h0M458.8 205.3h0M445.6 200.1h0M468.3 192.1h0M447.7 201.2h0M459.8 201.9h0M444.1 193.9h0M466.6 192h0M462.5 201.2h0M460.9 183.9h0M446.5 195.8h0M462.2 189.8h0M447.4 202.7h0M466.4 192.8h0M465.2 202.4h0M470.8 192.1h0M463.8 200.7h0M449.5 188.7h0M465.5 197.9h0M445.9 196.4h0M455.1 202.2h0M472.5 193.3h0M445.9 196.1h0M463.7 178.5h0M457.1 176.5h0M464.4 181.2h0M464 171.5h0M464.6 179.3h0M461.6 185.6h0M455.8 178h0M462.8 181.8h0M462.6 173.1h0M461.4 179.8h0M462.7 173.4h0M458.8 179.2h0M466.2 180h0M455.1 174.6h0M458.9 184.9h0M461.9 171h0M457.9 184.6h0M455.3 177.3h0M455.8 175.4h0M463.6 181.2h0M458.7 181h0M459.3 178.1h0M460.9 182.6h0M462.1 179.3h0M465.9 179.4h0M455.1 185.9h0M458.1 175h0M460.5 180h0M459.6 173.5h0M459.2 181.7h0M466 181.6h0M464.5 186h0M463.6 183.2h0M463.2 182.2h0M456.2 172.6h0M457.3 181.9h0M464.8 178.4h0M458.5 185.8h0M436.3 201.3h0M441.9 203.8h0M436.4 202h0M439.3 198h0M438.6 199.1h0M441.9 198.2h0M442.6 203h0M442.1 199.2h0M441.1 205h0M437.4 204.6h0M445 174h0M476 190h0M478 191h0" stroke="#000" stroke-width="1.15" stroke-linecap="square" fill="none"/>
<ellipse cx="457" cy="195.8" rx="9.9" ry="6.45" transform="rotate(-15 457 195.8)" fill="#000"/>
</g>
<text x="503.1" y="148.4" font-size="10" text-anchor="end" >1.74</text>
</g>
<path d="M39 228.3H507" stroke="#000" stroke-width="1.35" fill="none"/>
<path d="M504.4 224.7L514.4 228.3L504.4 231.9Z" fill="#000"/>
<text x="268.8" y="247.1" font-size="11.3" text-anchor="start" >CD4</text>
<rect x="94.7" y="265.5" width="73" height="73.2" fill="none" stroke="#555" stroke-width="0.8"/>
<path d="M94.7 265.2V338.7H168" fill="none" stroke="#000" stroke-width="1.2"/>
<path d="M91.5 275H94.7" stroke="#222" stroke-width="0.8"/>
<path d="M138.8 275H150.5M150.3 272.7V277.3" stroke="#222" stroke-width="0.95" fill="none"/>
<rect x="94.7" y="270.4" width="44.1" height="9.2" fill="#000"/>
<path d="M91.5 293.2H94.7" stroke="#222" stroke-width="0.8"/>
<path d="M115 293.2H123.8M123.6 290.9V295.5" stroke="#222" stroke-width="0.95" fill="none"/>
<rect x="94.7" y="288.6" width="20.3" height="9.2" fill="#000"/>
<path d="M91.5 311.6H94.7" stroke="#222" stroke-width="0.8"/>
<path d="M133.8 311.6H150M149.8 309.3V313.9" stroke="#222" stroke-width="0.95" fill="none"/>
<rect x="94.7" y="307" width="39.1" height="9.2" fill="#000"/>
<path d="M91.5 329.85H94.7" stroke="#222" stroke-width="0.8"/>
<path d="M146.8 329.85H159.3M159.1 327.55V332.15" stroke="#222" stroke-width="0.95" fill="none"/>
<rect x="94.7" y="325.2" width="52.1" height="9.3" fill="#000"/>
<path d="M94.7 338.7v2.6M109.3 338.7v2.6M123.9 338.7v2.6M138.5 338.7v2.6M153.1 338.7v2.6M167.7 338.7v2.6" stroke="#111" stroke-width="0.9" fill="none"/>
<text x="94.7" y="350.1" font-size="8.8" text-anchor="middle" >0</text>
<text x="109.3" y="350.1" font-size="8.8" text-anchor="middle" >5</text>
<text x="123.9" y="350.1" font-size="8.8" text-anchor="middle" >10</text>
<text x="138.5" y="350.1" font-size="8.8" text-anchor="middle" >15</text>
<text x="153.1" y="350.1" font-size="8.8" text-anchor="middle" >20</text>
<text x="167.7" y="350.1" font-size="8.8" text-anchor="middle" >25</text>
<path d="M154 275.4H157.6V290.7H154" stroke="#333" stroke-width="0.8" fill="none"/>
<text x="160.4" y="287.9" font-size="9.6" text-anchor="middle" >*</text>
<path d="M154 296.1H157.6V311.8H154" stroke="#333" stroke-width="0.8" fill="none"/>
<text x="160.4" y="308.5" font-size="9.6" text-anchor="middle" >*</text>
<text x="104.7" y="362.2" font-size="8.8" text-anchor="start" textLength="48.1" lengthAdjust="spacing">IFN-γ (%,n=4)</text>
<text x="90.2" y="278.1" font-size="8.8" text-anchor="end" >Control</text>
<text x="90.2" y="296.3" font-size="8.8" text-anchor="end" >TIMP-3</text>
<text x="90.2" y="314.7" font-size="8.8" text-anchor="end" >Wortmannin+TIMP-3</text>
<text x="90.2" y="332.95" font-size="8.8" text-anchor="end" >si-TIMP-3</text>
<rect x="179.2" y="265.5" width="73" height="73.2" fill="none" stroke="#555" stroke-width="0.8"/>
<path d="M179.2 265.2V338.7H252.5" fill="none" stroke="#000" stroke-width="1.2"/>
<path d="M176 275H179.2" stroke="#222" stroke-width="0.8"/>
<path d="M200 275H206.3M206.1 272.7V277.3" stroke="#222" stroke-width="0.95" fill="none"/>
<rect x="179.2" y="270.4" width="20.8" height="9.2" fill="#000"/>
<path d="M176 293.2H179.2" stroke="#222" stroke-width="0.8"/>
<path d="M225.5 293.2H237.5M237.3 290.9V295.5" stroke="#222" stroke-width="0.95" fill="none"/>
<rect x="179.2" y="288.6" width="46.3" height="9.2" fill="#000"/>
<path d="M176 311.6H179.2" stroke="#222" stroke-width="0.8"/>
<path d="M203.3 311.6H209.3M209.1 309.3V313.9" stroke="#222" stroke-width="0.95" fill="none"/>
<rect x="179.2" y="307" width="24.1" height="9.2" fill="#000"/>
<path d="M176 329.85H179.2" stroke="#222" stroke-width="0.8"/>
<path d="M193.8 329.85H197.5M197.3 327.55V332.15" stroke="#222" stroke-width="0.95" fill="none"/>
<rect x="179.2" y="325.2" width="14.6" height="9.3" fill="#000"/>
<path d="M179.2 338.7v2.6M197.45 338.7v2.6M215.7 338.7v2.6M233.95 338.7v2.6M252.2 338.7v2.6" stroke="#111" stroke-width="0.9" fill="none"/>
<text x="179.2" y="350.1" font-size="8.8" text-anchor="middle" >0</text>
<text x="197.45" y="350.1" font-size="8.8" text-anchor="middle" >2</text>
<text x="215.7" y="350.1" font-size="8.8" text-anchor="middle" >4</text>
<text x="233.95" y="350.1" font-size="8.8" text-anchor="middle" >6</text>
<text x="252.2" y="350.1" font-size="8.8" text-anchor="middle" >8</text>
<path d="M241.3 274.5H245V290H241.3" stroke="#333" stroke-width="0.8" fill="none"/>
<text x="247.8" y="287.5" font-size="9.6" text-anchor="middle" >*</text>
<path d="M241.3 295H245V311.3H241.3" stroke="#333" stroke-width="0.8" fill="none"/>
<text x="247.8" y="307.5" font-size="9.6" text-anchor="middle" >*</text>
<text x="192.7" y="362.2" font-size="8.8" text-anchor="start" textLength="45.1" lengthAdjust="spacing">IL-4(%,n=4)</text>
<rect x="433.2" y="265.5" width="73.2" height="73.4" fill="none" stroke="#888" stroke-width="0.7"/>
<path d="M433.2 265.2V338.9H506.7" fill="none" stroke="#000" stroke-width="1.2"/>
<path d="M430 275H433.2" stroke="#222" stroke-width="0.8"/>
<path d="M439.2 275H441M440.8 272.7V277.3" stroke="#222" stroke-width="0.95" fill="none"/>
<rect x="433.2" y="270.4" width="6" height="9.2" fill="#000"/>
<path d="M430 293.2H433.2" stroke="#222" stroke-width="0.8"/>
<path d="M466.5 293.2H487.7M487.5 290.9V295.5" stroke="#222" stroke-width="0.95" fill="none"/>
<rect x="433.2" y="288.6" width="33.3" height="9.2" fill="#000"/>
<path d="M430 311.6H433.2" stroke="#222" stroke-width="0.8"/>
<path d="M441 311.6H442.8M442.6 309.3V313.9" stroke="#222" stroke-width="0.95" fill="none"/>
<rect x="433.2" y="307" width="7.8" height="9.2" fill="#000"/>
<path d="M430 329.85H433.2" stroke="#222" stroke-width="0.8"/>
<path d="M437 329.85H438.4M438.2 327.55V332.15" stroke="#222" stroke-width="0.95" fill="none"/>
<rect x="433.2" y="325.2" width="3.8" height="9.3" fill="#000"/>
<path d="M433.2 338.9v2.6M451.5 338.9v2.6M469.8 338.9v2.6M488.1 338.9v2.6M506.4 338.9v2.6" stroke="#111" stroke-width="0.9" fill="none"/>
<text x="433.2" y="350.3" font-size="8.8" text-anchor="middle" >0.0</text>
<text x="451.5" y="350.3" font-size="8.8" text-anchor="middle" >0.5</text>
<text x="469.8" y="350.3" font-size="8.8" text-anchor="middle" >1.0</text>
<text x="488.1" y="350.3" font-size="8.8" text-anchor="middle" >1.5</text>
<text x="506.4" y="350.3" font-size="8.8" text-anchor="middle" >2.0</text>
<path d="M488.8 275.3H492.3V290H488.8" stroke="#333" stroke-width="0.8" fill="none"/>
<text x="495" y="288.3" font-size="9.6" text-anchor="middle" >*</text>
<path d="M488.8 295.4H492.3V311.5H488.8" stroke="#333" stroke-width="0.8" fill="none"/>
<text x="495" y="308.3" font-size="9.6" text-anchor="middle" >*</text>
<path d="M488.8 316.2H492.3V331.2H488.8" stroke="#333" stroke-width="0.8" fill="none"/>
<text x="495" y="328.4" font-size="9.6" text-anchor="middle" >*</text>
<text x="435.5" y="362.6" font-size="8.8" text-anchor="start" textLength="63.6" lengthAdjust="spacing">Ratio IL-4 / IFN-γ</text>
<text x="428.6" y="278.1" font-size="8.8" text-anchor="end" >Control</text>
<text x="428.6" y="296.3" font-size="8.8" text-anchor="end" >TIMP-3</text>
<text x="428.6" y="314.7" font-size="8.8" text-anchor="end" >Wortmannin+TIMP-3</text>
<text x="428.6" y="332.95" font-size="8.8" text-anchor="end" >si-TIMP-3</text>
<rect x="94.7" y="395.6" width="72.8" height="72.9" fill="none" stroke="#333" stroke-width="0.8"/>
<path d="M94.7 395.3V468.5H167.8" fill="none" stroke="#000" stroke-width="1.2"/>
<path d="M91.5 404.3H94.7" stroke="#222" stroke-width="0.8"/>
<path d="M131.8 404.3H136.8M136.6 402V406.6" stroke="#222" stroke-width="0.95" fill="none"/>
<rect x="94.7" y="399.7" width="37.1" height="9.2" fill="#000"/>
<path d="M91.5 422.7H94.7" stroke="#222" stroke-width="0.8"/>
<path d="M111.8 422.7H114.3M114.1 420.4V425" stroke="#222" stroke-width="0.95" fill="none"/>
<rect x="94.7" y="418" width="17.1" height="9.4" fill="#000"/>
<path d="M91.5 441H94.7" stroke="#222" stroke-width="0.8"/>
<path d="M129.5 441H130.3M130.1 438.7V443.3" stroke="#222" stroke-width="0.95" fill="none"/>
<rect x="94.7" y="436.3" width="34.8" height="9.4" fill="#000"/>
<path d="M91.5 459.4H94.7" stroke="#222" stroke-width="0.8"/>
<path d="M145 459.4H153.8M153.6 457.1V461.7" stroke="#222" stroke-width="0.95" fill="none"/>
<rect x="94.7" y="454.7" width="50.3" height="9.4" fill="#000"/>
<path d="M94.7 468.5v2.6M118.97 468.5v2.6M143.23 468.5v2.6M167.5 468.5v2.6" stroke="#111" stroke-width="0.9" fill="none"/>
<text x="94.7" y="479.9" font-size="8.8" text-anchor="middle" >0</text>
<text x="118.97" y="479.9" font-size="8.8" text-anchor="middle" >5</text>
<text x="143.23" y="479.9" font-size="8.8" text-anchor="middle" >10</text>
<text x="167.5" y="479.9" font-size="8.8" text-anchor="middle" >15</text>
<path d="M150 403.8H153.2V420H150" stroke="#333" stroke-width="0.8" fill="none"/>
<text x="156" y="417.5" font-size="9.6" text-anchor="middle" >*</text>
<path d="M150 425H153.2V440.5H150" stroke="#333" stroke-width="0.8" fill="none"/>
<text x="156" y="437.4" font-size="9.6" text-anchor="middle" >*</text>
<text x="105.45" y="492.1" font-size="8.8" text-anchor="start" textLength="48.6" lengthAdjust="spacing">IFN-γ (ng/ml)</text>
<text x="90" y="407.4" font-size="8.8" text-anchor="end" >Control</text>
<text x="90" y="425.8" font-size="8.8" text-anchor="end" >TIMP-3</text>
<text x="90" y="444.1" font-size="8.8" text-anchor="end" >Wortmannin+TIMP-3</text>
<text x="90" y="462.5" font-size="8.8" text-anchor="end" >si-TIMP-3</text>
<rect x="179.4" y="395.3" width="73.2" height="73.2" fill="none" stroke="#333" stroke-width="0.8"/>
<path d="M179.4 395V468.5H252.9" fill="none" stroke="#000" stroke-width="1.2"/>
<path d="M176.2 404.3H179.4" stroke="#222" stroke-width="0.8"/>
<path d="M194.5 404.3H199.3M199.1 402V406.6" stroke="#222" stroke-width="0.95" fill="none"/>
<rect x="179.4" y="399.7" width="15.1" height="9.2" fill="#000"/>
<path d="M176.2 422.7H179.4" stroke="#222" stroke-width="0.8"/>
<path d="M223.3 422.7H230.5M230.3 420.4V425" stroke="#222" stroke-width="0.95" fill="none"/>
<rect x="179.4" y="418" width="43.9" height="9.4" fill="#000"/>
<path d="M176.2 441H179.4" stroke="#222" stroke-width="0.8"/>
<path d="M197.5 441H202.5M202.3 438.7V443.3" stroke="#222" stroke-width="0.95" fill="none"/>
<rect x="179.4" y="436.3" width="18.1" height="9.4" fill="#000"/>
<path d="M176.2 459.4H179.4" stroke="#222" stroke-width="0.8"/>
<path d="M193.8 459.4H195.8M195.6 457.1V461.7" stroke="#222" stroke-width="0.95" fill="none"/>
<rect x="179.4" y="454.7" width="14.4" height="9.4" fill="#000"/>
<path d="M179.4 468.5v2.6M203.8 468.5v2.6M228.2 468.5v2.6M252.6 468.5v2.6" stroke="#111" stroke-width="0.9" fill="none"/>
<text x="179.4" y="479.9" font-size="8.8" text-anchor="middle" >0</text>
<text x="203.8" y="479.9" font-size="8.8" text-anchor="middle" >40</text>
<text x="228.2" y="479.9" font-size="8.8" text-anchor="middle" >80</text>
<text x="252.6" y="479.9" font-size="8.8" text-anchor="middle" >120</text>
<path d="M233.8 403.8H237V420H233.8" stroke="#333" stroke-width="0.8" fill="none"/>
<text x="239.8" y="416.7" font-size="9.6" text-anchor="middle" >*</text>
<path d="M233.8 425H237V441.3H233.8" stroke="#333" stroke-width="0.8" fill="none"/>
<text x="239.8" y="437.4" font-size="9.6" text-anchor="middle" >*</text>
<text x="191.7" y="492.1" font-size="8.8" text-anchor="start" textLength="46.1" lengthAdjust="spacing">IL-4 (pg/ml)</text>
<rect x="264" y="395.3" width="73.6" height="73.2" fill="none" stroke="#333" stroke-width="0.8"/>
<path d="M264 395V468.5H337.9" fill="none" stroke="#000" stroke-width="1.2"/>
<path d="M260.8 404.3H264" stroke="#222" stroke-width="0.8"/>
<path d="M302.5 404.3H307M306.8 402V406.6" stroke="#222" stroke-width="0.95" fill="none"/>
<rect x="264" y="399.7" width="38.5" height="9.2" fill="#000"/>
<path d="M260.8 422.7H264" stroke="#222" stroke-width="0.8"/>
<path d="M311.8 422.7H315.5M315.3 420.4V425" stroke="#222" stroke-width="0.95" fill="none"/>
<rect x="264" y="418" width="47.8" height="9.4" fill="#000"/>
<path d="M260.8 441H264" stroke="#222" stroke-width="0.8"/>
<path d="M306.3 441H313.3M313.1 438.7V443.3" stroke="#222" stroke-width="0.95" fill="none"/>
<rect x="264" y="436.3" width="42.3" height="9.4" fill="#000"/>
<path d="M260.8 459.4H264" stroke="#222" stroke-width="0.8"/>
<path d="M300 459.4H303.8M303.6 457.1V461.7" stroke="#222" stroke-width="0.95" fill="none"/>
<rect x="264" y="454.7" width="36" height="9.4" fill="#000"/>
<path d="M264 468.5v2.6M288.53 468.5v2.6M313.07 468.5v2.6M337.6 468.5v2.6" stroke="#111" stroke-width="0.9" fill="none"/>
<text x="264" y="479.9" font-size="8.8" text-anchor="middle" >0</text>
<text x="288.53" y="479.9" font-size="8.8" text-anchor="middle" >50</text>
<text x="313.07" y="479.9" font-size="8.8" text-anchor="middle" >100</text>
<text x="337.6" y="479.9" font-size="8.8" text-anchor="middle" >150</text>
<text x="276.7" y="492.1" font-size="8.8" text-anchor="start" textLength="46.1" lengthAdjust="spacing">IL-5 (pg/ml)</text>
<rect x="348.5" y="395.3" width="74.1" height="73.2" fill="none" stroke="#333" stroke-width="0.8"/>
<path d="M348.5 395V468.5H422.9" fill="none" stroke="#000" stroke-width="1.2"/>
<path d="M345.3 404.3H348.5" stroke="#222" stroke-width="0.8"/>
<path d="M383.8 404.3H387.5M387.3 402V406.6" stroke="#222" stroke-width="0.95" fill="none"/>
<rect x="348.5" y="399.7" width="35.3" height="9.2" fill="#000"/>
<path d="M345.3 422.7H348.5" stroke="#222" stroke-width="0.8"/>
<path d="M386.8 422.7H399.5M399.3 420.4V425" stroke="#222" stroke-width="0.95" fill="none"/>
<rect x="348.5" y="418" width="38.3" height="9.4" fill="#000"/>
<path d="M345.3 441H348.5" stroke="#222" stroke-width="0.8"/>
<path d="M386.8 441H388.8M388.6 438.7V443.3" stroke="#222" stroke-width="0.95" fill="none"/>
<rect x="348.5" y="436.3" width="38.3" height="9.4" fill="#000"/>
<path d="M345.3 459.4H348.5" stroke="#222" stroke-width="0.8"/>
<path d="M383.3 459.4H385M384.8 457.1V461.7" stroke="#222" stroke-width="0.95" fill="none"/>
<rect x="348.5" y="454.7" width="34.8" height="9.4" fill="#000"/>
<path d="M348.5 468.5v2.6M373.2 468.5v2.6M397.9 468.5v2.6M422.6 468.5v2.6" stroke="#111" stroke-width="0.9" fill="none"/>
<text x="348.5" y="479.9" font-size="8.8" text-anchor="middle" >0</text>
<text x="373.2" y="479.9" font-size="8.8" text-anchor="middle" >20</text>
<text x="397.9" y="479.9" font-size="8.8" text-anchor="middle" >40</text>
<text x="422.6" y="479.9" font-size="8.8" text-anchor="middle" >60</text>
<text x="358.95" y="492.1" font-size="8.8" text-anchor="start" textLength="50.6" lengthAdjust="spacing">IL-10 (pg/ml)</text>
<rect x="433.2" y="395.6" width="73.5" height="72.9" fill="none" stroke="#333" stroke-width="0.8"/>
<path d="M433.2 395.3V468.5H507" fill="none" stroke="#000" stroke-width="1.2"/>
<path d="M430 404.3H433.2" stroke="#222" stroke-width="0.8"/>
<path d="M449.2 404.3H454.7M454.5 402V406.6" stroke="#222" stroke-width="0.95" fill="none"/>
<rect x="433.2" y="399.7" width="16" height="9.2" fill="#000"/>
<path d="M430 422.7H433.2" stroke="#222" stroke-width="0.8"/>
<path d="M464.2 422.7H466.9M466.7 420.4V425" stroke="#222" stroke-width="0.95" fill="none"/>
<rect x="433.2" y="418" width="31" height="9.4" fill="#000"/>
<path d="M430 441H433.2" stroke="#222" stroke-width="0.8"/>
<path d="M449.6 441H457M456.8 438.7V443.3" stroke="#222" stroke-width="0.95" fill="none"/>
<rect x="433.2" y="436.3" width="16.4" height="9.4" fill="#000"/>
<path d="M430 459.4H433.2" stroke="#222" stroke-width="0.8"/>
<path d="M446.2 459.4H446.9M446.7 457.1V461.7" stroke="#222" stroke-width="0.95" fill="none"/>
<rect x="433.2" y="454.7" width="13" height="9.4" fill="#000"/>
<path d="M433.2 468.5v2.6M457.7 468.5v2.6M482.2 468.5v2.6M506.7 468.5v2.6" stroke="#111" stroke-width="0.9" fill="none"/>
<text x="433.2" y="479.9" font-size="8.8" text-anchor="middle" >0</text>
<text x="457.7" y="479.9" font-size="8.8" text-anchor="middle" >2</text>
<text x="482.2" y="479.9" font-size="8.8" text-anchor="middle" >4</text>
<text x="506.7" y="479.9" font-size="8.8" text-anchor="middle" >6</text>
<path d="M469.9 403H472.9V419.6H469.9" stroke="#333" stroke-width="0.8" fill="none"/>
<text x="475.6" y="416.9" font-size="9.6" text-anchor="middle" >*</text>
<text x="443.55" y="492.1" font-size="8.8" text-anchor="start" textLength="50.6" lengthAdjust="spacing">IL-13 (ng/ml)</text>
<rect x="179.5" y="507.3" width="73.3" height="73.5" fill="none" stroke="#333" stroke-width="0.8"/>
<path d="M179.5 507V580.8H253.1" fill="none" stroke="#000" stroke-width="1.2"/>
<path d="M176.3 516.75H179.5" stroke="#222" stroke-width="0.8"/>
<path d="M187.4 516.75H189.3M189.1 514.45V519.05" stroke="#222" stroke-width="0.95" fill="none"/>
<rect x="179.5" y="512.1" width="7.9" height="9.3" fill="#000"/>
<path d="M176.3 535H179.5" stroke="#222" stroke-width="0.8"/>
<path d="M228.8 535H230.5M230.3 532.7V537.3" stroke="#222" stroke-width="0.95" fill="none"/>
<rect x="179.5" y="530.2" width="49.3" height="9.6" fill="#000"/>
<path d="M176.3 553.35H179.5" stroke="#222" stroke-width="0.8"/>
<path d="M190 553.35H192.5M192.3 551.05V555.65" stroke="#222" stroke-width="0.95" fill="none"/>
<rect x="179.5" y="548.6" width="10.5" height="9.5" fill="#000"/>
<path d="M176.3 571.7H179.5" stroke="#222" stroke-width="0.8"/>
<rect x="179.5" y="566.9" width="5.5" height="9.6" fill="#000"/>
<path d="M179.5 580.8v2.6M203.93 580.8v2.6M228.37 580.8v2.6M252.8 580.8v2.6" stroke="#111" stroke-width="0.9" fill="none"/>
<text x="179.5" y="592.2" font-size="8.8" text-anchor="middle" >0</text>
<text x="203.93" y="592.2" font-size="8.8" text-anchor="middle" >10</text>
<text x="228.37" y="592.2" font-size="8.8" text-anchor="middle" >20</text>
<text x="252.8" y="592.2" font-size="8.8" text-anchor="middle" >30</text>
<path d="M235 517H238.8V532.5H235" stroke="#333" stroke-width="0.8" fill="none"/>
<text x="241.4" y="529.9" font-size="9.6" text-anchor="middle" >*</text>
<path d="M235 537.5H238.8V553.3H235" stroke="#333" stroke-width="0.8" fill="none"/>
<text x="241.4" y="550.7" font-size="9.6" text-anchor="middle" >*</text>
<text x="170.1" y="605.9" font-size="8.8" textLength="33.8" lengthAdjust="spacing">Ratio(10</text><text x="204.6" y="603" font-size="5.2" style="stroke-width:0.2px">-3</text><text x="209.5" y="605.9" font-size="8.8">)</text><text x="217" y="605.9" font-size="8.8" textLength="42" lengthAdjust="spacing">IL-4 / IFN-γ</text>
<text x="174.8" y="519.85" font-size="8.8" text-anchor="end" >Control</text>
<text x="174.8" y="538.1" font-size="8.8" text-anchor="end" >TIMP-3</text>
<text x="174.8" y="556.45" font-size="8.8" text-anchor="end" >Wortmannin+TIMP-3</text>
<text x="174.8" y="574.8" font-size="8.8" text-anchor="end" >si-TIMP-3</text>
<rect x="264.1" y="508.4" width="73.5" height="73.3" fill="none" stroke="#333" stroke-width="0.8"/>
<path d="M264.1 508.1V581.7H337.9" fill="none" stroke="#000" stroke-width="1.2"/>
<path d="M260.9 517.65H264.1" stroke="#222" stroke-width="0.8"/>
<path d="M281.1 517.65H285M284.8 515.35V519.95" stroke="#222" stroke-width="0.95" fill="none"/>
<rect x="264.1" y="512.9" width="17" height="9.5" fill="#000"/>
<path d="M260.9 535.85H264.1" stroke="#222" stroke-width="0.8"/>
<path d="M308.3 535.85H310.5M310.3 533.55V538.15" stroke="#222" stroke-width="0.95" fill="none"/>
<rect x="264.1" y="531.2" width="44.2" height="9.3" fill="#000"/>
<path d="M260.9 554.4H264.1" stroke="#222" stroke-width="0.8"/>
<path d="M283.8 554.4H286.8M286.6 552.1V556.7" stroke="#222" stroke-width="0.95" fill="none"/>
<rect x="264.1" y="549.7" width="19.7" height="9.4" fill="#000"/>
<path d="M260.9 572.75H264.1" stroke="#222" stroke-width="0.8"/>
<path d="M276.2 572.75H276.8M276.6 570.45V575.05" stroke="#222" stroke-width="0.95" fill="none"/>
<rect x="264.1" y="567.9" width="12.1" height="9.7" fill="#000"/>
<path d="M264.1 581.7v2.6M288.6 581.7v2.6M313.1 581.7v2.6M337.6 581.7v2.6" stroke="#111" stroke-width="0.9" fill="none"/>
<text x="264.1" y="593.1" font-size="8.8" text-anchor="middle" >0</text>
<text x="288.6" y="593.1" font-size="8.8" text-anchor="middle" >15</text>
<text x="313.1" y="593.1" font-size="8.8" text-anchor="middle" >30</text>
<text x="337.6" y="593.1" font-size="8.8" text-anchor="middle" >45</text>
<path d="M315.5 517H318.8V533H315.5" stroke="#333" stroke-width="0.8" fill="none"/>
<text x="321.8" y="530.4" font-size="9.6" text-anchor="middle" >*</text>
<path d="M315.5 538H318.8V553.8H315.5" stroke="#333" stroke-width="0.8" fill="none"/>
<text x="321.8" y="551.2" font-size="9.6" text-anchor="middle" >*</text>
<text x="277.95" y="605.8" font-size="8.8" text-anchor="start" textLength="41.1" lengthAdjust="spacing">IL-5 / IFN-γ</text>
<rect x="348.5" y="508.4" width="74.1" height="73.3" fill="none" stroke="#333" stroke-width="0.8"/>
<path d="M348.5 508.1V581.7H422.9" fill="none" stroke="#000" stroke-width="1.2"/>
<path d="M345.3 517.65H348.5" stroke="#222" stroke-width="0.8"/>
<path d="M367.8 517.65H372M371.8 515.35V519.95" stroke="#222" stroke-width="0.95" fill="none"/>
<rect x="348.5" y="512.9" width="19.3" height="9.5" fill="#000"/>
<path d="M345.3 535.85H348.5" stroke="#222" stroke-width="0.8"/>
<path d="M390.8 535.85H399.5M399.3 533.55V538.15" stroke="#222" stroke-width="0.95" fill="none"/>
<rect x="348.5" y="531.2" width="42.3" height="9.3" fill="#000"/>
<path d="M345.3 554.4H348.5" stroke="#222" stroke-width="0.8"/>
<path d="M370.3 554.4H372M371.8 552.1V556.7" stroke="#222" stroke-width="0.95" fill="none"/>
<rect x="348.5" y="549.7" width="21.8" height="9.4" fill="#000"/>
<path d="M345.3 572.75H348.5" stroke="#222" stroke-width="0.8"/>
<path d="M362 572.75H364.3M364.1 570.45V575.05" stroke="#222" stroke-width="0.95" fill="none"/>
<rect x="348.5" y="567.9" width="13.5" height="9.7" fill="#000"/>
<path d="M348.5 581.7v2.6M373.2 581.7v2.6M397.9 581.7v2.6M422.6 581.7v2.6" stroke="#111" stroke-width="0.9" fill="none"/>
<text x="348.5" y="593.1" font-size="8.8" text-anchor="middle" >0</text>
<text x="373.2" y="593.1" font-size="8.8" text-anchor="middle" >5</text>
<text x="397.9" y="593.1" font-size="8.8" text-anchor="middle" >10</text>
<text x="422.6" y="593.1" font-size="8.8" text-anchor="middle" >15</text>
<path d="M401.3 517H404.5V533.8H401.3" stroke="#333" stroke-width="0.8" fill="none"/>
<text x="407.6" y="530.4" font-size="9.6" text-anchor="middle" >*</text>
<path d="M401.3 537.5H404.5V553.8H401.3" stroke="#333" stroke-width="0.8" fill="none"/>
<text x="407.6" y="551.2" font-size="9.6" text-anchor="middle" >*</text>
<text x="360.47" y="605.8" font-size="8.8" text-anchor="start" textLength="44.85" lengthAdjust="spacing">IL-10 / IFN-γ</text>
<rect x="433.2" y="508.2" width="73.5" height="73.3" fill="none" stroke="#333" stroke-width="0.8"/>
<path d="M433.2 507.9V581.5H507" fill="none" stroke="#000" stroke-width="1.2"/>
<path d="M430 517.65H433.2" stroke="#222" stroke-width="0.8"/>
<path d="M447.3 517.65H450.8M450.6 515.35V519.95" stroke="#222" stroke-width="0.95" fill="none"/>
<rect x="433.2" y="512.9" width="14.1" height="9.5" fill="#000"/>
<path d="M430 535.85H433.2" stroke="#222" stroke-width="0.8"/>
<path d="M491.2 535.85H493.5M493.3 533.55V538.15" stroke="#222" stroke-width="0.95" fill="none"/>
<rect x="433.2" y="531.2" width="58" height="9.3" fill="#000"/>
<path d="M430 554.4H433.2" stroke="#222" stroke-width="0.8"/>
<path d="M448.9 554.4H456.5M456.3 552.1V556.7" stroke="#222" stroke-width="0.95" fill="none"/>
<rect x="433.2" y="549.7" width="15.7" height="9.4" fill="#000"/>
<path d="M430 572.75H433.2" stroke="#222" stroke-width="0.8"/>
<path d="M441.5 572.75H442.2M442 570.45V575.05" stroke="#222" stroke-width="0.95" fill="none"/>
<rect x="433.2" y="567.9" width="8.3" height="9.7" fill="#000"/>
<path d="M433.2 581.5v2.6M457.7 581.5v2.6M482.2 581.5v2.6M506.7 581.5v2.6" stroke="#111" stroke-width="0.9" fill="none"/>
<text x="433.2" y="592.9" font-size="8.8" text-anchor="middle" >0</text>
<text x="457.7" y="592.9" font-size="8.8" text-anchor="middle" >300</text>
<text x="482.2" y="592.9" font-size="8.8" text-anchor="middle" >600</text>
<text x="506.7" y="592.9" font-size="8.8" text-anchor="middle" >900</text>
<path d="M494.6 517.3H498.1V533.5H494.6" stroke="#333" stroke-width="0.8" fill="none"/>
<text x="501" y="531.4" font-size="9.6" text-anchor="middle" >*</text>
<path d="M494.6 538.8H498.1V554.2H494.6" stroke="#333" stroke-width="0.8" fill="none"/>
<text x="501" y="551.7" font-size="9.6" text-anchor="middle" >*</text>
<text x="443.45" y="605.8" font-size="8.8" text-anchor="start" textLength="49.1" lengthAdjust="spacing">IL-13 / IFN- γ</text>
</svg>
</body>
</html>
